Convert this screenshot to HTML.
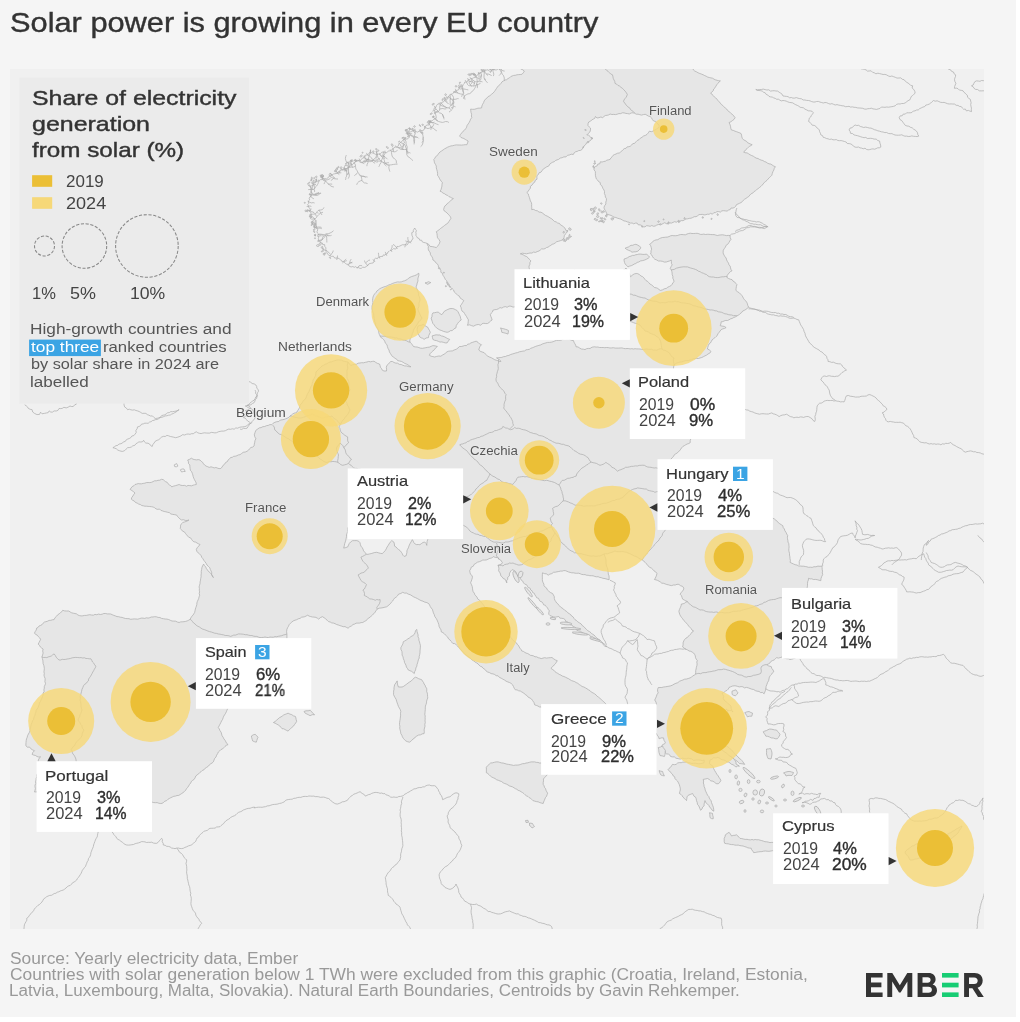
<!DOCTYPE html>
<html><head><meta charset="utf-8"><title>Solar power is growing in every EU country</title>
<style>
html,body{margin:0;padding:0;background:#fff;}
body{width:1020px;height:1022px;position:relative;overflow:hidden;font-family:"Liberation Sans",sans-serif;color:#333;}
#page{position:absolute;left:0;top:0;width:1016px;height:1017px;background:#f5f5f5;}
.abs{position:absolute;white-space:nowrap;}
.t{position:absolute;white-space:nowrap;line-height:1;will-change:transform;transform-origin:0 0;}
#map{position:absolute;left:10px;top:69px;width:974px;height:860px;background:#f0f0f0;overflow:hidden;}
.badge{will-change:transform;position:absolute;width:14.4px;height:14.3px;color:#fff;font-size:15.5px;line-height:14.2px;text-align:center;}
</style></head><body><div id="page">
<div id="map"><svg width="974" height="860" viewBox="10 69 974 860" style="position:absolute;left:0;top:0">
<g fill="#e6e6e6" stroke="#ababab" stroke-width="0.7" stroke-linejoin="round">
<path d="M380.0 335.9L379.3 334.4L378.8 332.8L378.6 331.1L378.0 329.5L377.2 328.0L376.4 326.5L375.5 325.1L375.5 323.3L374.7 321.8L374.6 320.2L374.1 318.6L373.9 317.1L373.7 315.4L373.7 313.8L373.0 312.3L372.5 310.8L372.1 309.2L372.0 307.6L372.1 305.8L372.6 304.1L372.9 302.3L372.6 300.5L372.7 298.8L373.0 297.0L373.7 295.3L374.6 293.9L375.9 292.6L376.8 291.1L378.2 290.0L379.8 288.7L381.5 287.8L383.4 287.1L385.3 286.5L387.1 285.9L388.8 284.9L390.6 284.4L392.3 283.5L394.1 282.9L395.8 282.3L397.6 281.9L399.5 282.0L401.3 281.9L403.0 281.2L404.6 280.8L406.1 280.1L407.5 279.3L408.6 278.2L410.0 277.3L411.5 276.6L413.1 276.1L414.7 275.6L416.2 275.0L418.8 273.2L418.9 275.2L418.3 277.1L417.8 279.0L418.0 281.0L417.2 283.0L416.8 285.0L416.0 287.0L416.7 288.5L417.5 290.1L418.0 291.7L418.6 293.3L418.5 295.1L419.3 296.7L419.8 298.3L420.0 300.0L419.5 301.6L418.9 303.2L419.1 305.0L418.9 306.7L418.1 308.3L418.0 310.0L418.7 311.6L419.5 313.3L420.2 314.9L421.0 316.5L422.0 318.0L421.2 319.5L419.9 320.6L418.7 321.8L417.9 323.3L417.0 324.7L416.0 326.0L415.2 327.4L414.2 328.8L413.4 330.2L413.2 332.0L412.4 333.4L412.0 335.0L411.4 336.7L410.5 338.4L409.8 340.1L410.0 342.1L411.3 343.4L412.4 344.9L413.5 346.5L415.3 346.9L417.1 347.0L418.9 347.6L420.6 348.2L422.4 348.3L424.1 348.0L425.9 347.7L427.6 347.3L429.5 347.1L431.2 346.3L432.9 345.6L435.2 345.9L437.4 346.5L435.7 347.8L434.5 349.6L432.9 350.9L431.5 352.2L430.2 353.5L429.4 355.3L431.1 356.2L432.9 356.6L434.7 357.0L436.7 356.4L438.8 356.0L440.9 356.2L442.4 355.1L444.1 354.2L445.6 353.1L447.0 351.8L448.7 351.2L450.6 351.0L452.4 350.9L454.1 350.0L456.2 349.3L457.9 348.1L459.4 346.5L461.2 346.5L463.0 346.1L464.7 345.5L466.5 345.6L467.7 344.2L469.5 343.9L470.9 342.9L472.7 342.3L474.4 341.7L476.2 341.2L478.0 342.3L479.5 343.9L481.5 344.7L480.1 346.2L479.3 348.0L478.8 350.0L480.3 351.3L482.2 352.0L484.1 352.6L485.2 353.9L486.5 355.1L487.8 356.2L489.4 357.0L491.3 357.7L493.0 358.7L494.7 359.7L496.2 360.2L497.8 360.7L499.2 361.5L500.9 361.5L499.8 359.9L498.1 358.9L496.5 357.9L498.3 357.7L500.1 357.6L501.8 357.4L503.5 356.7L505.4 356.5L507.1 355.7L508.9 355.4L510.6 354.5L512.3 354.0L514.1 353.5L515.8 352.9L517.6 352.6L519.3 351.8L521.1 351.5L522.9 351.1L524.7 350.9L526.0 349.8L527.7 349.6L529.4 349.3L530.7 348.3L532.3 347.8L533.8 347.2L535.3 346.5L537.1 345.9L538.9 345.4L540.7 344.9L542.3 344.0L544.1 343.4L545.9 342.9L547.6 342.4L549.5 342.4L551.3 342.2L553.1 341.7L554.8 341.0L556.5 340.3L558.3 340.4L560.0 340.3L561.8 339.9L563.3 339.0L565.0 338.5L566.7 338.9L568.5 339.1L570.1 339.6L571.8 340.4L573.5 340.6L574.0 342.2L574.8 343.7L575.7 345.1L576.0 346.8L578.0 346.9L579.6 348.0L581.3 349.0L583.3 349.2L585.0 349.6L586.6 348.7L588.3 348.4L590.0 348.5L592.0 347.2L594.4 346.8L596.1 347.1L597.9 347.0L599.6 347.5L601.3 347.5L603.1 347.5L604.8 347.7L606.6 347.5L608.3 347.6L610.0 348.0L611.7 347.9L613.4 347.7L615.1 348.1L616.8 348.1L618.5 348.1L620.2 348.0L621.9 347.9L623.6 348.4L625.3 348.7L627.0 348.5L628.6 348.6L630.2 348.9L631.9 348.7L633.5 349.0L635.1 348.7L636.7 348.9L638.4 348.9L640.0 349.0L641.7 349.3L643.3 349.6L645.0 349.2L646.7 349.0L648.4 349.3L650.0 349.3L651.7 349.3L653.3 350.0L655.0 350.0L656.8 350.2L658.5 349.3L660.2 348.7L662.0 349.0L661.6 347.2L661.3 345.4L661.0 343.6L660.7 341.7L660.0 340.0L659.1 338.4L657.9 337.1L656.2 336.3L655.0 335.0L653.2 334.5L651.6 333.8L649.9 333.2L648.4 332.0L646.8 331.4L645.0 331.0L643.9 329.4L642.5 328.0L641.0 326.7L640.0 325.0L638.4 324.4L636.9 323.5L635.2 323.3L633.6 322.7L632.0 322.0L630.3 321.5L628.7 320.7L626.9 320.2L625.1 319.8L623.6 318.8L622.0 318.0L621.2 316.1L621.4 314.0L621.0 312.0L621.0 310.2L620.2 308.5L620.1 306.8L620.0 305.0L619.6 303.4L619.8 301.6L619.9 300.0L619.4 298.3L619.3 296.7L619.0 295.0L618.7 293.3L618.2 291.7L618.0 290.0L617.7 288.3L617.5 286.7L617.4 285.0L617.7 283.3L617.5 281.6L617.0 280.0L617.4 278.3L618.0 276.7L619.1 275.3L619.7 273.7L620.0 272.0L621.7 271.3L623.2 270.3L624.7 269.3L626.0 268.0L626.9 269.4L627.7 270.8L628.5 272.2L629.4 273.6L629.9 275.2L630.6 276.7L632.9 274.7L634.4 273.9L636.1 273.5L637.8 273.7L639.5 274.6L640.9 276.0L642.7 276.7L643.9 277.9L644.8 279.2L645.9 280.5L647.5 281.3L648.6 282.5L649.9 284.0L651.6 284.9L653.1 286.2L654.5 287.5L656.2 287.8L657.7 288.4L659.0 289.5L660.4 290.4L662.4 289.9L664.3 288.8L666.3 288.4L667.8 287.2L669.5 286.4L671.2 285.5L672.2 284.2L672.9 282.7L674.1 281.6L673.6 279.9L672.8 278.2L672.9 276.4L672.2 274.7L672.1 273.0L671.8 271.4L671.2 269.8L670.2 268.8L671.0 266.7L672.2 264.9L671.4 263.4L671.4 261.7L671.2 260.0L669.7 260.9L668.0 261.4L666.3 262.0L664.3 262.1L662.4 261.3L660.4 261.0L658.4 261.0L656.8 260.0L654.9 259.3L653.5 258.0L652.6 256.7L651.9 255.2L650.6 254.1L651.0 252.5L651.0 250.8L651.6 249.2L651.2 247.5L650.7 245.7L649.6 244.3L651.4 243.2L652.7 241.5L654.5 240.4L656.1 239.9L657.8 239.7L659.3 238.7L660.8 238.0L662.4 237.5L664.1 237.4L665.7 237.2L667.4 237.1L669.0 236.6L670.6 235.8L672.2 235.5L673.9 235.7L675.5 235.7L677.2 235.6L678.8 235.0L680.4 234.6L682.0 234.5L683.7 234.7L685.4 234.8L687.0 234.0L688.7 233.5L690.3 233.2L692.0 233.5L693.7 233.5L695.4 233.4L697.1 233.3L698.8 233.7L700.4 234.4L702.1 234.4L703.8 234.1L705.5 234.5L707.2 234.3L708.9 234.3L710.6 234.5L712.3 234.6L714.0 234.6L715.6 235.0L717.3 235.5L719.1 235.1L720.9 234.9L722.7 234.8L724.6 235.2L726.4 235.6L728.2 235.4L730.0 235.5L730.2 237.5L731.0 239.4L729.8 240.9L728.9 242.6L727.8 244.2L726.1 245.3L725.4 247.1L724.3 248.6L723.3 250.2L723.1 252.2L723.4 253.9L724.2 255.3L725.0 256.7L726.1 258.0L726.6 259.8L727.4 261.5L728.5 263.1L729.0 264.9L730.2 266.1L730.5 267.9L731.0 269.5L732.0 270.8L730.4 271.6L729.2 272.9L728.1 274.2L727.1 275.7L727.1 277.6L728.6 278.5L730.3 279.2L732.0 279.6L733.0 281.1L734.6 281.9L735.7 283.3L736.9 284.5L736.4 286.4L736.1 288.4L735.9 290.4L737.5 291.7L739.3 292.8L740.8 294.3L741.9 295.5L742.8 296.9L743.5 298.4L744.5 299.7L745.7 300.9L746.7 302.2L747.4 303.8L747.8 305.5L748.6 307.1L747.3 308.3L745.9 309.4L744.4 310.3L742.7 311.0L741.6 312.6L740.0 313.7L738.7 315.1L736.9 315.9L735.4 316.9L733.8 317.5L732.2 318.4L730.5 318.9L729.0 319.8L727.5 320.5L725.8 320.4L724.3 320.9L722.8 321.6L721.2 321.8L720.9 323.8L720.2 325.7L722.2 326.1L724.3 326.4L726.1 327.6L724.5 328.4L722.8 328.9L721.2 329.6L720.1 331.0L719.1 332.4L717.9 333.8L717.3 335.5L716.0 336.6L714.8 337.8L713.4 338.8L712.1 339.9L711.3 341.5L710.4 343.0L709.0 344.0L708.3 345.6L707.8 347.3L707.5 349.0L709.4 350.0L711.0 351.5L709.8 353.1L708.0 354.0L706.6 355.1L704.9 355.9L703.4 356.7L701.8 357.5L700.0 358.0L698.4 358.5L696.6 358.4L694.9 358.7L693.2 358.8L691.7 359.8L690.0 360.0L688.4 360.6L686.6 360.5L685.0 360.8L683.3 361.4L681.7 361.9L680.0 362.0L678.4 362.6L676.8 363.0L675.3 363.9L674.0 365.0L673.5 368.0L673.7 369.7L674.4 371.4L675.0 373.0L675.3 374.8L675.3 376.6L675.8 378.3L676.0 380.0L676.4 381.6L677.0 383.1L677.7 384.6L678.2 386.1L678.9 387.6L679.5 389.0L679.9 390.6L680.5 392.1L681.3 393.6L682.0 395.0L683.2 396.1L684.3 397.2L685.4 398.4L686.0 400.0L686.7 401.5L687.9 402.6L688.8 403.9L690.0 405.0L689.9 406.7L689.4 408.3L689.6 410.0L689.0 411.6L688.7 413.3L688.2 414.9L688.0 416.6L688.1 418.3L688.0 420.0L688.4 421.6L688.9 423.3L688.7 425.0L688.9 426.7L689.7 428.3L689.6 430.0L690.3 431.7L690.8 433.3L690.4 435.1L690.5 436.8L691.0 438.4L690.2 440.5L690.2 442.7L688.8 443.5L687.2 444.0L685.7 444.8L684.3 445.7L682.8 446.5L681.7 447.8L680.7 449.2L679.8 450.6L678.4 451.6L677.4 452.9L675.8 453.8L674.4 454.7L673.6 456.2L672.5 457.5L670.6 459.4L670.8 461.2L671.3 462.9L671.0 464.7L671.3 466.5L671.6 468.3L672.0 470.0L672.6 471.6L674.1 472.6L674.8 474.1L676.1 475.3L677.2 476.5L678.0 478.0L679.6 478.7L681.0 479.8L682.3 481.0L683.8 481.9L685.5 482.4L687.2 483.0L688.6 483.9L690.0 485.0L691.6 485.7L693.0 486.8L694.4 487.9L696.0 488.7L697.4 489.6L698.5 491.0L700.0 492.0L701.6 492.7L703.4 492.9L704.9 493.9L706.6 494.3L708.4 494.7L709.9 495.6L711.6 496.2L713.3 496.5L715.0 497.0L716.7 497.3L718.3 497.7L719.9 498.3L721.6 498.7L723.4 498.5L725.1 498.5L726.7 498.9L728.4 499.4L730.0 500.0L731.7 500.3L733.3 500.8L735.1 500.7L736.7 501.1L738.3 501.6L740.0 502.0L741.7 502.1L743.3 502.7L745.0 503.0L746.5 503.6L747.9 504.7L749.5 505.2L751.0 505.8L752.4 506.8L754.0 507.2L755.3 508.2L756.9 508.8L758.5 509.4L760.0 510.0L761.5 510.8L763.0 511.7L764.4 512.7L765.7 513.9L767.3 514.5L768.6 515.7L769.8 516.9L771.6 517.3L773.0 518.3L774.6 519.1L775.9 520.3L777.3 521.3L778.4 522.8L779.8 523.8L781.3 524.7L782.8 525.7L783.2 527.5L784.4 529.0L784.9 530.8L786.0 532.3L786.7 534.0L787.7 535.5L787.4 537.2L787.5 538.8L787.9 540.5L788.0 542.1L788.8 543.7L788.9 545.3L789.1 546.9L788.9 548.5L788.8 550.2L789.1 551.8L789.5 553.4L789.5 555.0L789.9 556.8L790.0 558.7L790.4 560.5L790.1 562.4L791.8 563.2L793.5 564.0L795.2 564.7L797.1 565.1L798.7 566.0L800.4 566.0L802.0 566.2L803.7 566.2L805.3 566.5L806.9 566.8L808.5 567.3L810.4 567.2L812.2 567.4L814.0 566.7L815.9 566.8L817.9 566.1L820.0 566.3L822.0 566.0L822.1 567.7L822.2 569.4L822.5 571.1L822.3 572.9L822.7 574.6L821.7 576.5L821.0 578.5L820.8 580.7L819.0 580.2L817.2 579.7L815.3 579.4L813.4 579.5L811.8 578.8L810.1 578.9L808.5 578.3L808.4 580.0L807.7 581.7L807.5 583.4L807.5 585.2L807.3 586.9L807.0 588.5L807.2 590.2L807.1 591.8L806.6 593.4L806.5 595.1L806.4 596.7L805.9 598.3L806.0 600.0L806.1 601.7L806.4 603.3L807.0 605.0L807.0 606.7L807.2 608.3L807.6 610.0L807.3 611.7L807.6 613.4L808.0 615.0L808.5 616.7L808.9 618.5L809.9 620.1L810.2 621.9L811.0 623.5L812.0 625.0L811.3 626.5L810.8 628.0L809.8 629.3L809.3 630.9L809.2 632.6L808.2 633.9L807.8 635.5L807.3 637.1L806.7 638.5L806.0 640.0L806.1 641.7L805.7 643.4L805.5 645.1L805.4 646.9L805.3 648.6L805.3 650.3L805.0 652.0L803.7 653.1L802.4 654.2L800.9 654.9L799.6 655.9L797.8 656.2L796.6 657.4L795.0 658.0L793.4 658.7L791.7 659.2L790.0 659.5L788.5 658.8L786.7 658.7L785.1 658.2L783.5 657.8L782.0 657.0L780.2 657.6L778.4 658.1L776.5 657.6L775.4 658.8L774.2 659.9L772.7 660.5L771.2 661.2L770.1 662.8L768.5 663.9L766.8 664.7L768.8 666.0L771.2 666.5L771.8 668.4L773.1 670.0L773.8 671.8L772.4 672.9L771.5 674.4L770.3 675.6L769.4 677.1L769.0 678.9L768.6 680.8L767.6 682.4L766.9 684.4L766.1 686.4L765.9 688.5L765.5 690.3L764.8 692.1L764.1 693.8L762.6 692.5L760.6 692.6L759.0 691.4L757.1 691.2L755.3 690.6L753.7 689.5L751.8 689.2L750.0 688.5L748.3 687.9L746.5 687.4L744.5 687.9L742.9 686.8L741.1 686.6L739.3 686.9L737.6 686.4L735.9 685.9L734.1 685.8L732.3 686.1L730.6 686.8L729.0 687.5L728.3 689.1L727.1 690.3L725.4 691.2L723.9 692.5L722.0 693.0L722.8 694.7L723.7 696.3L723.2 698.3L724.0 700.0L725.5 701.1L726.8 702.4L728.1 703.7L729.6 704.8L731.0 706.0L731.1 708.2L731.8 710.2L733.0 712.0L731.5 710.6L729.5 710.6L727.5 710.3L726.0 709.0L727.7 710.3L727.6 712.5L728.2 714.3L729.0 716.0L727.3 715.7L726.0 714.7L724.7 713.8L723.3 712.9L722.0 712.0L720.9 710.7L720.2 709.0L718.6 708.2L717.4 707.0L716.0 706.0L713.8 706.1L711.7 706.5L710.0 708.0L708.9 709.2L708.2 710.7L707.1 711.9L706.4 713.4L706.0 715.0L705.7 716.8L706.2 718.4L707.1 720.0L707.2 721.7L707.6 723.3L708.0 725.0L708.6 726.6L709.6 727.9L710.4 729.4L711.0 731.0L712.3 732.1L713.3 733.5L714.0 735.0L714.1 737.2L713.2 739.2L712.0 741.0L714.0 741.4L715.3 742.8L717.1 743.4L718.7 744.5L720.0 746.0L721.6 746.7L722.4 748.4L724.1 748.9L725.4 750.0L726.6 751.1L728.0 752.0L729.0 753.7L729.8 755.6L731.3 756.9L733.0 758.0L734.1 759.3L735.1 760.7L736.0 762.1L736.0 764.0L737.8 765.0L739.4 766.2L737.5 766.0L735.9 767.1L734.6 765.8L733.1 764.8L731.4 764.2L730.0 763.0L728.6 762.1L726.9 761.8L725.5 760.7L724.0 760.0L722.3 759.8L720.8 759.2L719.4 758.1L717.8 757.4L716.0 758.0L713.7 757.7L712.0 759.3L710.0 760.0L709.4 763.5L711.1 764.9L712.9 766.2L713.6 768.5L714.7 770.6L715.8 772.4L716.9 774.3L718.2 775.9L719.0 777.4L720.0 778.8L720.9 780.3L719.9 782.3L718.2 783.8L716.1 783.6L714.6 782.3L712.9 781.2L710.8 780.9L709.3 779.5L707.6 778.5L705.4 779.0L703.2 779.4L703.6 781.1L703.4 783.0L703.9 784.7L704.1 786.5L704.9 788.2L705.2 790.1L706.0 791.8L706.8 793.6L707.6 795.3L708.8 796.5L709.3 798.2L710.2 799.5L711.2 800.9L711.5 802.6L712.1 804.1L712.8 805.8L713.4 807.5L713.7 809.3L713.8 811.2L712.1 810.2L711.2 808.5L709.7 807.3L708.9 805.5L707.6 804.1L705.8 802.7L705.0 800.6L704.5 802.3L704.1 804.1L704.1 805.9L702.6 807.1L702.0 809.0L700.6 810.3L699.7 808.1L698.8 805.9L697.5 804.4L697.2 802.4L696.5 800.7L696.2 798.8L695.6 797.2L694.1 796.3L693.3 794.9L692.6 793.5L690.4 794.4L688.2 795.3L687.0 796.9L686.8 798.7L686.5 800.6L685.3 799.4L684.1 798.2L682.9 797.0L682.0 795.5L680.9 794.3L679.4 793.5L679.8 791.7L680.3 790.0L680.3 788.2L679.8 786.4L679.3 784.6L678.5 782.9L677.6 781.2L676.3 780.0L675.0 778.7L674.7 776.8L673.1 775.8L672.4 774.1L670.8 772.7L669.6 771.0L667.9 769.7L669.0 768.4L670.5 767.3L671.5 765.9L672.4 764.4L674.3 764.7L676.1 764.4L677.6 763.0L679.4 762.6L681.2 762.7L682.9 762.1L684.8 762.2L686.5 761.8L688.2 762.6L689.9 762.9L691.7 763.4L693.5 763.3L695.3 763.2L697.1 763.5L698.9 763.8L700.7 763.6L702.4 763.3L704.1 762.6L704.1 760.0L702.4 760.7L700.6 760.2L698.9 760.0L697.1 760.0L695.2 760.2L693.3 760.4L691.8 758.8L690.0 758.6L688.2 758.2L686.3 758.8L684.2 758.6L682.2 758.2L680.3 759.1L678.1 758.6L675.9 758.2L674.4 756.9L672.4 756.9L670.6 756.5L669.7 754.9L668.4 754.1L666.5 753.9L665.3 752.9L664.9 750.9L663.3 749.5L661.9 748.0L661.8 745.9L662.7 744.5L664.6 743.9L665.3 742.3L664.0 740.3L663.5 737.9L661.2 737.9L659.1 738.8L658.6 736.7L657.0 735.3L656.3 733.5L654.8 732.3L653.4 731.1L652.1 729.9L651.2 728.2L650.2 726.8L649.0 725.5L647.8 724.3L647.1 722.7L646.0 721.4L645.9 719.4L646.0 717.6L646.0 715.8L646.2 714.0L646.8 712.3L647.6 710.6L649.1 709.6L650.9 709.0L652.5 708.2L653.6 706.5L655.3 705.8L656.5 704.4L656.0 702.1L654.7 700.0L655.6 698.2L656.4 696.4L657.0 694.5L658.2 692.9L657.6 691.1L657.6 689.4L658.2 687.6L660.0 687.5L661.8 687.5L663.5 687.0L665.3 686.8L667.1 686.5L669.0 686.2L670.8 685.8L672.5 685.1L674.1 684.1L675.9 683.3L677.8 682.7L679.4 681.3L681.2 680.6L682.9 680.0L684.6 679.2L686.5 679.0L688.3 678.5L690.0 677.9L691.5 677.2L692.7 675.9L694.2 675.2L695.5 674.2L695.7 672.5L695.7 670.7L696.1 669.0L696.4 667.3L696.9 665.6L697.1 663.9L696.8 662.1L697.3 660.4L696.2 659.1L695.5 657.6L695.3 655.9L694.6 654.4L693.6 653.0L692.2 652.1L690.8 651.3L689.1 651.0L687.8 650.1L686.3 649.4L684.4 648.3L682.6 646.9L683.1 644.9L683.1 642.8L683.8 640.8L684.8 639.3L686.0 638.1L687.6 637.3L688.7 635.9L689.9 634.7L691.2 633.5L692.1 632.0L693.6 631.0L692.0 630.1L691.1 628.6L689.9 627.3L688.7 626.1L687.6 624.5L686.3 623.1L685.1 621.6L683.6 620.3L682.6 618.7L681.5 617.4L680.6 616.1L679.8 614.6L679.3 613.0L678.9 611.4L679.4 609.5L680.3 607.7L681.0 605.9L681.4 604.0L683.1 603.8L684.6 603.2L685.9 602.0L687.5 601.6L685.8 600.8L684.2 600.0L682.6 599.1L682.0 597.3L681.4 595.6L680.1 594.2L681.1 592.7L682.3 591.3L683.4 589.9L683.8 588.1L682.6 586.4L680.5 585.7L678.9 584.4L677.0 584.3L675.3 585.0L673.4 585.0L671.6 585.6L669.9 585.3L668.3 584.8L666.7 584.5L665.1 583.9L663.5 583.3L661.8 583.2L660.5 582.1L659.1 581.2L657.6 580.4L656.1 579.9L654.4 579.5L655.3 578.1L656.0 576.6L656.6 575.1L656.9 573.4L655.7 571.9L654.0 570.9L652.8 569.4L651.4 568.1L649.5 567.3L648.3 566.0L647.3 564.6L646.0 563.5L644.8 562.2L643.7 560.9L642.2 559.9L640.6 559.1L639.0 558.4L637.6 557.4L636.1 556.5L634.3 556.0L632.8 555.2L631.2 554.4L629.7 553.6L628.0 553.0L626.4 552.3L624.8 552.0L623.2 551.6L621.6 551.5L619.9 551.7L618.2 551.7L616.6 551.6L615.0 551.0L613.5 551.6L612.0 552.3L610.4 552.7L608.9 553.3L607.3 553.9L605.6 553.7L604.0 554.0L604.7 556.0L605.6 557.9L606.0 560.0L606.0 561.6L606.0 563.3L606.3 564.8L606.6 566.4L607.4 567.9L607.9 570.1L608.2 572.3L608.3 574.1L609.0 575.8L609.1 577.6L609.1 579.8L607.1 579.2L605.0 578.6L602.9 578.3L601.3 577.7L599.7 577.4L598.1 576.7L596.3 576.8L594.7 576.4L593.1 575.8L591.5 575.7L589.8 575.7L588.2 575.3L586.5 575.2L585.0 574.6L583.3 574.6L581.7 574.4L580.1 573.7L578.5 573.2L576.8 573.3L575.1 573.2L573.5 572.8L571.8 572.8L570.2 572.4L568.6 572.0L567.0 571.3L565.5 570.7L563.8 570.6L562.2 571.1L560.5 571.1L558.8 571.5L557.0 571.8L555.3 572.2L553.5 572.3L551.9 573.6L549.9 574.1L548.2 575.2L546.5 573.9L544.4 573.6L542.5 572.8L542.4 574.4L542.3 576.1L542.4 577.8L542.3 579.4L542.5 581.1L543.1 582.6L543.9 584.1L544.0 585.8L545.2 587.1L546.6 588.1L547.3 589.8L548.6 591.0L550.4 592.5L552.6 593.5L553.4 595.0L554.3 596.6L554.3 598.4L554.8 600.1L555.8 601.6L556.8 603.1L558.2 604.2L559.3 605.7L560.5 607.0L562.0 608.0L563.5 609.0L564.8 610.4L566.5 611.3L567.7 612.7L569.3 613.7L570.7 614.6L571.6 616.0L573.1 616.9L574.0 618.4L575.0 619.7L576.5 620.5L577.8 621.9L579.5 622.9L581.1 623.9L582.2 625.5L583.8 626.6L585.1 628.0L586.4 629.4L587.8 630.7L589.5 631.6L591.0 632.8L592.3 634.1L594.0 635.0L595.3 636.4L596.6 637.7L598.0 639.0L599.6 639.7L600.8 641.0L602.0 642.2L603.3 643.3L604.8 644.3L606.0 645.6L606.5 646.5L604.6 646.0L603.3 644.8L602.6 642.9L600.7 642.4L599.4 641.2L597.8 640.7L596.6 639.4L595.4 638.2L593.8 637.8L592.5 636.7L590.6 636.8L589.4 634.8L587.4 634.4L585.2 634.3L583.5 633.2L581.9 632.4L580.5 631.3L578.6 630.9L576.8 630.3L576.2 628.1L574.7 627.1L573.0 626.7L572.0 625.0L570.1 624.8L569.0 623.3L567.7 622.1L565.9 621.8L565.2 619.8L563.8 618.7L561.9 618.3L559.8 618.1L558.8 616.5L557.0 616.8L555.2 617.2L553.4 616.8L551.7 616.2L550.0 615.6L548.8 614.3L548.8 612.6L549.3 610.8L548.2 609.4L547.5 607.9L546.3 606.7L545.4 605.3L543.6 604.8L542.9 603.2L541.9 601.9L540.1 601.3L539.2 599.9L538.5 598.3L536.7 597.8L535.9 596.2L534.9 594.9L534.3 593.3L532.6 592.5L532.1 590.8L530.6 590.0L530.1 588.1L528.2 587.6L527.4 586.1L526.5 584.7L524.7 584.1L523.5 582.9L522.8 581.2L521.3 580.2L520.5 578.6L519.3 577.3L518.2 575.9L516.5 574.5L516.1 572.2L514.7 570.6L512.1 569.7L511.2 570.6L510.1 572.2L509.4 573.9L509.4 575.9L507.7 577.3L507.7 579.3L506.6 580.8L506.8 582.9L506.0 581.1L505.2 579.3L503.2 578.5L502.3 577.0L500.8 575.8L500.5 574.0L499.7 572.4L498.6 570.8L498.9 568.8L498.7 567.0L497.9 565.3L499.6 564.7L501.3 564.2L502.4 562.6L500.6 560.0L498.9 559.0L497.4 557.6L495.3 557.4L493.2 556.6L491.7 558.1L489.9 558.3L488.2 559.1L486.5 559.9L484.7 560.1L482.8 560.0L481.2 560.9L479.4 561.7L477.4 562.2L475.8 563.4L474.1 564.4L473.3 566.2L471.3 567.1L470.7 569.0L469.7 570.6L470.0 572.5L470.5 574.3L472.2 575.7L472.4 577.6L471.9 579.3L471.3 581.1L470.6 582.8L471.5 584.7L472.2 586.4L472.5 588.2L472.7 590.0L473.2 591.8L474.3 593.1L474.8 594.7L475.9 595.9L477.0 597.2L477.6 598.8L479.1 599.9L480.5 601.2L481.5 602.8L482.9 604.1L483.8 605.5L484.7 607.0L485.8 608.2L487.1 609.3L488.0 610.8L489.3 611.9L490.7 612.8L491.9 614.0L492.7 615.6L494.1 616.6L495.0 618.0L496.0 619.2L497.1 620.5L498.3 621.6L499.4 622.8L500.4 624.1L501.3 625.4L502.4 626.6L502.9 628.3L504.0 629.5L505.0 630.7L506.0 632.0L507.1 633.3L508.2 634.5L509.4 635.7L510.4 637.1L511.5 638.3L512.6 639.7L513.8 640.9L515.1 641.9L516.5 642.9L517.2 644.4L518.5 645.4L519.2 646.9L520.0 648.3L521.1 649.5L521.8 651.0L523.4 651.4L524.7 652.3L526.1 653.1L527.7 653.5L529.1 654.4L530.4 655.3L532.0 655.5L533.6 655.9L535.0 656.8L536.7 656.8L538.1 657.7L539.7 658.0L541.2 658.6L543.0 658.1L544.7 657.7L546.6 658.1L548.4 657.8L550.2 657.7L552.0 657.5L553.6 658.8L555.3 659.9L557.3 660.7L556.4 662.2L555.4 663.8L554.1 665.0L552.6 666.7L550.9 668.3L552.3 669.3L553.8 670.2L554.9 671.6L556.3 672.6L557.8 673.4L559.2 674.4L560.8 675.0L562.2 676.0L563.9 676.5L565.5 677.2L567.0 678.0L568.6 678.7L570.0 679.7L571.5 680.6L573.1 681.1L574.8 681.7L576.2 682.6L577.8 683.3L579.2 684.5L580.7 685.4L582.1 686.5L583.9 687.0L585.5 687.9L587.0 688.8L588.5 689.8L590.1 690.7L591.3 692.1L593.0 692.9L594.6 693.8L596.0 694.9L597.2 696.3L598.6 697.2L599.9 698.3L601.1 699.4L602.3 700.5L603.6 701.6L605.2 703.3L606.8 704.9L608.2 706.1L609.3 707.5L610.6 708.8L612.0 710.0L613.4 710.8L614.6 711.9L615.9 712.9L616.8 714.2L618.1 715.2L619.6 715.8L620.9 716.9L622.0 718.0L623.1 719.3L623.8 720.8L625.1 721.9L626.1 723.2L626.9 724.8L628.0 726.0L626.6 727.3L625.3 728.6L624.0 730.0L622.5 729.2L621.3 728.0L619.8 727.3L618.7 726.0L617.5 724.8L616.0 724.0L614.8 722.6L612.9 722.1L611.4 721.2L610.0 720.0L608.2 720.5L606.4 720.8L604.6 721.0L603.0 722.0L601.8 723.6L600.6 725.1L599.4 726.7L598.0 728.0L597.8 729.7L597.1 731.3L597.1 733.0L596.7 734.7L596.5 736.4L596.0 738.0L595.1 739.6L593.7 740.9L592.3 742.1L591.4 743.8L590.0 745.0L590.1 746.8L589.3 748.3L588.6 749.9L588.5 751.6L588.4 753.3L588.0 755.0L586.9 756.2L586.2 757.6L585.0 758.8L583.7 759.8L582.9 761.2L581.6 762.2L581.1 763.8L580.0 765.0L578.7 766.2L577.1 767.0L575.6 768.0L574.5 769.5L573.1 770.6L572.0 772.0L570.2 770.8L568.0 770.7L566.0 770.0L566.0 768.3L566.0 766.7L566.3 765.0L565.8 763.3L566.0 761.7L566.0 760.0L564.8 758.8L563.7 757.6L562.7 756.3L562.1 754.6L561.1 753.2L560.0 752.0L559.1 750.4L558.5 748.7L558.2 746.9L557.8 745.1L556.6 743.7L556.0 742.0L555.2 740.4L554.4 738.8L554.2 737.1L554.0 735.3L553.5 733.7L553.0 732.0L552.6 730.3L552.4 728.6L552.0 726.8L551.0 725.3L550.5 723.7L550.0 722.0L549.2 720.3L548.4 718.6L547.2 717.1L546.8 715.3L546.0 713.6L545.0 712.0L544.1 710.1L542.8 708.4L541.2 707.0L539.4 706.9L537.9 706.0L536.3 705.4L534.7 704.9L534.0 702.6L532.6 700.6L531.5 699.0L530.0 698.0L528.3 697.3L527.3 695.9L525.9 694.9L524.5 694.0L523.4 692.7L521.8 692.0L520.3 691.0L518.6 690.8L517.1 689.9L515.3 689.8L514.2 688.2L513.4 686.4L512.5 684.7L511.0 683.3L509.4 682.5L507.7 681.9L506.1 681.2L504.6 680.1L502.9 679.2L501.2 678.2L499.4 677.4L498.1 675.8L496.2 675.7L494.7 674.5L493.0 673.9L491.1 673.6L489.5 672.6L487.6 672.0L486.0 670.9L484.8 669.3L483.1 668.3L482.1 666.9L480.4 666.3L479.1 665.2L478.0 663.9L476.6 662.9L475.1 662.1L473.9 661.0L472.4 660.3L471.2 659.1L470.0 658.0L468.8 656.8L467.3 656.0L466.0 655.0L464.7 653.7L463.5 652.4L462.2 651.2L461.0 649.9L459.9 648.4L458.5 647.3L457.4 645.8L456.1 644.6L454.6 643.6L452.9 643.5L451.9 642.2L450.7 641.0L449.8 639.7L448.4 638.7L447.7 637.1L446.5 636.0L445.3 634.9L444.2 633.6L442.9 632.6L441.3 631.9L441.0 629.9L440.0 628.2L439.1 626.4L438.8 624.5L438.0 622.3L437.1 620.1L436.1 618.3L434.9 616.7L434.3 614.7L433.4 612.9L432.9 611.1L432.3 609.2L431.2 608.0L430.3 606.6L429.6 605.1L428.8 603.7L426.9 602.6L424.7 602.1L422.9 601.2L421.0 600.6L419.2 599.6L417.4 598.6L415.6 597.7L413.7 596.9L412.0 595.8L410.2 594.7L408.2 594.1L406.5 593.1L404.5 593.1L402.7 592.3L400.8 593.5L398.6 594.1L397.5 595.8L396.2 597.1L394.5 598.2L393.5 599.6L392.6 601.1L391.3 602.3L390.4 603.7L389.1 604.8L387.9 605.9L386.6 606.8L384.9 607.2L383.0 607.7L381.1 608.0L379.1 608.2L377.4 609.2L376.0 610.4L375.2 612.1L374.1 613.5L372.6 614.7L371.3 615.9L370.1 617.3L368.4 618.1L367.3 619.5L365.9 620.7L364.3 621.5L362.8 622.5L361.1 622.6L359.5 623.1L357.8 623.1L356.1 623.2L354.6 624.1L353.0 624.5L351.5 625.9L349.6 626.8L348.1 628.2L346.5 627.4L345.0 626.6L343.2 626.7L341.6 626.1L339.9 625.6L338.3 625.0L336.6 624.5L335.1 623.7L333.5 623.1L331.7 622.9L330.2 622.0L328.5 621.6L327.1 620.2L325.7 618.9L324.1 617.7L322.4 616.7L320.4 617.6L318.7 619.1L317.3 618.1L315.8 617.4L314.1 617.1L312.4 617.0L310.7 616.6L309.1 616.1L307.7 615.2L306.3 615.9L304.8 616.7L303.2 617.0L301.6 617.2L300.1 618.4L298.3 618.8L296.7 619.7L295.0 620.2L293.3 620.9L291.8 622.1L290.4 623.3L289.2 624.6L288.5 626.3L287.6 627.7L286.9 629.4L286.6 631.7L286.9 634.0L286.9 636.0L286.9 638.0L286.8 639.8L285.9 641.3L285.7 643.1L284.9 644.7L284.8 646.4L284.0 648.0L283.0 649.4L281.7 650.5L280.4 651.6L278.9 652.5L277.9 653.9L276.9 655.3L275.7 656.5L274.3 657.5L273.0 658.6L272.0 660.0L270.6 660.9L269.1 661.5L267.8 662.4L266.5 663.4L265.0 663.9L263.7 665.0L262.2 665.7L260.9 666.6L259.5 667.4L258.0 668.0L256.8 669.3L255.2 670.0L253.7 670.8L252.3 671.7L250.9 672.7L249.6 673.8L248.3 674.9L247.0 676.0L245.9 677.2L245.0 678.6L244.3 680.2L243.3 681.6L242.3 682.9L241.1 684.1L239.8 685.2L238.9 686.6L238.0 688.0L237.3 689.5L236.6 691.1L235.8 692.5L234.9 693.9L234.1 695.4L233.6 697.1L232.6 698.4L232.0 700.0L231.5 701.6L230.8 703.1L230.4 704.7L229.6 706.1L228.5 707.4L227.6 708.8L226.9 710.3L226.3 711.8L225.6 713.3L224.7 714.7L223.8 716.1L223.2 717.6L222.6 719.4L221.6 720.9L220.8 722.6L220.0 724.2L219.1 725.9L218.3 727.5L219.3 729.0L220.0 730.7L221.1 732.2L221.6 734.0L222.1 735.8L223.2 737.3L223.9 738.9L225.1 740.3L225.9 741.9L226.7 743.4L228.1 744.6L226.4 745.3L225.0 746.4L223.8 747.7L222.6 748.9L220.9 749.6L219.7 750.9L218.3 752.0L217.6 753.7L216.6 755.2L216.0 757.0L214.7 758.4L214.0 760.1L213.4 761.8L212.1 763.0L210.6 763.9L209.2 765.0L208.2 766.4L206.7 767.3L205.2 768.2L204.1 769.7L202.4 770.4L201.2 771.6L199.7 772.6L198.6 773.9L197.1 774.9L195.8 776.0L195.1 777.8L194.2 779.3L192.7 780.3L191.4 781.4L190.7 783.0L189.5 784.4L188.7 785.9L187.7 787.4L186.5 788.7L185.6 790.3L184.4 791.5L183.1 792.6L181.6 793.6L180.2 794.5L178.8 795.4L177.0 795.5L175.5 796.1L173.8 796.3L172.3 797.0L170.8 797.7L169.3 798.5L167.8 799.4L166.5 800.7L164.8 801.2L163.5 802.5L162.0 803.4L160.3 803.5L158.7 803.2L157.1 802.6L155.5 802.7L153.8 802.6L152.2 802.2L150.6 803.1L148.7 803.1L146.8 803.3L145.1 803.9L143.4 804.6L141.8 805.6L140.0 806.0L138.4 806.6L136.9 807.3L135.4 808.0L134.0 809.1L132.7 810.1L131.1 810.8L129.7 811.6L128.0 812.0L126.3 811.5L124.6 810.8L122.9 810.4L121.3 809.3L119.8 808.4L118.0 808.0L116.9 806.8L115.5 806.0L114.5 804.7L113.3 803.6L111.8 803.0L110.6 801.8L109.2 801.1L108.0 800.0L106.3 799.3L104.9 798.2L103.4 797.2L101.7 796.6L100.0 796.0L98.3 795.5L96.6 794.8L94.9 794.4L93.4 793.2L91.8 792.4L90.0 792.0L88.4 791.1L86.7 791.1L85.0 790.8L83.3 790.9L81.6 790.8L80.0 790.0L78.4 790.6L76.8 790.7L75.2 790.3L73.6 790.2L72.0 790.0L70.3 790.4L68.5 790.7L66.8 791.2L65.1 791.7L63.5 792.3L61.7 792.4L60.0 793.0L58.3 792.9L56.6 793.2L55.0 793.2L53.3 792.8L51.7 792.2L50.0 792.2L48.3 792.6L46.6 792.4L45.0 792.0L43.2 792.5L41.5 792.5L39.8 792.4L38.0 791.9L36.2 791.9L34.5 792.0L35.0 790.3L35.4 788.6L35.0 786.8L35.0 785.1L35.8 783.5L35.5 781.7L36.0 780.0L36.1 778.3L36.8 776.7L36.8 775.0L37.5 773.4L38.0 771.7L38.0 770.0L38.5 768.4L38.1 766.8L37.9 765.2L37.8 763.6L38.0 762.0L38.4 760.1L39.1 758.3L40.6 756.9L38.7 757.0L37.0 756.5L35.5 755.5L33.7 755.1L32.1 754.4L32.9 752.3L34.5 750.7L32.6 749.9L30.9 748.8L29.6 747.1L27.5 747.2L25.9 745.8L25.9 744.1L26.0 742.3L26.2 740.6L26.5 738.9L27.2 737.3L27.6 735.6L28.4 734.1L29.3 732.5L30.0 730.9L30.0 729.1L30.6 727.5L30.9 725.8L31.3 724.1L32.1 722.5L32.5 720.9L33.5 719.6L33.8 718.0L34.3 716.5L35.1 715.1L35.3 713.4L36.0 712.0L36.1 710.3L37.1 709.0L38.0 707.6L38.6 706.0L39.2 704.5L39.4 702.9L40.5 701.4L41.1 699.8L41.9 698.2L42.5 696.6L43.1 695.0L43.1 693.1L44.1 691.6L43.9 689.8L44.3 688.2L44.3 686.5L45.1 684.9L45.5 683.3L44.9 681.7L45.1 680.0L45.1 678.4L44.4 676.8L44.0 675.2L44.3 673.5L43.9 671.9L44.2 670.2L44.3 668.5L44.1 666.9L43.8 665.3L43.1 663.7L43.0 662.0L42.8 660.2L42.4 658.6L41.9 656.9L42.6 655.0L43.1 653.0L42.7 651.0L43.1 649.0L41.6 648.0L40.3 646.9L39.4 645.3L38.2 644.1L39.0 642.5L39.9 640.9L40.6 639.2L39.6 637.8L38.3 636.6L37.3 635.2L35.6 634.4L34.5 633.1L35.2 631.5L36.3 630.0L36.5 628.2L38.0 627.5L39.0 626.0L40.6 625.4L42.1 624.6L43.1 623.2L44.3 622.1L45.9 621.7L47.6 621.2L49.1 620.4L50.8 620.3L52.4 619.8L54.1 619.6L55.0 617.7L56.5 616.3L57.8 614.7L59.2 613.8L60.4 612.7L61.8 611.7L62.7 610.3L64.7 610.9L66.7 611.0L68.8 611.0L70.2 612.0L71.7 612.8L73.3 613.2L74.9 613.5L76.6 613.9L77.9 615.0L79.5 615.6L81.1 615.9L82.8 615.8L84.6 615.4L86.3 615.4L88.0 615.0L89.8 614.7L91.5 615.0L93.3 615.2L95.0 614.4L96.8 614.7L98.5 614.1L100.4 614.5L102.1 614.2L103.8 613.5L105.6 613.5L107.2 613.9L109.0 613.9L110.7 614.0L112.2 614.7L113.8 615.4L115.4 615.9L117.0 616.6L118.7 616.7L120.3 617.2L122.1 617.4L123.8 618.0L125.4 618.5L127.2 618.6L129.0 618.7L130.7 619.3L132.5 619.1L134.2 618.9L136.0 619.0L137.8 619.2L139.5 618.6L141.3 618.1L143.0 618.1L144.8 618.4L146.4 617.8L148.1 618.1L149.7 617.7L151.3 617.0L153.0 617.0L154.6 616.7L156.4 616.8L158.1 617.4L159.9 617.5L161.6 618.4L163.3 618.7L165.1 619.0L166.9 619.1L168.7 619.5L170.3 620.3L172.0 621.0L173.8 621.1L175.7 621.2L177.3 622.0L179.1 622.5L180.6 621.9L182.3 621.8L184.0 621.7L185.6 621.4L187.2 620.9L188.7 620.2L190.1 619.3L190.9 617.8L191.7 616.4L193.0 615.2L193.8 613.8L194.7 612.4L195.0 610.7L195.4 609.1L195.8 607.6L196.4 606.1L196.8 604.5L196.9 602.9L197.4 601.4L198.1 599.9L198.7 598.4L199.1 596.8L199.7 595.2L199.2 593.5L199.6 591.9L199.3 590.2L199.4 588.6L199.1 586.9L199.5 585.3L200.0 583.7L200.1 581.9L200.5 580.2L200.7 578.5L201.1 576.8L201.0 575.0L201.3 573.3L201.2 571.5L201.6 569.6L201.9 567.7L202.6 565.8L203.6 564.1L204.5 565.7L205.7 566.9L206.4 568.6L207.5 570.0L208.5 571.5L210.2 572.7L211.4 574.2L212.4 575.9L213.4 577.6L212.4 576.1L211.6 574.5L211.7 572.7L211.1 571.0L210.3 569.5L209.8 567.8L208.4 566.4L207.0 565.1L206.1 563.3L204.9 561.7L203.8 560.3L202.9 558.7L201.7 557.3L201.2 555.5L199.7 554.2L198.2 552.9L196.9 551.4L196.3 549.4L197.3 547.6L198.7 546.1L200.0 544.5L198.5 543.8L197.0 543.0L195.6 542.1L193.9 541.8L192.6 540.8L191.6 539.4L190.6 537.9L188.8 537.3L187.6 536.0L186.5 534.7L185.4 533.3L184.4 531.9L182.6 531.2L181.5 529.8L180.3 528.6L180.5 526.9L180.6 525.2L181.6 523.7L182.8 522.4L184.4 522.0L186.0 521.5L187.5 520.8L188.9 520.0L187.1 520.5L185.2 520.4L183.4 519.7L181.6 520.0L180.1 519.1L178.9 517.8L177.6 516.6L176.7 515.1L174.8 514.7L172.8 514.4L170.9 514.0L169.3 512.6L167.6 512.3L165.9 511.8L164.2 511.5L162.5 510.9L160.9 510.4L159.5 509.0L157.7 509.4L156.0 508.9L154.6 507.7L153.1 507.0L151.4 506.7L149.7 506.5L148.1 506.4L146.5 506.2L144.8 506.2L143.3 505.8L141.7 505.5L140.3 504.5L138.7 504.1L137.2 503.1L135.5 502.5L134.3 501.0L132.7 500.3L131.3 499.2L131.8 497.4L132.9 496.0L133.8 494.4L135.0 493.0L133.5 491.7L131.8 490.5L130.1 489.4L131.1 488.0L132.2 486.6L133.8 485.8L135.0 484.5L136.6 484.1L138.2 483.6L139.9 483.8L141.6 483.8L143.2 483.4L144.8 483.2L146.4 482.6L148.1 482.5L149.8 482.6L151.5 482.3L153.1 481.6L154.6 480.8L156.3 480.8L158.0 480.3L159.8 480.2L161.4 479.3L163.2 479.6L164.4 480.7L165.6 481.7L167.2 482.3L168.1 483.8L169.3 484.9L170.7 485.6L171.8 486.9L173.6 486.1L175.4 485.7L177.3 485.1L179.1 484.5L180.9 485.3L182.8 485.5L184.7 485.4L186.5 486.2L188.0 485.4L189.8 485.6L191.5 485.8L193.1 485.2L194.7 484.8L196.3 484.5L196.1 482.8L195.4 481.3L194.5 479.8L193.8 478.3L193.2 476.6L192.8 474.9L192.3 473.3L191.6 471.7L190.4 470.3L190.1 468.5L189.9 466.7L189.8 464.9L188.5 463.5L188.4 461.6L187.7 460.0L189.6 459.3L191.4 458.2L193.0 459.2L194.7 459.6L196.4 459.9L198.3 459.6L200.0 460.0L201.2 461.3L202.6 462.3L203.5 463.8L204.7 465.1L206.1 466.1L207.7 466.7L209.2 467.4L211.0 466.8L212.6 467.3L214.2 467.9L215.9 467.5L217.5 468.1L219.1 468.6L220.8 468.5L222.1 467.0L223.1 465.3L224.7 464.1L225.7 462.4L227.4 461.6L228.1 459.9L229.6 458.9L230.6 457.5L232.3 457.3L233.7 456.3L235.3 456.2L236.9 455.7L238.4 454.9L240.0 454.7L241.6 453.5L243.2 452.3L245.3 452.0L247.1 451.2L248.5 450.2L249.6 448.7L250.9 447.5L252.8 447.0L254.1 445.9L254.3 444.1L254.7 442.3L255.0 440.5L255.9 438.8L254.8 436.8L254.3 434.8L255.0 432.6L255.8 430.4L257.6 429.1L259.2 427.9L261.1 427.6L262.8 426.7L264.7 426.5L266.4 425.7L268.2 425.4L269.9 424.6L271.8 424.7L273.2 423.2L274.9 422.3L276.8 421.7L278.8 421.5L280.3 420.0L282.2 419.8L284.1 419.4L285.7 418.8L287.3 418.1L288.8 417.4L290.0 416.0L291.4 415.1L292.6 414.0L294.0 413.2L295.6 412.8L297.0 412.0L297.9 410.3L298.9 408.7L299.8 407.0L300.0 405.0L301.4 403.8L302.5 402.3L303.4 400.6L304.9 399.5L306.0 398.0L306.5 396.3L307.2 394.6L308.0 393.0L309.0 391.5L309.6 389.8L310.3 388.2L311.0 386.5L312.0 385.0L312.2 383.3L312.8 381.7L313.0 380.0L314.1 378.5L314.8 377.0L315.6 375.4L315.8 373.7L316.0 372.0L317.2 370.8L318.3 369.5L319.6 368.4L320.8 367.2L322.0 366.0L323.6 365.2L325.1 364.3L326.9 363.7L328.4 362.7L330.0 362.0L331.7 361.8L333.3 361.1L334.9 360.7L336.6 360.2L338.3 359.9L340.0 360.0L341.6 360.2L343.1 361.0L344.7 361.4L346.4 361.7L348.0 362.0L349.3 364.0L351.0 365.5L352.7 364.7L354.6 364.4L356.5 364.2L358.1 363.2L360.0 363.0L361.7 362.7L363.5 362.8L365.3 362.3L367.0 362.0L368.7 361.4L370.5 361.8L372.3 361.4L374.0 361.2L375.7 362.4L377.5 363.4L379.5 364.0L380.1 365.5L380.4 367.2L381.5 368.5L382.3 370.2L384.0 371.0L386.5 371.0L386.6 369.2L386.3 367.3L386.8 365.5L388.2 364.3L389.4 362.9L390.6 361.5L392.4 361.5L394.1 362.5L395.8 363.1L397.6 363.2L399.2 364.3L401.2 364.5L402.9 365.3L404.7 365.9L406.8 366.0L408.8 366.7L410.9 366.8L409.4 365.9L408.0 364.9L406.5 364.1L404.7 363.4L403.1 362.3L401.4 361.4L399.5 361.0L397.6 360.6L396.6 359.1L395.1 358.4L393.8 357.3L392.4 356.5L391.4 355.0L390.3 353.4L389.4 351.9L389.0 350.0L388.0 348.4L387.4 346.6L387.0 344.7L385.4 343.2L384.7 341.1L383.5 339.4L382.3 338.3L380.8 337.4L380.0 335.9Z"/>
<path d="M520.6 66.0L520.6 68.9L522.6 69.7L524.3 71.1L523.3 72.8L521.9 74.3L520.2 74.5L518.6 74.6L516.9 74.8L515.3 75.3L513.7 75.4L512.1 76.0L510.6 76.7L509.4 77.9L507.9 78.6L506.6 79.7L504.9 80.0L503.5 80.9L502.0 81.8L501.0 83.3L499.9 84.7L498.5 85.7L497.4 87.1L496.3 88.7L495.3 90.3L494.2 91.8L492.9 93.2L491.4 94.4L489.9 95.7L488.1 96.6L486.9 98.1L485.3 99.3L484.2 100.9L483.6 102.6L482.6 104.3L481.9 106.0L481.6 107.9L479.8 108.1L477.9 108.2L476.1 108.8L474.3 109.3L472.5 109.3L470.6 109.1L470.8 110.8L471.0 112.5L471.6 114.2L471.4 116.0L471.8 117.7L470.6 119.1L470.0 120.8L469.2 122.4L468.2 123.9L467.1 125.4L466.6 127.2L465.7 128.7L464.5 130.2L462.9 131.4L461.8 132.9L460.5 134.4L459.6 136.1L460.8 137.3L462.3 138.0L463.9 138.5L465.2 139.4L466.7 140.2L468.1 141.0L467.6 142.9L466.9 144.7L465.1 144.7L463.4 144.9L461.6 145.1L459.8 145.0L458.0 145.0L456.3 144.9L454.5 145.2L452.8 145.7L451.0 145.9L449.3 146.5L447.6 147.2L446.0 148.1L444.5 148.9L443.0 150.0L441.5 151.0L440.0 152.0L438.9 153.1L438.1 154.6L436.9 155.7L435.6 156.7L434.9 158.2L433.8 159.4L434.2 161.1L434.5 162.9L435.5 164.4L436.3 166.1L436.3 167.9L436.8 169.7L437.3 171.5L437.6 173.4L437.5 175.3L438.6 176.7L439.4 178.3L440.2 179.8L441.3 181.3L442.4 182.6L442.0 184.3L441.9 186.2L441.5 187.9L441.0 189.6L440.0 191.2L441.7 191.9L443.0 193.1L444.7 193.8L446.1 194.9L447.7 195.4L448.9 196.6L450.5 197.2L451.8 198.0L453.4 198.6L452.1 199.5L450.8 200.5L449.7 201.6L448.5 202.7L447.2 203.6L446.2 205.0L444.9 205.9L444.1 207.7L443.6 209.6L444.4 211.1L445.8 211.9L447.0 213.0L448.2 214.2L449.3 215.4L450.3 216.6L451.0 218.2L450.0 219.9L448.9 221.5L447.8 223.2L446.1 224.3L444.7 225.3L443.3 226.5L441.9 227.5L440.5 228.5L439.2 229.7L437.8 230.7L436.3 231.7L437.0 233.7L437.2 235.7L437.5 237.8L439.0 239.5L440.0 241.5L439.5 243.3L438.6 244.8L437.5 246.3L436.3 247.6L434.3 247.0L432.2 246.6L430.1 246.4L428.9 244.5L427.0 243.4L427.5 245.0L428.4 246.4L428.2 248.3L428.4 250.0L429.4 251.4L430.3 252.9L430.5 254.8L431.7 256.4L432.7 258.1L432.9 260.0L434.6 260.9L435.6 262.6L437.2 263.7L438.2 265.3L438.5 267.2L439.9 268.7L440.8 270.4L440.9 272.4L442.5 273.3L442.8 275.1L443.8 276.5L444.6 277.9L445.3 279.4L446.5 280.6L447.1 282.2L448.1 283.6L449.2 284.8L449.7 286.5L451.1 287.6L452.3 288.8L453.6 290.0L454.1 291.8L455.4 292.9L456.6 294.2L457.8 295.4L459.4 296.2L460.3 298.2L462.1 299.3L463.8 300.6L462.7 302.4L461.6 304.2L460.3 305.9L461.1 307.6L461.4 309.5L462.1 311.2L463.7 312.1L464.6 313.6L465.5 315.1L466.5 316.5L467.4 318.2L468.4 319.8L468.2 321.8L468.0 323.6L467.4 325.3L469.5 324.8L471.5 325.6L473.5 326.2L475.2 325.3L476.9 324.7L478.7 324.5L480.6 325.3L482.1 323.7L483.8 323.3L485.8 323.6L487.6 323.5L489.2 322.4L490.5 321.1L492.1 320.0L491.6 318.2L490.9 316.5L490.3 314.7L491.2 313.2L492.5 312.0L492.9 310.3L494.7 309.7L496.6 309.5L498.4 308.8L500.0 307.6L501.8 308.1L503.5 307.1L505.3 306.6L507.1 307.3L509.0 306.1L511.0 306.2L513.0 307.1L515.0 306.8L516.9 306.8L518.6 306.4L520.0 305.0L521.4 303.7L523.2 302.7L524.8 301.6L526.0 300.0L526.8 298.4L527.1 296.7L526.4 295.0L526.2 293.3L527.0 291.7L527.0 290.0L527.5 288.4L528.1 286.7L527.9 285.0L528.4 283.4L527.7 281.7L528.0 280.0L528.7 278.3L529.4 276.5L529.0 274.6L528.5 272.7L529.1 271.0L529.5 269.2L529.1 267.9L529.0 266.0L529.9 264.4L529.9 262.5L530.9 260.9L529.4 259.4L528.1 257.8L526.5 256.5L524.9 255.9L523.5 255.0L521.9 254.3L520.3 253.8L522.4 253.2L524.4 253.5L526.5 253.8L528.3 253.4L530.0 253.0L531.9 253.1L533.5 252.1L535.5 252.4L537.2 251.6L539.0 251.0L540.4 250.0L541.6 248.9L543.5 249.0L545.1 248.6L546.4 247.6L548.0 247.2L549.4 246.2L550.8 245.4L552.1 244.3L553.7 243.9L555.3 242.9L556.7 241.7L558.5 241.3L560.3 240.7L562.0 240.1L563.5 239.0L564.1 237.4L564.3 235.7L565.1 234.3L566.4 233.1L567.2 231.7L565.9 230.1L565.0 228.2L563.5 226.8L562.1 225.7L560.5 224.9L559.5 223.4L557.6 223.0L556.2 221.9L554.4 221.4L553.1 220.1L551.8 218.9L550.3 218.0L548.8 217.0L547.2 216.1L545.5 215.4L544.0 214.3L542.6 213.1L541.0 212.2L539.0 212.1L537.4 210.8L535.5 210.5L533.8 209.4L531.7 209.6L531.8 207.8L531.6 206.1L531.7 204.3L531.4 202.6L530.4 201.0L529.9 199.2L529.4 197.4L528.7 195.7L528.3 193.9L526.8 192.5L528.3 191.3L529.0 189.6L530.4 188.4L530.4 186.3L532.1 185.1L533.0 183.4L534.7 182.2L535.3 180.2L537.0 179.2L536.9 177.3L537.0 175.5L538.5 174.4L539.0 172.8L541.0 172.2L542.2 170.5L543.4 168.9L545.1 167.9L546.7 166.8L548.7 166.1L549.7 164.2L551.3 163.0L552.7 162.2L554.3 161.7L555.5 160.5L557.0 159.9L558.6 159.4L560.2 158.1L562.2 157.7L563.9 156.9L566.0 156.9L567.5 155.3L569.4 155.0L571.2 154.2L573.3 154.5L574.2 152.8L575.6 151.8L577.2 151.4L578.7 150.6L580.5 150.4L581.9 149.6L583.0 147.9L584.0 146.0L585.6 144.7L586.6 142.9L588.0 141.6L590.0 141.0L591.1 139.4L592.9 138.5L591.2 137.9L590.0 136.4L588.7 135.2L586.8 134.9L588.3 133.4L589.9 132.0L590.5 129.9L590.5 128.1L589.2 126.9L588.0 125.6L588.0 123.8L588.7 122.0L590.4 121.3L591.6 120.0L593.2 119.2L594.8 118.3L595.4 116.5L597.0 118.0L598.9 117.7L600.9 117.0L602.7 117.7L603.9 116.5L605.3 115.5L607.1 115.3L608.7 114.9L610.1 114.0L611.9 114.5L613.7 114.4L615.5 114.6L617.2 114.2L618.9 113.6L620.7 113.6L622.4 112.8L624.1 112.9L625.9 113.4L627.6 113.6L629.3 114.0L631.1 113.0L632.9 112.8L634.6 113.3L636.3 114.2L638.1 114.2L639.8 114.7L641.5 115.1L643.4 114.6L645.2 114.3L646.9 115.2L648.4 116.1L650.2 116.6L651.5 117.8L652.4 119.6L653.6 121.0L655.4 121.4L656.5 122.8L658.0 124.0L659.0 125.5L659.1 127.5L657.5 128.1L656.1 129.5L654.5 130.2L653.0 131.1L651.3 131.7L649.3 131.2L648.3 132.9L647.0 134.4L645.4 135.4L643.4 136.1L642.0 137.3L640.3 138.2L639.0 139.7L637.2 140.5L635.8 141.9L634.6 143.4L632.8 143.6L631.7 145.0L630.4 146.1L628.9 146.7L627.1 146.9L626.0 148.3L624.3 148.6L623.0 149.7L621.9 151.0L620.6 152.0L619.3 153.0L617.5 153.2L616.0 154.0L614.4 154.6L613.0 155.4L612.1 156.8L610.9 157.9L610.1 159.4L608.5 159.8L606.8 160.2L605.4 161.2L603.7 161.5L602.1 162.0L600.3 161.8L599.8 163.8L597.8 164.1L597.1 165.9L595.3 166.5L594.2 167.9L594.0 169.8L595.3 171.5L595.4 173.4L595.4 175.3L595.8 177.1L596.3 178.9L597.7 180.1L598.6 181.6L600.3 182.6L600.3 184.5L601.7 185.6L602.4 187.1L603.0 188.6L604.0 190.0L604.5 191.7L604.4 193.6L605.2 195.2L605.4 197.0L606.4 198.6L606.4 200.4L605.8 202.1L605.9 204.0L604.7 205.6L604.0 207.2L604.3 208.9L605.1 210.3L605.9 211.7L606.5 213.2L607.6 214.5L609.3 214.9L611.0 215.4L612.6 216.3L614.1 217.2L615.9 217.5L617.5 218.2L619.2 218.7L620.9 219.1L622.4 220.0L623.9 220.9L625.7 221.2L627.3 221.9L628.9 222.3L630.5 223.1L632.1 223.0L633.7 223.8L635.4 223.1L637.1 223.1L638.2 224.8L640.2 224.9L641.8 225.6L643.2 226.8L645.0 226.9L646.5 225.7L648.3 225.9L650.2 226.3L651.8 225.5L653.6 226.3L655.2 226.0L656.7 225.1L658.3 224.5L660.0 224.6L661.6 224.3L663.2 223.5L664.7 222.7L666.5 223.7L668.2 223.7L669.7 222.9L671.4 223.1L673.0 222.4L674.5 221.7L676.4 222.2L677.9 221.2L679.6 221.3L681.2 220.6L683.0 220.7L684.5 219.8L686.0 219.0L687.7 218.8L689.3 218.4L691.0 218.2L692.6 217.6L694.2 216.7L696.0 216.7L697.6 215.8L699.0 214.6L700.8 214.5L702.4 214.4L704.2 214.9L705.8 214.7L707.4 214.2L709.1 214.3L710.6 213.3L712.4 214.2L713.8 212.7L715.5 212.6L717.0 211.6L718.7 211.6L720.4 212.1L721.8 210.9L723.5 210.7L725.3 210.9L727.1 211.1L728.6 210.0L730.2 209.6L731.0 208.0L733.0 208.1L734.5 207.4L735.7 206.3L736.5 204.6L738.0 204.0L739.5 203.3L741.0 202.6L742.3 201.6L743.3 200.3L744.6 199.2L746.0 198.4L747.3 197.4L748.8 196.5L749.9 195.0L751.1 193.8L752.8 193.1L753.9 191.7L755.4 190.8L756.7 189.6L758.2 188.6L759.5 187.5L760.9 186.4L762.1 185.2L763.2 183.9L764.3 182.5L765.7 181.4L767.0 180.3L768.1 179.0L769.3 177.7L770.6 176.5L771.8 175.3L772.3 173.5L772.9 171.7L773.8 170.1L774.3 168.3L775.4 166.7L773.8 166.1L772.3 165.1L770.8 164.1L769.0 163.8L767.4 163.1L766.0 162.0L764.3 161.5L762.9 160.5L761.1 160.1L759.5 159.4L758.0 158.5L756.2 158.1L754.7 157.2L753.3 156.2L751.6 155.5L750.1 154.8L748.6 153.8L747.1 152.9L745.2 152.7L743.6 152.0L744.9 151.0L745.8 149.6L747.1 148.6L748.2 147.5L749.4 146.3L750.9 145.6L752.2 144.7L750.6 144.1L749.1 143.4L747.6 142.7L746.5 141.3L745.0 140.5L743.6 139.8L742.4 138.5L741.8 136.9L741.6 135.2L741.1 133.6L739.6 132.8L738.1 132.3L736.6 131.7L735.0 131.2L733.3 130.4L731.4 130.0L730.8 128.2L730.5 126.2L729.9 124.3L729.0 122.6L730.8 121.8L732.4 120.6L734.0 119.4L735.1 117.7L734.1 116.2L732.8 115.1L731.7 113.8L730.4 112.7L729.0 111.6L727.6 110.5L726.7 109.0L725.2 108.0L724.0 106.8L722.8 105.5L721.4 104.5L720.3 103.1L719.2 101.8L718.0 100.6L716.9 99.1L715.7 97.9L714.3 96.9L713.1 95.6L712.1 94.2L710.6 93.2L711.9 92.0L713.2 90.8L713.7 89.0L715.0 87.8L715.9 86.2L716.8 84.7L717.9 83.4L719.0 82.0L720.4 80.9L718.7 80.7L717.1 80.3L715.5 79.8L714.0 79.2L712.6 78.2L710.9 77.9L709.3 77.5L707.7 77.1L706.2 76.2L704.7 75.6L703.2 74.8L701.5 74.1L699.8 73.5L698.1 72.8L696.5 71.8L694.8 71.1L693.4 69.9L692.7 67.9L692.0 66.0Z"/>
<path d="M416.8 629.4L417.0 631.3L417.5 633.1L418.1 634.9L418.0 636.8L418.8 638.4L418.9 640.2L419.5 641.9L419.9 643.6L420.4 645.3L420.4 647.2L420.2 649.0L420.0 650.9L420.0 652.7L419.7 654.6L419.2 656.4L419.2 658.1L418.4 659.7L418.0 661.3L417.6 662.9L417.0 664.5L416.8 666.2L415.9 667.9L415.6 669.9L414.7 671.6L414.3 673.5L412.9 672.4L411.5 671.3L409.8 670.7L408.2 669.9L407.4 668.4L406.4 667.1L406.0 665.4L405.3 663.9L404.5 662.5L404.2 660.6L403.4 658.8L403.0 656.8L402.1 655.1L402.1 653.2L401.9 651.4L401.0 649.6L400.8 647.8L401.6 646.3L402.4 644.9L403.0 643.4L403.3 641.7L404.9 640.9L406.4 640.0L407.8 638.9L409.4 638.0L410.9 636.6L412.8 635.6L414.3 634.3L415.1 632.5L415.5 630.6Z"/>
<path d="M415.5 677.2L417.1 677.8L418.5 678.6L420.1 679.2L421.7 679.7L422.5 681.1L423.5 682.4L424.1 684.0L425.1 685.3L425.6 686.9L426.6 688.2L426.8 689.8L426.7 691.5L427.3 693.1L427.5 694.7L427.6 696.4L427.8 698.0L427.1 699.6L426.6 701.2L426.5 702.9L426.0 704.5L425.4 706.1L425.3 707.8L425.3 709.4L425.1 711.1L425.0 712.7L424.8 714.3L425.2 716.0L425.1 717.6L425.2 719.2L425.0 720.9L425.3 722.5L424.8 724.3L425.0 726.2L424.5 728.0L424.1 729.9L424.3 731.7L424.1 733.6L422.2 733.9L420.5 734.8L418.5 735.1L416.8 736.0L415.4 736.9L414.5 738.2L413.0 739.0L411.9 740.2L410.8 741.4L409.4 742.2L407.6 741.7L405.9 741.0L404.5 739.7L403.3 738.3L402.4 736.8L401.8 735.1L400.8 733.6L400.6 731.8L400.1 729.9L399.7 728.1L399.9 726.2L399.5 724.4L399.6 722.5L399.9 720.7L400.2 718.9L400.4 717.0L400.6 715.2L400.5 713.3L400.8 711.5L400.3 709.7L399.4 708.1L398.4 706.4L397.8 704.6L397.2 702.9L396.6 701.1L396.1 699.3L395.1 697.7L394.2 696.1L393.5 694.4L393.6 692.8L393.6 691.1L394.0 689.5L394.0 687.8L394.3 686.2L394.7 684.6L396.0 682.8L397.2 680.9L397.3 683.0L397.7 685.0L398.4 687.0L400.2 687.0L402.1 687.0L403.7 686.3L405.2 685.2L406.6 684.2L408.0 683.1L409.4 682.1L411.1 681.1L412.5 679.7L413.8 678.2Z"/>
<path d="M273.4 722.5L275.1 721.5L276.6 720.2L278.1 718.9L279.5 717.6L281.0 716.9L282.3 716.0L283.6 715.0L285.1 714.4L286.6 713.8L288.1 713.2L289.9 714.1L291.8 714.7L293.5 715.9L295.4 716.4L295.9 718.0L296.2 719.7L296.7 721.3L295.7 723.0L294.5 724.6L293.4 726.2L291.8 727.5L290.5 728.6L289.2 729.8L288.1 731.1L286.6 730.4L285.2 729.6L283.7 728.8L282.0 728.7L280.9 727.3L279.8 726.0L278.3 725.0L276.7 724.1L275.1 723.2Z"/>
<path d="M304.0 711.5L306.0 710.8L308.1 710.8L310.1 710.3L311.7 711.7L312.9 713.4L314.6 714.7L312.2 714.7L310.1 715.7L308.5 714.8L306.9 714.0L305.2 713.2Z"/>
<path d="M251.4 736.0L253.1 734.9L255.1 734.3L256.7 735.7L258.0 737.3L257.3 738.9L256.8 740.6L256.3 742.2L254.4 741.7L252.6 740.9L252.2 739.3L251.7 737.7Z"/>
<path d="M486.3 767.3L487.6 765.7L489.1 764.4L490.6 763.0L492.5 762.8L494.3 762.3L496.2 761.9L498.1 761.9L499.8 762.4L501.5 762.9L503.3 763.1L505.0 763.6L506.7 764.1L508.4 764.4L510.2 764.7L511.9 765.0L513.6 765.4L515.4 765.1L517.2 765.1L519.1 764.9L520.8 764.3L522.5 763.7L524.4 763.6L526.1 763.0L527.8 762.8L529.5 762.3L531.2 761.9L533.0 761.9L534.7 761.9L536.3 762.4L538.0 762.4L539.5 763.0L541.2 763.0L543.0 763.2L544.6 762.6L546.4 762.4L548.1 762.2L549.8 761.9L552.0 761.5L554.1 760.8L553.4 762.4L553.2 764.1L552.5 765.7L552.0 767.3L551.1 769.0L550.0 770.6L548.8 772.2L547.7 773.8L546.9 775.3L545.6 776.4L544.5 777.7L543.4 779.0L543.5 780.8L543.2 782.6L543.2 784.4L544.1 785.8L544.5 787.4L545.6 788.7L546.0 790.3L546.8 791.8L547.6 793.2L547.1 794.7L546.6 796.2L545.5 797.5L544.9 799.0L544.3 800.5L543.6 802.0L543.2 803.5L541.5 803.1L539.8 802.6L538.1 801.8L536.3 801.6L534.6 801.1L532.9 800.6L531.7 799.4L530.6 798.3L529.1 797.6L527.9 796.4L526.3 795.8L525.1 794.8L523.9 793.6L522.6 792.6L521.2 791.8L519.8 790.9L518.2 790.4L516.9 789.3L515.4 788.7L514.0 787.8L512.6 786.9L511.0 786.4L509.4 785.9L507.9 784.9L506.4 784.1L504.7 783.5L503.1 782.8L501.7 781.6L500.0 781.0L498.3 780.3L496.5 779.7L495.0 778.5L493.4 777.8L491.7 777.0L490.3 776.0L489.1 774.7L487.8 773.5L486.3 772.7L486.4 770.9L486.4 769.1Z"/>
<path d="M725.4 834.8L727.2 833.5L729.1 832.3L730.4 834.1L731.6 836.0L733.2 835.4L734.9 835.3L736.5 834.8L737.8 835.9L738.9 837.2L740.1 838.4L741.8 838.6L743.5 839.0L745.2 839.4L747.0 839.3L748.7 839.7L750.3 839.9L752.0 839.5L753.6 839.9L755.2 839.5L756.9 839.8L758.5 839.7L760.1 840.2L761.7 840.6L763.4 841.1L764.9 841.7L766.6 841.8L768.3 842.1L770.0 842.6L771.8 842.4L773.6 842.4L775.3 842.7L777.1 843.0L778.8 843.3L780.6 843.3L782.2 843.7L783.9 843.6L785.5 843.6L787.1 843.8L788.8 843.8L790.4 844.3L792.0 844.6L793.7 844.6L795.3 844.6L796.9 844.5L798.5 843.9L800.2 844.0L801.8 843.8L803.4 843.4L805.1 843.3L806.2 845.2L807.5 847.0L805.7 847.2L804.0 847.7L802.3 847.9L800.6 848.3L798.9 848.7L797.1 848.8L795.3 848.7L793.7 849.2L792.0 849.3L790.4 849.9L788.8 850.3L787.1 850.4L785.5 851.0L783.8 851.0L782.2 851.5L780.6 851.9L778.7 851.4L776.6 851.5L774.7 851.1L772.7 850.7L770.9 851.0L769.0 851.3L767.1 851.2L765.3 851.0L763.4 851.2L761.8 851.6L760.1 851.7L758.5 851.9L756.9 852.1L755.3 852.5L753.6 852.6L752.8 851.1L751.7 849.8L751.2 848.2L749.5 848.1L747.8 847.8L746.3 847.1L744.7 846.6L743.1 846.0L741.4 845.8L739.8 845.6L738.2 845.1L736.5 845.2L734.9 845.1L733.3 844.6L731.6 844.6L729.9 844.3L728.2 843.8L726.4 843.7L724.7 843.3L724.2 841.7L724.2 840.0L724.2 838.4L725.0 836.7Z"/>
<path d="M432.9 312.9L434.7 312.7L436.4 312.3L438.2 312.1L439.9 313.5L441.8 314.7L443.1 313.0L444.4 311.2L446.1 310.3L447.9 309.4L450.0 308.6L452.3 308.5L453.9 308.9L455.3 309.6L456.8 310.3L457.9 311.6L458.7 313.1L459.4 314.7L460.3 316.4L460.6 318.2L461.2 320.0L459.9 321.0L458.6 322.1L457.6 323.5L456.3 325.5L455.9 327.9L453.9 328.9L452.3 330.6L450.4 330.7L448.9 331.8L447.1 332.3L445.3 331.9L443.5 331.4L441.8 330.6L439.9 330.0L438.2 329.0L436.5 327.9L435.2 326.5L434.2 324.9L432.9 323.5L432.3 321.7L431.7 320.0L431.2 318.2L432.0 316.5L432.1 314.6Z"/>
<path d="M417.9 326.2L419.6 325.4L421.5 325.2L423.2 324.4L424.7 325.3L426.0 326.4L427.6 327.1L428.5 328.8L429.5 330.5L430.3 332.3L429.5 334.0L428.7 335.7L428.5 337.6L426.1 338.0L424.1 339.4L422.7 338.3L421.1 337.8L419.7 336.8L418.9 335.0L417.9 333.4L417.4 331.5L417.1 329.7L417.3 327.9Z"/>
<path d="M432.1 335.9L434.1 335.3L436.1 334.8L438.2 335.0L439.9 335.0L441.3 335.9L442.9 336.2L444.4 336.8L446.1 337.7L447.8 338.7L449.7 339.4L448.3 341.1L447.1 342.9L445.3 342.9L443.6 342.4L441.8 341.9L440.0 342.1L438.3 341.3L436.5 340.6L434.6 340.3L432.9 339.4L432.5 337.6Z"/>
<path d="M500.5 327.9L502.1 328.5L503.8 328.8L505.4 329.3L507.0 329.8L508.5 330.6L508.3 332.4L507.9 334.1L505.9 333.3L503.9 332.8L501.8 332.3L501.4 330.0Z"/>
<path d="M425.0 282.9L426.8 282.5L428.5 281.7L430.8 282.6L429.2 283.5L427.6 284.3Z"/>
<path d="M624.1 259.0L625.9 258.4L627.6 257.7L629.2 256.6L631.0 256.1L632.5 255.4L634.2 255.4L635.6 254.8L637.3 254.5L638.8 254.1L640.8 254.1L642.8 254.4L644.7 254.4L646.7 254.1L648.1 255.6L649.6 257.1L648.1 258.3L646.5 259.2L644.7 260.0L642.7 260.6L640.6 260.9L638.8 262.0L637.1 262.4L635.9 263.5L634.3 264.0L632.9 264.9L631.3 265.7L629.6 266.1L628.0 266.9L626.5 265.4L625.1 263.9L624.5 262.3L624.1 260.7Z"/>
<path d="M625.1 248.2L626.6 247.5L628.2 247.1L629.6 246.2L631.0 245.3L632.7 245.3L634.3 244.6L635.9 244.3L637.7 245.1L639.3 246.1L640.8 247.3L640.2 248.9L639.0 250.1L637.8 251.2L635.9 251.8L633.9 251.9L632.0 252.2L630.4 251.0L628.5 250.3L626.7 249.4Z"/>
<path d="M563.0 283.0L563.8 281.5L564.7 280.0L565.5 278.5L566.8 277.3L568.0 276.0L569.0 274.6L570.1 273.3L571.5 272.3L572.7 271.1L574.0 270.0L576.0 271.0L578.0 272.0L577.7 273.7L577.4 275.4L576.9 277.1L576.5 278.8L575.9 280.5L575.0 282.0L574.5 283.8L573.7 285.5L572.8 287.2L571.6 288.7L570.8 290.3L570.0 292.0L568.7 293.0L567.6 294.1L566.4 295.2L565.0 296.0L564.6 294.4L564.7 292.7L564.5 291.1L563.9 289.5L563.4 287.9L563.2 286.3L563.2 284.6Z"/>
<path d="M538.0 278.0L539.5 276.9L541.0 276.0L541.4 277.7L542.0 279.4L542.0 281.1L542.5 282.8L542.9 284.5L543.0 286.2L543.0 288.0L542.8 289.7L542.8 291.5L542.7 293.2L542.4 295.0L542.1 296.7L541.5 298.3L541.0 300.0L540.1 298.6L538.8 297.5L538.0 296.0L538.0 294.4L538.2 292.7L538.0 291.1L538.0 289.5L537.7 287.8L537.8 286.2L538.0 284.5L538.2 282.9L537.8 281.3L538.1 279.6Z"/>
<path d="M714.7 738.8L716.6 739.4L718.2 740.7L720.1 741.2L721.8 742.3L723.4 743.2L724.6 744.5L725.8 745.7L727.4 746.5L728.8 747.6L730.0 748.8L731.4 749.7L732.5 751.0L733.6 752.3L734.6 753.7L735.9 754.7L736.9 756.0L738.3 757.0L739.2 758.4L740.7 759.3L741.9 760.5L742.9 761.8L744.7 764.4L743.0 763.9L741.2 763.7L739.4 763.5L738.3 762.3L737.1 761.2L735.7 760.2L734.4 759.3L733.2 758.2L731.9 757.1L730.2 756.3L728.8 755.3L727.5 754.1L726.2 752.9L724.7 752.0L723.2 750.9L721.9 749.8L720.7 748.5L719.1 747.6L717.8 746.2L716.5 744.9L715.3 743.5L713.8 742.3L714.6 740.6Z"/>
<path d="M763.2 731.8L764.7 731.1L766.4 730.6L767.8 729.8L769.4 729.1L771.2 729.1L773.0 729.5L774.7 729.9L776.5 730.0L777.7 731.5L778.9 732.8L780.0 734.4L779.3 736.0L778.4 737.5L777.3 738.8L775.2 738.7L773.3 738.0L771.2 737.9L769.5 737.0L767.8 736.3L765.9 736.2L765.0 734.7L764.1 733.3Z"/>
<path d="M766.5 749.0L768.5 748.9L770.5 748.5L771.5 750.7L772.0 753.0L771.9 755.0L771.5 757.0L771.0 759.0L768.0 758.5L767.2 756.3L766.5 754.0L766.6 752.3L766.5 750.7Z"/>
<path d="M744.7 712.7L746.8 711.9L749.1 711.5L750.8 712.5L752.6 713.2L751.8 716.2L749.5 716.2L747.3 716.8L746.6 715.3L745.7 714.0Z"/>
<path d="M732.0 691.2L733.9 690.5L735.9 689.8L736.9 691.4L738.0 692.9L736.8 694.4L735.5 695.8L733.9 695.4L732.3 694.7L732.0 693.0Z"/>
<path d="M783.5 773.0L785.7 772.1L788.0 771.5L789.9 771.5L791.7 772.0L793.5 772.5L792.9 774.1L792.0 775.5L790.0 775.4L788.0 775.4L786.0 776.0L785.2 774.1Z"/>
<path d="M658.2 747.6L660.5 747.0L662.6 745.9L663.2 747.6L664.3 748.9L665.3 750.3L665.2 752.4L665.0 754.5L664.4 756.5L662.2 755.9L660.0 755.6L659.5 754.0L659.0 752.5L658.8 750.8L658.7 749.2Z"/>
<path d="M659.1 770.6L660.8 771.2L662.6 771.5L663.3 773.8L664.4 775.9L662.6 775.6L660.9 775.0L659.8 772.9Z"/>
<path d="M640.0 716.0L641.7 715.4L643.4 714.8L645.0 714.0L645.7 715.8L646.8 717.3L647.9 718.9L648.8 720.6L650.0 722.0L651.1 723.5L652.2 725.1L653.3 726.6L654.2 728.3L655.0 730.0L653.4 730.6L651.7 730.7L650.0 731.0L648.7 729.7L647.7 728.1L646.5 726.7L645.4 725.2L644.0 724.0L643.5 722.2L642.6 720.7L641.5 719.3L640.6 717.7Z"/>
<path d="M709.5 812.7L712.5 813.4L712.7 815.2L713.2 817.0L713.2 818.8L711.5 818.6L710.0 817.6L709.9 816.0L709.8 814.3Z"/>
<path d="M905.0 852.0L906.2 850.6L907.6 849.4L909.2 848.4L910.6 847.2L912.0 846.0L913.8 845.6L915.3 844.6L916.9 843.8L918.6 843.2L920.2 842.4L922.0 842.0L923.6 841.6L925.2 841.3L926.9 841.3L928.5 841.3L930.2 841.1L931.8 840.6L933.4 840.2L935.0 840.0L936.5 839.0L938.2 838.3L939.8 837.6L941.6 837.1L943.3 836.6L944.8 835.7L946.3 834.6L948.0 834.0L949.3 833.1L950.9 832.6L952.2 831.5L953.6 830.8L955.0 830.0L956.3 829.0L957.7 828.3L959.2 827.6L960.5 826.7L962.0 826.0L961.4 827.5L960.6 828.9L959.5 830.1L958.8 831.6L958.0 833.0L956.7 834.2L955.4 835.4L953.9 836.4L952.6 837.6L951.2 838.7L950.0 840.0L949.4 841.5L949.0 843.1L948.7 844.8L948.6 846.5L948.0 848.0L947.0 849.3L945.9 850.5L944.5 851.4L943.3 852.5L942.2 853.6L941.2 854.9L940.0 856.0L938.4 856.8L936.7 857.5L934.9 857.9L933.4 858.8L931.7 859.4L930.0 860.0L928.3 860.0L926.7 859.3L925.0 858.9L923.3 858.9L921.7 858.4L920.0 858.0L918.4 858.5L916.7 858.9L915.0 859.0L913.4 859.7L911.7 860.0L910.0 860.0L909.1 858.3L908.3 856.6L906.9 855.2L905.7 853.8Z"/>
<path d="M529.5 823.0L532.5 823.5L533.3 825.1L534.5 826.5L532.0 828.0L531.0 826.5L529.5 825.5Z"/>
<path d="M525.5 820.5L528.0 820.3L528.5 822.3L526.0 822.5Z"/>
<ellipse cx="749" cy="773" rx="8" ry="1.6" transform="rotate(43 749 773)"/>
<ellipse cx="736.1" cy="776.9" rx="1.3" ry="2" transform="rotate(0 736.1 776.9)"/>
<ellipse cx="738.4" cy="783.1" rx="1.2" ry="2.2" transform="rotate(10 738.4 783.1)"/>
<ellipse cx="740.5" cy="789.9" rx="1.6" ry="1.6" transform="rotate(0 740.5 789.9)"/>
<ellipse cx="745.5" cy="794.9" rx="1.3" ry="2" transform="rotate(20 745.5 794.9)"/>
<ellipse cx="741.6" cy="802" rx="2.4" ry="1.5" transform="rotate(-20 741.6 802)"/>
<ellipse cx="748.6" cy="781.6" rx="1.3" ry="2" transform="rotate(0 748.6 781.6)"/>
<ellipse cx="758.4" cy="781.6" rx="1.8" ry="1.3" transform="rotate(0 758.4 781.6)"/>
<ellipse cx="755.2" cy="792.5" rx="2.3" ry="2.6" transform="rotate(0 755.2 792.5)"/>
<ellipse cx="762" cy="792.5" rx="2.5" ry="3.6" transform="rotate(15 762 792.5)"/>
<ellipse cx="759.3" cy="802" rx="1.3" ry="2" transform="rotate(20 759.3 802)"/>
<ellipse cx="762" cy="811.4" rx="1.7" ry="1.4" transform="rotate(0 762 811.4)"/>
<ellipse cx="771.4" cy="798.8" rx="3.5" ry="1" transform="rotate(35 771.4 798.8)"/>
<ellipse cx="774.5" cy="777.6" rx="4.2" ry="1.2" transform="rotate(-15 774.5 777.6)"/>
<ellipse cx="797.3" cy="799.6" rx="4.5" ry="1.2" transform="rotate(-25 797.3 799.6)"/>
<ellipse cx="792.5" cy="793.3" rx="1.5" ry="2.2" transform="rotate(0 792.5 793.3)"/>
<ellipse cx="817.6" cy="810.6" rx="2" ry="5" transform="rotate(-30 817.6 810.6)"/>
<ellipse cx="753" cy="799" rx="1.2" ry="1.2" transform="rotate(0 753 799)"/>
<ellipse cx="767" cy="803" rx="1.5" ry="1" transform="rotate(0 767 803)"/>
<ellipse cx="783" cy="786" rx="1.2" ry="2" transform="rotate(30 783 786)"/>
<ellipse cx="745" cy="811" rx="1" ry="1.4" transform="rotate(0 745 811)"/>
<ellipse cx="776" cy="806" rx="1.2" ry="1" transform="rotate(0 776 806)"/>
<ellipse cx="730" cy="771" rx="1" ry="1.6" transform="rotate(0 730 771)"/>
<ellipse cx="785" cy="800" rx="1.5" ry="1" transform="rotate(0 785 800)"/>
<ellipse cx="803" cy="806" rx="1.5" ry="1" transform="rotate(0 803 806)"/>
<ellipse cx="516" cy="577" rx="2" ry="6" transform="rotate(-25 516 577)"/>
<ellipse cx="520.5" cy="574.5" rx="2.2" ry="3.5" transform="rotate(20 520.5 574.5)"/>
<ellipse cx="528.5" cy="592" rx="1.3" ry="6" transform="rotate(-38 528.5 592)"/>
<ellipse cx="532.5" cy="603" rx="1" ry="7" transform="rotate(-40 532.5 603)"/>
<ellipse cx="540" cy="611" rx="1" ry="5" transform="rotate(-42 540 611)"/>
<ellipse cx="566" cy="623.5" rx="6" ry="1.3" transform="rotate(5 566 623.5)"/>
<ellipse cx="571" cy="628.5" rx="10" ry="1" transform="rotate(3 571 628.5)"/>
<ellipse cx="580" cy="633.5" rx="8" ry="1.1" transform="rotate(8 580 633.5)"/>
<ellipse cx="595" cy="639.5" rx="5.5" ry="0.9" transform="rotate(15 595 639.5)"/>
<ellipse cx="553" cy="618.5" rx="3" ry="1" transform="rotate(10 553 618.5)"/>
<ellipse cx="548" cy="624" rx="2" ry="1.2" transform="rotate(0 548 624)"/>
<ellipse cx="601.9" cy="212.0" rx="1.1" ry="0.8" transform="rotate(24 601.9 212.0)"/>
<ellipse cx="601.7" cy="220.9" rx="0.9" ry="0.7" transform="rotate(0 601.7 220.9)"/>
<ellipse cx="590.9" cy="209.3" rx="0.5" ry="0.8" transform="rotate(2 590.9 209.3)"/>
<ellipse cx="594.1" cy="211.4" rx="0.5" ry="0.5" transform="rotate(112 594.1 211.4)"/>
<ellipse cx="597.7" cy="216.5" rx="1.2" ry="0.9" transform="rotate(5 597.7 216.5)"/>
<ellipse cx="599.7" cy="221.3" rx="1.3" ry="0.4" transform="rotate(161 599.7 221.3)"/>
<ellipse cx="591.4" cy="209.7" rx="1.1" ry="0.8" transform="rotate(108 591.4 209.7)"/>
<ellipse cx="602.2" cy="221.2" rx="0.7" ry="0.5" transform="rotate(127 602.2 221.2)"/>
<ellipse cx="594.8" cy="218.9" rx="0.9" ry="0.5" transform="rotate(140 594.8 218.9)"/>
<ellipse cx="612.7" cy="218.5" rx="1.2" ry="0.4" transform="rotate(169 612.7 218.5)"/>
<ellipse cx="602.2" cy="218.6" rx="1.0" ry="0.6" transform="rotate(125 602.2 218.6)"/>
<ellipse cx="596.6" cy="220.0" rx="1.1" ry="0.7" transform="rotate(165 596.6 220.0)"/>
<ellipse cx="592.8" cy="213.0" rx="1.4" ry="0.8" transform="rotate(138 592.8 213.0)"/>
<ellipse cx="599.3" cy="209.9" rx="1.3" ry="0.6" transform="rotate(68 599.3 209.9)"/>
<ellipse cx="606.5" cy="215.2" rx="1.2" ry="0.6" transform="rotate(131 606.5 215.2)"/>
<ellipse cx="603.7" cy="211.5" rx="0.6" ry="0.9" transform="rotate(145 603.7 211.5)"/>
<ellipse cx="603.5" cy="221.8" rx="0.9" ry="0.9" transform="rotate(106 603.5 221.8)"/>
<ellipse cx="597.7" cy="213.8" rx="1.1" ry="0.7" transform="rotate(117 597.7 213.8)"/>
<ellipse cx="604.8" cy="219.1" rx="1.1" ry="0.7" transform="rotate(46 604.8 219.1)"/>
<ellipse cx="612.1" cy="219.0" rx="1.2" ry="0.9" transform="rotate(65 612.1 219.0)"/>
<ellipse cx="600.7" cy="218.1" rx="0.8" ry="0.5" transform="rotate(159 600.7 218.1)"/>
<ellipse cx="593.2" cy="208.8" rx="0.7" ry="0.5" transform="rotate(43 593.2 208.8)"/>
<ellipse cx="606.4" cy="216.0" rx="0.8" ry="0.8" transform="rotate(127 606.4 216.0)"/>
<ellipse cx="601.3" cy="203.5" rx="0.8" ry="0.6" transform="rotate(48 601.3 203.5)"/>
<ellipse cx="595.2" cy="208.1" rx="1.2" ry="1.0" transform="rotate(155 595.2 208.1)"/>
<ellipse cx="594.3" cy="210.9" rx="0.5" ry="1.0" transform="rotate(114 594.3 210.9)"/>
<ellipse cx="570.4" cy="236.7" rx="1.1" ry="0.5" transform="rotate(155 570.4 236.7)"/>
<ellipse cx="568.4" cy="238.1" rx="1.3" ry="0.7" transform="rotate(95 568.4 238.1)"/>
<ellipse cx="567.4" cy="230.9" rx="0.7" ry="0.4" transform="rotate(7 567.4 230.9)"/>
<ellipse cx="565.6" cy="240.6" rx="1.3" ry="0.6" transform="rotate(134 565.6 240.6)"/>
<ellipse cx="563.7" cy="232.2" rx="0.8" ry="0.7" transform="rotate(143 563.7 232.2)"/>
<ellipse cx="563.8" cy="239.9" rx="1.2" ry="0.8" transform="rotate(93 563.8 239.9)"/>
<ellipse cx="569.9" cy="229.1" rx="1.4" ry="1.0" transform="rotate(41 569.9 229.1)"/>
<ellipse cx="569.4" cy="235.1" rx="0.7" ry="0.5" transform="rotate(127 569.4 235.1)"/>
<ellipse cx="567.0" cy="238.6" rx="0.8" ry="0.9" transform="rotate(118 567.0 238.6)"/>
<ellipse cx="644.3" cy="221.1" rx="0.6" ry="0.5" transform="rotate(160 644.3 221.1)"/>
<ellipse cx="679.2" cy="221.9" rx="0.9" ry="0.5" transform="rotate(141 679.2 221.9)"/>
<ellipse cx="668.6" cy="222.3" rx="0.5" ry="0.5" transform="rotate(133 668.6 222.3)"/>
<ellipse cx="717.7" cy="214.6" rx="0.9" ry="0.6" transform="rotate(68 717.7 214.6)"/>
<ellipse cx="668.2" cy="223.3" rx="0.9" ry="0.6" transform="rotate(109 668.2 223.3)"/>
<ellipse cx="660.3" cy="224.4" rx="0.7" ry="0.7" transform="rotate(93 660.3 224.4)"/>
<ellipse cx="642.1" cy="226.6" rx="0.7" ry="0.5" transform="rotate(77 642.1 226.6)"/>
<ellipse cx="678.6" cy="220.9" rx="0.6" ry="0.4" transform="rotate(86 678.6 220.9)"/>
<ellipse cx="629.0" cy="224.4" rx="0.6" ry="0.3" transform="rotate(75 629.0 224.4)"/>
<ellipse cx="663.6" cy="219.4" rx="0.5" ry="0.5" transform="rotate(11 663.6 219.4)"/>
<ellipse cx="658.5" cy="221.6" rx="0.7" ry="0.7" transform="rotate(71 658.5 221.6)"/>
<ellipse cx="711.5" cy="218.9" rx="0.7" ry="0.5" transform="rotate(164 711.5 218.9)"/>
<ellipse cx="702.8" cy="217.5" rx="0.8" ry="0.6" transform="rotate(77 702.8 217.5)"/>
<ellipse cx="684.6" cy="218.3" rx="0.6" ry="0.7" transform="rotate(155 684.6 218.3)"/>
<ellipse cx="594.7" cy="161.2" rx="0.6" ry="0.3" transform="rotate(17 594.7 161.2)"/>
<ellipse cx="593.4" cy="166.2" rx="0.6" ry="0.6" transform="rotate(27 593.4 166.2)"/>
<ellipse cx="594.8" cy="163.3" rx="0.5" ry="0.4" transform="rotate(95 594.8 163.3)"/>
<ellipse cx="593.6" cy="167.3" rx="0.7" ry="0.5" transform="rotate(45 593.6 167.3)"/>
<ellipse cx="594.7" cy="163.4" rx="0.9" ry="0.6" transform="rotate(140 594.7 163.4)"/>
<ellipse cx="587.9" cy="142.3" rx="0.8" ry="0.6" transform="rotate(166 587.9 142.3)"/>
<ellipse cx="583.7" cy="138.0" rx="0.7" ry="0.3" transform="rotate(55 583.7 138.0)"/>
<ellipse cx="585.5" cy="130.0" rx="0.8" ry="0.4" transform="rotate(18 585.5 130.0)"/>
<ellipse cx="591.6" cy="137.9" rx="0.7" ry="0.4" transform="rotate(176 591.6 137.9)"/>
<ellipse cx="583.2" cy="147.2" rx="0.6" ry="0.3" transform="rotate(106 583.2 147.2)"/>
<ellipse cx="449.7" cy="286.7" rx="0.6" ry="0.4" transform="rotate(0 449.7 286.7)"/>
<ellipse cx="451.0" cy="289.3" rx="0.7" ry="0.3" transform="rotate(144 451.0 289.3)"/>
<ellipse cx="445.9" cy="286.2" rx="0.5" ry="0.6" transform="rotate(175 445.9 286.2)"/>
<ellipse cx="448.2" cy="284.7" rx="0.8" ry="0.6" transform="rotate(24 448.2 284.7)"/>
<ellipse cx="447.3" cy="282.9" rx="0.8" ry="0.6" transform="rotate(7 447.3 282.9)"/>
<ellipse cx="443.9" cy="272.7" rx="0.5" ry="0.5" transform="rotate(173 443.9 272.7)"/>
<ellipse cx="439.2" cy="268.3" rx="0.8" ry="0.5" transform="rotate(3 439.2 268.3)"/>
</g>
<path d="M347.6 528.2L347.6 529.9L347.6 531.6L347.1 533.2L346.5 534.8L346.5 536.5L346.2 538.3L345.8 540.1L345.3 541.9L344.7 543.6L344.4 545.4L343.7 548.1L345.8 547.6L347.8 546.8L348.5 545.1L349.3 543.4L350.6 542.0L352.4 540.7L354.7 540.6L356.8 540.6L358.8 541.3L360.0 542.7L360.4 544.4L360.9 546.1L362.1 547.5L363.0 549.1L363.6 550.9L365.1 552.5L366.4 554.3L368.0 554.3L369.6 553.9L371.2 553.6L373.0 553.0L374.8 552.5L376.7 552.3L378.5 552.8L380.3 553.3L382.2 553.6L383.8 552.2L385.2 550.6L386.3 548.8L387.0 547.1L388.1 545.6L389.0 544.0L390.2 542.2L391.8 540.6L393.8 542.0L394.4 544.0L394.5 546.1L396.1 547.0L397.2 548.4L398.6 549.5L400.2 550.7L401.4 552.3L402.3 553.7L402.9 555.2L404.1 556.4L406.2 555.7L406.5 554.1L406.9 552.5L406.9 550.9L407.5 549.3L408.4 547.8L408.9 546.1L409.8 544.0L411.0 542.0L412.3 539.6L413.2 541.1L413.9 542.7L415.1 544.0L416.6 544.6L418.3 544.5L419.9 544.7L421.4 543.6L422.9 542.5L424.7 542.0L426.1 543.5L426.8 545.4L426.9 543.4L427.1 541.5L427.7 539.6L428.0 537.6L428.5 535.7L428.8 533.7L428.5 532.0L428.2 530.2L427.8 528.6L426.9 527.1L426.1 525.5L425.4 524.0L424.7 522.5L423.7 521.2L422.6 519.9L421.7 518.6L420.6 517.3L419.3 516.3L417.9 515.3L416.4 514.6L415.2 513.4L413.8 512.5L412.3 511.8L410.8 511.0L409.4 510.1L407.7 509.8L406.0 509.5L404.6 508.7L403.0 508.0L401.4 507.6L399.8 507.2L398.2 507.1L396.6 506.7L395.0 506.4L393.5 506.0L392.0 505.2L390.4 504.9L388.7 505.1L387.1 505.4L385.5 505.9L383.9 506.4L382.2 506.3L380.5 507.1L378.7 507.6L377.3 508.9L375.7 509.9L373.9 510.4L372.2 511.1L370.7 512.3L368.9 512.7L367.2 513.3L365.7 514.5L364.0 515.0L362.9 516.3L361.4 517.0L359.9 517.8L358.5 518.7L357.4 520.0L355.7 521.0L353.9 521.9L352.4 523.2L350.6 524.1L349.5 525.4L348.5 526.8Z" fill="#f0f0f0" stroke="#ababab" stroke-width="0.7"/>
<g fill="none" stroke="#ababab" stroke-width="0.7" stroke-linejoin="round">
<path d="M112.9 447.7L114.7 448.2L116.4 448.8L117.8 450.1L119.4 450.7L121.0 451.2L122.7 451.4L124.7 450.6L126.1 449.1L127.6 447.7L129.6 447.5L131.4 447.0L132.8 445.8L134.7 445.4L135.9 443.8L137.5 442.8L138.9 441.9L140.7 442.0L142.4 441.8L143.6 440.3L144.5 442.0L145.9 443.1L148.0 443.2L149.6 444.0L150.7 445.6L152.2 446.5L152.9 444.5L154.1 443.0L155.2 441.3L157.1 440.3L158.8 439.7L160.2 438.4L161.6 437.1L163.3 436.4L165.4 436.4L166.9 435.4L168.6 435.8L170.3 436.5L172.0 436.8L173.8 437.2L175.5 437.7L177.3 437.3L179.1 436.7L180.9 435.9L182.6 434.7L184.7 435.0L186.5 434.2L188.2 434.0L190.0 434.3L191.6 433.7L193.3 433.7L194.8 432.6L196.3 431.8L197.8 432.8L199.4 433.3L201.1 433.6L202.8 433.1L204.5 432.8L206.1 433.0L207.9 433.1L209.6 433.1L211.3 432.4L213.1 432.6L214.9 432.9L216.6 432.7L218.3 431.8L220.1 431.4L221.8 431.1L223.6 431.1L225.4 430.7L227.0 429.8L228.7 429.1L230.6 429.3L232.3 428.8L234.2 429.2L235.8 427.9L237.6 428.2L239.3 427.4L241.0 427.0L242.8 426.9L244.7 426.6L246.5 426.1L247.9 424.5L249.6 423.7L251.4 423.2L252.1 421.5L253.4 420.2L254.5 418.8L255.1 417.1L255.2 415.0L254.0 413.4L253.6 411.4L252.6 409.7L251.3 408.7L249.6 408.3L248.2 407.6L246.8 406.7L245.3 406.0L247.1 405.5L248.7 404.8L249.8 403.2L251.2 402.1L252.6 401.1L254.1 400.2L255.1 398.7L255.8 396.9L257.5 396.2L256.9 394.7L255.6 393.4L255.7 391.6L255.1 390.1"/>
<path d="M112.9 447.7L114.4 446.8L115.9 445.7L117.8 445.3L119.1 444.0L120.8 443.7L122.4 443.1L123.5 441.8L125.2 441.5L126.2 439.9L127.6 439.1L129.3 438.5L130.8 437.6L131.9 436.0L133.8 435.6L135.0 434.2L136.2 432.6L135.9 430.4L137.1 428.8L137.5 426.9L139.1 426.5L140.5 425.7L141.6 424.1L143.3 423.9L144.8 423.2L146.5 423.2L148.2 423.3L149.5 422.1L151.1 421.7L152.4 420.6L154.0 420.3L155.5 419.6L157.1 419.5L158.7 418.7L160.1 417.6L161.9 417.3L163.5 416.7L165.1 415.9L166.9 415.8L168.5 415.2L170.3 415.0L171.7 414.1L173.4 413.5L174.8 412.6L176.4 411.9L177.6 410.5L179.1 409.7L177.6 410.5L176.0 411.1L174.3 411.4L172.6 411.7L170.8 411.6L169.3 412.6L167.5 412.8L166.2 413.9L164.8 414.8L163.1 415.2L161.5 415.7L160.3 417.3L158.7 417.8L157.1 418.3L155.2 418.5L153.8 417.3L152.4 415.9L150.5 416.0L148.9 415.2L147.3 414.6L145.9 413.4L144.1 413.3L142.2 413.4L140.7 412.4L139.1 411.5L137.5 410.9L135.9 410.5L134.3 409.8L132.6 410.1L130.9 409.8L129.3 409.2L127.6 409.7L126.4 408.1L124.6 406.9L124.0 404.8L124.0 402.9L123.9 401.0L125.0 399.3L125.2 397.5L124.8 395.7L123.8 394.2L122.8 392.7L121.8 391.3L120.3 390.1"/>
<path d="M240.0 429.1L241.8 429.4L243.5 428.3L245.3 428.5L247.1 428.2L248.2 426.4L249.4 424.7L250.6 422.9L249.1 421.9L247.6 421.0L246.4 419.6L245.3 418.2L243.5 417.6L245.2 416.3L247.2 415.5L248.8 414.1L247.9 412.7L246.6 411.6L245.3 410.6L247.2 410.1L249.1 409.4L250.6 407.9L249.2 406.1L247.1 405.3L249.0 405.0L250.9 404.8L252.4 403.5L254.1 402.7L254.9 401.1L255.4 399.3L256.8 398.2L256.7 396.3L257.0 394.5L257.5 392.8L258.5 391.2L258.2 389.5L256.8 388.3L256.7 386.5L255.9 385.0L254.2 383.9L252.2 383.5L250.6 382.2L248.8 381.5L247.0 381.0L245.1 380.8L243.5 379.7L242.3 378.3L241.4 376.6L240.0 375.3L239.5 373.6L238.4 372.3L237.5 370.8L237.0 369.1L236.2 367.6L234.7 366.5"/>
<path d="M24.7 404.8L26.2 405.8L27.5 406.9L28.4 408.5L30.2 409.3L32.1 409.7L32.7 412.0L34.5 413.4L37.0 414.6L39.5 414.4L40.6 412.2L42.1 413.8L44.3 413.4L46.2 413.0L48.1 412.7L49.2 410.9L50.8 412.1L52.5 412.1L54.1 410.9L56.2 411.0L57.9 410.4L59.0 408.5L60.8 408.6L62.4 408.3L63.9 407.3L66.2 407.9L68.1 407.2L70.0 406.0L71.8 406.6L73.4 406.4L74.7 404.8L76.2 404.3L76.6 402.6L77.9 401.4L78.6 399.9"/>
<path d="M174.2 464.9L176.7 463.6L177.9 466.1L176.4 466.8L174.7 466.6L174.2 464.9"/>
<path d="M180.3 469.8L182.1 469.0L184.0 469.0L185.2 471.5L183.4 471.5L181.6 472.0L180.3 469.8"/>
<path d="M748.5 307.5L750.1 308.0L751.7 308.4L753.3 308.9L754.9 309.3L756.5 309.6L758.1 310.1L759.5 311.2L761.2 311.1L762.6 312.1L764.2 312.4L765.8 312.6L767.1 313.7L768.7 314.2L770.3 314.5L771.8 314.9L773.6 314.8L775.3 315.5L777.0 315.7L778.7 316.2L780.5 315.8L782.2 316.2L784.0 316.1L785.6 316.6L787.2 317.0L788.8 317.9L790.4 318.4L792.2 318.2L793.9 318.1L795.5 318.7L797.0 319.5L798.7 319.8L799.3 321.5L800.0 323.2L800.7 324.9L801.7 326.4L802.7 328.0L803.6 329.6L804.1 331.5L805.0 333.2L805.3 335.2L806.1 337.0L807.0 338.5L807.9 340.0L808.8 341.6L809.7 343.1L811.1 344.2L812.4 345.4L813.4 346.8L814.8 347.7L816.3 348.5L817.7 349.3L819.2 350.1L820.3 351.4L821.9 352.0L823.1 353.1L824.3 354.5L825.7 355.3L826.7 356.7L827.0 358.4L828.0 359.8L828.1 361.5L829.9 361.7L831.6 362.4L833.4 362.2L835.1 363.0L836.8 363.6L838.6 363.8L840.4 363.9L841.8 365.0L842.6 366.6L843.9 367.8L845.2 368.9L846.5 370.0L844.8 370.7L843.4 371.8L841.9 372.6L840.6 373.9L839.5 375.3L837.9 376.2L836.3 376.2L834.6 376.6L833.0 376.3L831.4 376.3L829.7 375.8L828.1 375.9L826.5 376.5L824.8 376.0L823.2 376.2L821.7 377.9L820.8 379.9L822.0 381.0L823.2 382.1L824.1 383.4L825.0 384.8L826.4 385.7L827.4 386.9L828.1 388.4L829.2 390.1L829.5 392.0L829.9 394.0L830.6 395.8L831.6 397.2L832.6 398.7L834.3 399.5L835.5 400.7"/>
<path d="M744.8 409.3L746.4 409.9L748.2 410.1L749.7 411.1L751.3 411.6L753.0 412.0L754.5 412.8L756.1 413.4L757.8 413.8L759.5 414.2L761.2 413.8L763.0 413.7L764.8 413.9L766.6 414.0L768.4 414.0L770.1 413.4L771.8 412.9L773.2 413.8L774.8 414.2L776.4 414.8L777.8 415.6L779.1 416.6L780.8 415.6L782.7 415.0L784.7 414.8L786.5 414.2L787.9 415.0L789.3 416.0L790.7 416.7L792.4 417.0L793.8 417.8L795.4 417.4L797.0 417.2L798.7 417.5L800.3 416.9L802.0 417.0L803.6 417.4L805.2 416.8L806.8 416.5L808.5 416.6L810.2 417.6L811.9 418.7L813.0 420.4L814.7 421.5L815.3 419.8L815.1 418.0L814.9 416.3L815.7 414.6L815.9 412.9L816.6 411.3L816.8 409.5L816.9 407.7L817.2 405.9L818.3 404.4L819.6 403.2L821.3 403.1L822.8 402.3L824.1 401.2L825.7 400.7L827.3 400.4L829.0 400.6L830.6 400.5L832.2 400.4L833.9 401.0L835.5 400.7"/>
<path d="M835.5 400.7L837.2 401.2L838.9 401.3L840.6 401.9L842.4 401.7L844.1 401.9L844.8 400.4L845.3 398.8L845.7 397.2L846.5 395.8L848.4 395.5L850.2 396.2L852.0 396.4L853.8 396.7L855.6 397.1L857.5 397.0L859.3 397.0L861.0 396.3L862.8 396.2L864.6 396.2L866.4 396.0L868.0 394.9L869.8 394.6L871.5 395.3L873.1 396.1L874.7 396.9L876.1 398.0L877.2 399.5L878.6 400.6L879.9 401.7L881.0 403.0L882.3 404.2L883.2 405.8L884.8 406.6L886.1 407.7L887.0 409.3L885.5 410.6L884.0 412.1L882.1 412.9L883.5 414.0L883.8 415.7L884.4 417.3L885.5 418.6L885.9 420.2L887.0 421.5L888.6 421.8L890.3 421.4L891.9 421.8L893.5 422.0L895.2 422.4L896.8 422.3L898.4 422.4L900.1 422.2L901.7 422.7L903.5 423.1L904.7 424.6L906.0 425.8L907.7 426.4L909.0 427.6L910.3 429.0L911.2 430.6L912.0 432.3L912.7 434.0L913.7 435.6L913.9 437.5L915.6 438.1L917.2 438.9L918.4 440.4L919.7 441.7L921.3 442.4L922.9 442.6L924.6 442.9L926.2 442.7L927.8 443.5L929.4 444.0L931.1 443.6L932.7 444.1L934.4 443.8L936.0 444.3L937.7 444.0L939.3 444.1L940.9 444.8L942.4 443.8L944.2 444.1L945.7 443.3L947.5 443.5L949.2 443.2L950.7 442.4L951.9 443.8L953.3 444.8L955.0 445.5L956.4 446.5L958.0 447.3L959.6 448.1L961.3 448.7L962.5 450.2L963.8 451.3L965.4 452.2L967.0 451.6L968.6 451.3L970.3 450.9L972.0 451.2L973.6 451.8L975.3 451.7L976.8 452.5L978.6 452.6L980.2 452.9L981.7 453.7L983.4 454.1L985.0 454.6"/>
<path d="M773.0 491.4L774.5 492.3L776.1 493.0L777.8 493.3L779.2 494.5L780.7 495.2L782.4 495.7L784.0 496.3L785.5 497.1L787.1 497.7L788.9 497.5L790.6 497.5L792.2 498.0L793.8 498.7L795.3 499.5L796.7 500.4L797.7 501.7L799.0 502.6L799.8 504.1L801.1 505.1L802.4 506.1L803.0 507.9L803.1 509.7L803.2 511.6L803.6 513.4L805.1 514.3L806.4 515.6L808.0 516.3L809.3 517.7L811.0 518.3L811.6 520.2L812.3 522.0L812.8 523.9L813.4 525.7L814.7 526.9L816.1 527.9L816.9 529.6L818.4 530.5L819.3 532.1L820.7 533.1L822.0 534.3L822.8 535.7L823.3 537.3L824.4 538.6L824.7 540.3L825.7 541.6L824.0 541.6L822.5 540.9L820.9 540.3L819.2 540.3L817.6 540.4L815.9 540.4L814.3 540.2L812.7 539.8L811.1 539.3L809.4 539.0L807.8 538.9L806.1 539.2L804.9 540.6L803.7 541.9L803.0 543.6L802.4 545.3L802.6 547.1L803.2 548.9L803.7 550.7L803.6 552.6L803.5 554.4L802.4 555.7L801.2 556.9L800.5 558.4L800.0 560.0L799.2 561.5L799.3 563.2L799.2 564.9"/>
<path d="M822.7 566.1L822.5 564.0L823.3 562.1L823.2 560.0L824.2 558.5L825.4 557.3L827.1 556.5L828.1 555.1L829.4 553.9L830.3 552.4L831.1 550.8L832.0 549.2L832.8 547.7L834.4 546.7L835.5 545.3L836.6 544.0L837.4 542.6L837.8 540.9L838.4 539.3L839.4 538.1L840.4 536.7L842.1 536.1L843.9 535.8L845.8 535.6L847.5 535.2L849.2 534.3L850.8 533.3L852.6 533.0L853.2 534.7L854.5 536.1L855.1 537.9L855.4 536.0L856.2 534.2L856.8 532.4L857.5 530.6L856.7 529.1L856.9 527.3L856.2 525.7L856.2 524.0L855.6 522.4L855.1 520.8L856.2 522.4L857.7 523.7L859.0 525.2L860.0 526.9L861.1 528.6L861.9 530.4L862.2 532.3L862.5 534.3L864.2 534.7L866.0 534.7L867.8 534.4L869.5 535.1L871.2 535.5L873.0 535.3L874.7 535.5L872.9 535.8L871.3 536.3L869.8 537.4L868.3 538.4L866.5 538.5L864.9 539.2L863.3 539.5L861.6 539.9L860.0 540.0L858.4 539.6L856.7 539.4L855.1 539.2L856.4 540.4L858.2 540.9L859.3 542.4L860.7 543.6L862.5 544.1L864.1 544.3L865.8 544.3L867.4 544.6L869.1 544.5L870.7 545.1L872.3 545.3L873.8 546.2L875.4 547.0L877.2 547.2L878.8 547.8L880.5 548.2L882.1 549.0L883.7 548.8L885.3 548.2L887.0 548.1L888.6 547.8L890.3 548.2L891.9 548.0L893.6 548.3L895.2 547.8L896.8 547.7L898.4 548.9L899.6 550.5L901.0 551.9L901.7 553.9L901.3 555.8L900.2 557.1L899.5 558.8L898.0 560.0L896.4 561.2L894.7 562.2L893.2 563.4L891.9 564.9"/>
<path d="M921.3 560.0L921.4 558.3L921.6 556.6L922.1 554.9L922.2 553.2L923.0 551.6L923.1 549.9L923.2 548.2L923.7 546.5L924.4 544.6L926.2 543.5L927.5 542.1L928.6 540.4L927.4 541.9L926.6 543.5L926.2 545.3L927.8 544.1L928.6 542.2L930.2 541.0L931.1 539.2L932.7 538.7L934.2 538.1L935.7 537.3L937.1 536.6L938.4 535.5L940.0 535.1L941.4 534.0L943.1 533.8L944.6 533.2L946.1 532.6L947.7 531.9L949.0 530.9L950.7 530.6L952.2 529.7L953.9 529.6L955.6 529.3L957.3 529.1L958.8 528.4L960.5 528.1L962.0 527.1L963.6 526.5L965.2 525.8L967.0 525.6L968.6 524.9L970.3 524.5L972.1 524.5L973.8 524.2L975.5 523.8L977.3 524.1L979.1 523.9L980.8 523.8L982.5 523.2L985.0 524.5"/>
<path d="M977.6 535.5L979.0 536.6L980.0 538.0L981.6 538.9L982.5 540.4L983.6 541.8L985.0 542.8"/>
<path d="M878.4 567.3L880.0 566.5L881.5 565.5L882.8 564.3L883.9 562.9L885.6 562.1L887.0 561.1L888.6 560.8L890.3 560.9L891.9 560.4L893.5 560.7L895.2 560.3L896.8 560.2L898.4 559.9L900.1 560.1L901.7 559.9L903.3 559.9L905.0 559.7L906.6 560.0L908.2 559.3L909.8 559.0L911.5 558.8L913.1 558.4L914.7 558.5L916.4 558.7L917.6 557.4L919.0 556.2L920.5 555.3L922.0 554.4L923.7 553.8L924.2 555.4L924.6 557.1L925.8 558.5L926.2 560.2L927.1 561.7L928.2 563.1L928.6 564.8L930.0 565.9L931.5 566.8L932.6 568.3L933.8 569.5L935.3 570.5L936.9 571.3L938.4 572.2L940.1 572.3L941.7 572.1L943.3 571.6L944.9 571.2L946.5 570.5L948.2 570.4L949.8 570.1L951.5 570.2L953.1 569.7L954.6 568.2L956.1 566.9L958.0 566.0L959.6 566.4L961.2 566.7L962.9 566.8L964.5 566.8L966.2 566.9L967.8 567.3L966.5 568.4L965.1 569.5L963.9 570.7L962.9 572.2L961.2 572.5L959.7 573.1L958.1 573.6L956.3 573.7L954.6 573.9L953.0 574.2L951.5 575.1L949.9 575.5L948.2 575.8L946.6 576.8L944.8 577.2L943.1 577.8L941.3 578.4L939.8 579.4L938.4 580.7L936.8 581.3L935.5 582.3L934.7 583.8L933.5 585.0L932.1 585.9L930.7 586.8L929.8 588.2L928.6 589.3L926.8 589.7L925.2 590.7L923.5 591.2L921.8 591.9L920.1 592.6L918.2 592.6L916.4 593.0L914.8 592.7L913.2 592.1L911.6 592.0L909.9 591.8L908.2 591.9L906.6 591.8L906.0 590.1L905.1 588.6L904.1 587.1L903.2 585.5L901.7 584.4L902.3 582.6L903.3 580.9L904.0 579.1L904.1 577.1L902.4 576.4L901.0 575.2L899.2 574.7L897.8 573.4L896.2 572.5L894.3 572.2L892.6 571.4L890.8 571.4L889.1 571.1L887.4 570.4L885.7 569.8L883.9 569.8L882.1 569.7L880.3 568.4L878.4 567.3"/>
<path d="M926.2 552.5L927.1 554.1L928.0 555.7L928.3 557.6L929.1 559.3L930.3 560.7L931.1 562.4L932.8 563.0L934.6 563.5L936.2 564.4L937.7 565.4L939.2 566.7L940.9 567.3L942.7 567.2L944.3 566.7L945.8 565.6L947.4 564.9L949.2 564.8L950.9 564.6L952.4 563.6L953.9 562.8L955.6 562.4L957.2 563.0L958.9 563.4L960.6 563.9L962.2 564.6L963.7 565.6L965.4 566.0L966.9 566.8L968.0 568.2L969.2 569.2L970.5 570.4L972.1 571.0L973.5 571.9L974.8 573.0L976.0 574.1L977.6 574.9L978.7 576.2L980.1 577.1L980.8 578.8L982.2 579.9L983.1 581.4L983.8 583.1L985.0 584.4"/>
<path d="M800.0 658.9L800.7 660.6L801.9 662.1L802.9 663.6L803.6 665.3L805.1 666.3L806.2 667.6L807.2 669.1L808.8 669.9L809.9 671.3L811.0 672.6L812.4 673.5L814.1 673.7L815.4 674.8L816.9 675.5L818.7 675.5L820.3 675.9L821.8 676.5L823.2 677.5L824.9 677.3L826.5 677.6L828.2 678.0L829.8 678.2L831.4 678.5L833.0 679.1L834.6 679.7L836.2 680.0L837.9 680.0L839.5 680.6L841.1 680.5L842.8 680.8L844.4 680.7L846.1 680.5L847.7 680.5L849.3 680.9L850.9 681.4L852.6 681.2L854.3 681.1L856.0 681.0L857.8 681.3L859.5 681.6L861.2 681.2L862.9 681.3L864.6 681.2L866.4 681.5L868.1 681.1L869.8 681.2L871.2 680.4L872.8 679.8L874.2 679.0L875.8 678.3L877.3 677.6L878.5 676.4L879.6 675.1L881.1 674.2L882.9 673.6L884.4 672.6L885.8 671.6L887.6 670.9L888.8 669.6L890.2 668.4L891.9 667.7L893.3 666.7L894.9 666.1L896.3 665.1L897.8 664.4L899.5 663.9L901.0 663.1L902.4 662.1L903.6 660.8L905.2 660.2L906.6 659.2L908.2 658.9L909.8 658.1L911.5 658.6L913.1 657.8L914.8 657.9L916.4 657.3L918.1 657.5L919.7 656.9L921.3 656.7L922.9 656.8L924.6 657.1L926.2 657.0L927.8 657.2L929.5 656.9L931.1 656.9L932.7 656.5L934.4 656.5L936.0 656.7L937.7 655.6L939.6 655.5L941.5 655.0L943.3 654.3L944.6 655.3L945.4 656.7L946.2 658.2L947.3 659.3L948.6 660.4L949.5 661.7L950.7 662.8L952.4 663.3L954.2 663.2L956.0 663.7L957.7 664.1L959.4 664.6L961.1 665.1L962.9 665.3L964.0 666.7L965.3 667.8L966.3 669.2L967.8 670.2L968.9 671.5L970.3 672.6L971.7 673.7L973.3 674.4L975.0 675.0L976.9 675.0L978.4 675.8L980.1 676.3L981.8 676.2L983.4 675.5L985.0 675.1"/>
<path d="M824.5 678.8L825.1 680.8L825.9 682.7L825.7 684.9L827.3 685.3L828.8 686.0L830.3 686.8L831.9 687.0L833.5 687.5L835.0 688.3L836.6 688.8L838.1 689.5L839.6 690.2L841.3 690.3L842.8 691.0L841.1 690.9L839.5 691.1L837.8 691.2L836.3 692.1L834.7 692.4L833.0 692.3L831.5 693.7L830.0 695.0L828.1 695.9L826.8 697.1L825.1 697.7L823.5 698.5L822.2 699.8L820.8 700.8L819.1 701.3L817.3 701.1L815.5 701.0L813.7 701.3L812.0 701.7L810.2 701.6L808.5 702.1L806.7 702.0L805.0 702.2L803.2 702.4L801.5 702.9L799.8 703.4L798.1 703.6L796.3 703.3L794.7 702.1L793.1 700.8L791.4 699.6L793.0 699.2L794.3 698.1L795.8 697.4L797.4 697.0L798.7 695.9L798.0 694.1L797.5 692.3L796.3 691.0L795.4 689.6L794.5 688.2L794.5 686.4L793.8 684.9L795.3 684.1L797.1 684.1L798.6 683.2L800.3 683.3L801.9 682.8L803.6 682.5L805.4 682.4L807.1 682.4L808.9 682.3L810.6 682.1L812.4 682.1L814.1 682.2L815.9 682.5L817.6 681.7L819.3 681.0L820.9 679.9L822.5 678.9L824.5 678.8"/>
<path d="M765.6 688.6L767.0 689.6L768.5 690.3L770.1 690.9L771.8 691.0L773.5 691.1L775.2 691.3L776.9 691.8L778.7 691.6L780.3 692.3L781.5 690.9L783.1 690.4L784.8 690.1L786.0 689.0L787.7 688.6L789.0 687.3L790.4 686.1L791.9 685.1L793.8 684.9"/>
<path d="M791.4 687.4L790.3 688.7L789.3 690.2L788.1 691.5L786.6 692.4L785.4 693.7L784.0 694.7L782.5 695.9L781.3 697.5L779.8 698.6L778.1 699.5L776.7 700.8L775.4 701.9L774.3 703.3L772.7 704.2L771.5 705.5L770.4 706.8L769.3 708.2L769.6 706.5L770.0 704.9L771.2 703.6L771.8 702.1L773.5 701.2L774.6 699.5L776.2 698.4L777.4 696.8L779.1 695.9L780.2 694.2L781.7 692.9L783.6 692.1L785.2 691.0"/>
<path d="M791.4 699.6L789.7 700.3L787.9 700.8L786.7 702.4L785.1 703.3L783.2 703.6L781.6 704.5L780.2 705.4L778.8 706.5L777.0 706.0L775.3 705.8L773.8 706.5L772.5 707.7L771.0 708.2L769.3 708.2L769.5 710.3L767.6 711.6L767.7 713.6L767.3 715.5L765.6 716.8L767.1 718.3L766.9 720.4L767.5 722.3L768.1 724.1L769.9 723.9L771.6 724.3L773.4 724.8L775.2 724.7L776.9 723.9L778.7 723.5L780.5 723.5L782.2 723.4L784.0 724.1L784.0 726.0L783.4 727.8L783.8 729.8L782.8 731.5L784.7 732.4L785.5 734.0L785.6 736.1L786.5 737.6L784.7 740.0L783.4 741.3L783.1 743.1L781.8 744.5L781.6 746.3L782.9 747.5L784.4 748.5L785.9 749.4L787.8 749.4L789.2 750.4L790.3 751.6L790.9 753.3L792.5 754.1L790.6 754.7L789.6 756.5L787.8 757.3L785.7 757.6L783.7 757.3L781.6 757.3L779.9 757.0L778.4 757.7L777.0 758.8L775.3 758.8L776.9 759.4L778.4 760.1L780.2 760.2L781.9 760.4L783.1 762.0L785.0 762.0L786.8 762.5L787.9 764.1L789.4 765.1L791.0 765.9L792.5 766.8L794.0 767.7L795.7 768.2L796.4 769.7L796.9 771.3L797.3 772.9L796.3 775.1L794.1 776.1L794.9 777.6L794.8 779.4L795.7 780.8L797.0 782.2L798.3 783.7L800.4 783.9L801.7 785.4L802.9 786.9L805.1 787.1L803.2 788.1L802.8 790.1L802.0 791.8L800.6 793.2L798.8 794.1L800.6 793.4L802.5 793.1L804.3 794.3L806.1 793.7L808.0 793.7L809.8 794.1L811.6 793.3L813.5 794.0L815.3 794.2L817.2 794.7L819.0 793.5L820.8 793.3L819.5 795.1L819.2 797.3L817.2 797.2L815.8 798.3L814.0 798.6L812.9 800.4L810.7 799.3L808.7 800.7L806.7 801.2L805.0 801.2L803.7 802.6L802.0 802.7L804.1 802.2L806.1 802.6L808.0 803.3L809.8 804.3L811.4 803.8L812.7 802.4L814.4 802.2L816.1 802.0L817.6 801.1L819.4 800.6L820.5 799.0L822.4 798.8L824.6 798.4L826.5 799.7L828.6 799.6L829.8 801.0L831.9 800.9L833.1 802.4L834.9 802.7L835.5 804.4L836.6 805.7L838.3 806.4L839.6 807.5L840.7 809.1L841.2 810.9L841.2 812.9"/>
<path d="M869.8 812.6L869.4 810.9L869.7 809.2L869.4 807.5L869.0 805.9L869.4 804.2L869.5 802.5L869.1 800.8L869.3 799.1L871.2 798.4L873.3 798.8L875.2 797.9L877.2 797.9L878.8 798.4L880.5 798.4L882.2 798.8L883.8 799.2L885.5 799.5L887.0 800.3L888.3 801.3L889.9 801.9L891.4 802.6L892.9 803.3L894.3 804.2L895.7 805.2L896.8 806.5L898.3 807.4L899.8 808.3L901.4 809.1L902.3 810.7L903.6 812.0L904.9 813.2L906.6 813.8L907.5 815.6L908.8 817.1L909.9 818.7L911.5 820.0L913.1 820.7L914.7 821.2L916.3 821.1L918.0 821.1L919.7 821.0L921.3 821.2L922.9 820.9L924.6 820.8L926.3 820.6L927.9 820.0L929.4 819.2L931.1 819.2L932.9 818.7L934.7 818.0L936.6 818.0L938.4 817.5L939.9 816.1L941.7 815.1L943.3 813.8L944.4 812.4L945.4 811.0L946.3 809.5L947.0 807.8L948.2 806.5L949.1 805.0L950.5 804.2L951.8 803.2L953.4 802.7L954.6 801.6L955.6 800.3L957.4 800.5L959.2 799.9L961.1 800.3L962.9 800.3L964.4 801.0L965.9 801.8L967.2 802.9L968.6 803.7L970.3 804.0L971.6 805.2L973.2 805.6L974.7 806.4L976.4 806.5L978.2 805.3L979.6 803.8L980.1 801.6L981.9 800.0L983.0 797.9L982.6 799.6L982.9 801.3L982.1 802.9L982.3 804.7L981.9 806.3L982.1 808.1L981.9 809.8L981.3 811.4L982.3 812.9L982.6 814.8L983.8 816.3L983.5 818.1L983.9 819.7L985.0 821.2"/>
<path d="M986.2 887.4L985.6 889.0L985.2 890.6L985.0 892.3L984.1 893.8L983.7 895.5L983.2 897.2L982.9 898.9L982.0 900.4L981.6 902.1L981.0 903.7L980.7 905.4L980.1 907.0L980.1 908.7L979.3 910.2L979.6 912.0L978.9 913.5L978.5 915.1L978.0 916.7L977.9 918.4L977.8 920.1L977.6 921.7L977.5 923.3L977.1 925.0L977.4 926.7L977.1 928.3L976.4 929.8L976.4 931.5"/>
<path d="M657.0 933.0L658.1 931.4L659.4 930.0L660.3 928.4L662.0 927.6L663.3 926.4L664.6 925.1L665.6 923.7L666.7 922.2L668.2 921.2L669.7 920.6L671.3 920.1L672.6 918.9L674.1 918.2L675.6 917.5L677.1 916.9L678.6 916.2L680.0 915.3L681.7 914.6L683.2 913.8L684.4 912.3L685.8 911.3L687.3 910.3L688.8 909.4L690.5 909.4L692.3 909.2L693.9 909.9L695.5 910.3L697.2 910.4L698.9 910.9L700.6 910.9L702.3 911.6L704.1 911.8L705.7 912.8L707.3 913.4L709.0 914.1L710.8 914.4L712.4 915.3L714.2 915.7L715.8 916.7L717.5 917.5L719.4 917.9L721.2 918.2L721.7 920.0L721.7 921.8L721.6 923.6L721.8 925.4L722.6 927.1L722.6 928.9L722.9 930.6L724.1 932.0"/>
<path d="M253.8 807.8L255.0 807.8L256.7 807.4L258.5 807.2L260.3 807.2L262.1 807.3L263.9 806.9L265.6 806.7L267.3 805.9L269.1 805.8L270.8 805.2L272.5 804.6L274.3 804.4L276.0 804.3L277.8 804.0L279.5 803.4L281.2 803.2L282.7 802.5L284.3 801.9L285.4 800.5L286.9 799.8L288.7 799.5L290.4 799.3L292.2 799.2L293.8 798.3L295.7 798.2L297.3 797.6L299.1 797.3L300.8 797.4L302.3 796.8L304.0 796.4L305.6 796.4L307.3 796.5L308.9 796.0L310.5 796.1L312.2 796.2L313.8 796.1L315.4 796.6L317.1 796.6L318.7 796.8L320.3 797.3L322.0 797.2L323.7 797.1L325.3 797.5L326.9 798.2L328.5 798.5L330.0 799.6L331.2 801.0L332.7 802.1L334.2 803.1L335.9 803.9L337.7 804.0L339.3 803.4L340.9 802.7L342.4 801.8L344.1 801.7L345.7 801.0L347.4 800.3L348.4 798.8L349.7 797.5L350.9 796.2L352.4 795.4L353.8 794.2L355.5 793.6L357.1 793.0L358.7 792.2L360.4 791.7L361.4 793.1L362.9 793.8L364.4 794.7L365.3 796.1L366.9 795.4L368.5 794.6L370.2 794.3L371.7 793.4L373.4 792.8L375.1 792.4L376.7 792.5L378.4 792.7L380.0 793.3L381.7 793.0L383.2 793.7L384.9 793.6L386.1 794.9L387.8 795.3L389.3 796.0L390.6 797.1L392.3 797.3L393.9 797.0L395.6 797.3L397.3 797.3L398.8 796.5L400.5 796.4L402.1 796.1"/>
<path d="M402.9 797.0L402.5 798.6L401.8 800.2L401.4 801.8L401.7 803.5L401.0 805.1L400.8 806.8L400.6 808.4L400.0 810.0L400.5 811.6L400.2 813.2L400.1 814.8L400.2 816.4L400.8 818.0L401.2 819.6L401.3 821.2L401.1 822.8L401.4 824.4L401.2 826.0L401.5 827.6L401.6 829.2L401.3 830.9L401.7 832.4L401.6 834.1L401.7 835.7L402.2 837.3L402.3 838.9L402.5 840.5L402.7 842.1L402.7 843.7L402.9 845.3L402.6 846.9L401.9 848.5L401.6 850.1L401.4 851.8L400.8 853.4L400.6 855.0L400.7 856.7L400.3 858.4L400.0 860.0L398.8 861.3L397.7 862.7L396.7 864.2L395.0 865.1L394.0 866.6L392.4 867.5L391.2 868.8L390.5 870.4L389.1 871.6L387.9 873.0L387.0 874.5L386.2 876.1L385.3 877.6L385.6 879.2L385.8 880.8L386.1 882.4L386.1 884.1L386.5 885.7L386.9 887.2L387.5 888.8L387.5 890.5L387.6 892.1L388.1 893.7L388.2 895.3L389.6 896.3L390.9 897.3L392.1 898.5L393.1 899.9L393.9 901.4L395.1 902.6L396.0 904.0L397.5 904.9L398.8 905.9L400.0 907.1L400.4 908.8L400.9 910.5L401.4 912.2L401.9 913.9L402.9 915.4L403.7 917.0L404.4 918.6L405.2 920.2L405.9 921.8L406.9 923.2L407.4 924.9L408.7 926.2L410.0 927.4L410.5 929.1L411.8 930.4L412.5 932.0"/>
<path d="M98.3 831.7L97.8 833.4L97.5 835.2L97.2 836.9L96.2 838.4L95.4 840.0L94.8 841.7L94.2 843.3L93.6 845.0L93.3 846.7L92.7 848.2L92.0 849.7L91.5 851.2L90.9 852.7L90.7 854.4L90.2 856.0L89.4 857.4L88.4 858.7L88.2 860.4L87.2 861.8L86.7 863.3L86.1 864.8L85.5 866.4L84.4 867.6L83.5 868.9L82.4 870.2L81.8 871.7L81.2 873.2L80.3 874.6L79.4 876.0L78.5 877.3L77.4 878.5L76.7 880.0L75.4 881.1L74.1 882.0L72.5 882.8L71.5 884.2L70.3 885.4L68.6 885.9L67.2 886.8L66.0 888.0L64.7 889.1L63.3 890.0L61.7 890.5L60.2 891.0L58.8 891.8L57.2 892.2L55.9 893.3L54.2 893.5L52.8 894.5L51.4 895.3L49.7 895.4L48.2 896.0L46.7 896.7L45.3 897.8L43.8 898.8L42.9 900.4L42.0 902.0L40.7 903.2L39.5 904.5L37.9 905.4L36.7 906.7L35.4 907.8L34.3 909.1L33.6 910.7L32.4 912.0L31.4 913.3L30.0 914.4L29.1 915.9L28.2 917.3L26.7 918.3L26.9 920.1L26.0 921.7L25.1 923.2L24.4 924.8L24.2 926.6L24.0 928.3L24.0 930.0L23.9 931.7L23.3 933.3"/>
<path d="M111.7 831.7L113.0 832.8L113.7 834.4L114.8 835.6L116.0 836.8L116.7 838.3L118.0 839.4L119.6 840.2L120.9 841.3L122.3 842.2L123.6 843.4L125.0 844.4L126.7 845.0L128.4 845.1L130.1 845.0L131.8 844.7L133.5 844.5L135.1 843.7L136.7 843.3L138.4 842.9L140.0 842.4L141.5 841.6L143.3 841.7L145.0 841.9L146.6 842.5L148.3 842.3L150.0 842.4L151.7 842.2L153.3 843.0L155.0 843.3L156.7 843.3L158.2 842.3L159.3 840.9L160.4 839.5L161.7 838.3L162.5 839.9L162.2 841.7L163.2 843.3L163.3 845.0L165.1 845.3L166.6 846.3L168.4 846.4L170.1 846.9L171.5 848.0L173.3 848.3L175.0 848.6L176.6 848.2L178.3 848.0L180.0 848.5L181.6 848.6L183.3 848.3L184.9 847.4L186.7 846.8L188.4 845.9L190.2 845.4L191.9 844.7L193.3 843.3L194.7 842.3L195.8 841.2L196.4 839.5L197.1 838.0L198.6 837.1L199.3 835.6L200.4 834.4L201.7 833.3L203.0 832.3L204.2 831.1L205.8 830.8L207.4 830.3L208.6 829.2L210.0 828.3L211.7 828.3L213.4 828.2L215.1 828.1L216.6 827.0L218.3 826.9L220.0 826.7L221.1 825.5L222.4 824.5L223.7 823.5L224.7 822.1L225.8 820.9L227.1 820.0L228.6 819.2L230.0 818.3L231.2 817.0L232.9 816.3L234.6 815.7L236.0 814.7L237.2 813.4L238.6 812.3L240.3 811.8L241.9 811.1L243.3 810.0L244.9 809.5L246.5 808.8L248.2 808.4L250.0 808.3L251.6 807.7L253.2 807.2L255.0 807.3"/>
<path d="M176.7 848.3L178.0 849.4L178.8 851.0L179.7 852.4L181.3 853.3L182.5 854.6L183.4 856.1L184.2 857.6L185.5 858.8L186.7 860.0L186.5 861.7L186.0 863.3L186.4 865.0L186.7 866.6L186.7 868.3L186.9 870.0L186.6 871.6L186.7 873.3L187.1 875.0L187.3 876.7L187.3 878.4L187.8 880.0L188.1 881.7L188.5 883.3L188.8 885.0L189.6 886.6L189.9 888.3L190.0 890.0L190.3 891.7L190.8 893.3L190.3 895.0L191.0 896.6L191.3 898.3L191.2 900.0L191.1 901.7L190.9 903.4L191.1 905.1L191.7 906.7L192.3 908.5L193.0 910.2L194.3 911.7L195.5 913.1L195.8 915.1L196.7 916.7L197.8 918.0L198.9 919.2L199.5 920.8L200.7 922.0L201.7 923.3L200.3 924.8L199.4 926.6L198.3 928.3L198.1 930.1L197.5 931.7L196.7 933.3"/>
<path d="M855.1 66.2L856.7 66.5L858.5 66.6L859.9 67.5L861.1 68.9L862.9 69.0L864.5 69.4L866.1 69.9L867.4 71.1L869.2 71.0L871.1 70.8L872.6 72.3L874.3 72.8L875.9 73.8L877.9 73.2L879.6 73.6L881.3 74.0L883.1 74.5L884.9 74.4L886.6 74.9L888.3 75.9L890.0 76.5L891.9 76.0L893.6 76.7L895.3 77.3L897.0 78.1L898.9 78.0L900.8 77.9L902.3 79.3L904.1 79.7L905.2 81.1L906.6 82.2L908.1 83.1L909.6 84.2L910.8 85.5L912.7 85.8L912.1 88.0L913.8 89.5L914.8 91.3L915.1 93.2L913.8 94.3L912.6 95.5L911.2 96.6L910.5 98.4L909.7 100.0L908.0 100.7L906.6 101.8L905.2 102.9L903.5 103.5L901.7 103.5L900.1 104.0L898.2 103.9L896.6 104.4L895.2 105.8L893.6 106.3L891.9 106.7L890.2 106.9L888.5 107.2L886.7 107.0L885.0 107.3L883.2 107.2L881.4 107.0L879.9 108.5L878.2 108.9L876.5 109.4L874.7 109.1L873.0 108.9L871.3 108.2L869.6 108.6L867.8 108.7L866.1 109.2L864.3 109.0L862.7 108.3L860.9 108.1L859.2 108.0L857.5 107.9L855.8 107.4L854.1 107.3L852.4 106.9L850.6 107.1L849.0 106.3L847.2 106.6L845.4 106.7L843.8 105.9L842.1 105.8L840.4 105.4L838.7 105.1L837.0 104.6L835.2 105.0L833.5 104.3L831.9 103.6L830.1 104.1L828.4 103.5L826.7 102.7L825.0 102.5L823.2 103.0L821.6 102.5L820.0 102.1L818.4 101.4L816.7 101.5L815.0 102.0L813.3 102.0L811.7 101.6L810.1 100.9L808.5 100.5L806.7 100.4L804.9 100.0L803.1 100.0L801.5 98.8L799.7 98.6L798.0 98.2L796.3 97.6L794.6 98.1L792.9 98.1L791.3 97.5L789.6 97.8L788.1 96.7L786.5 96.4L784.7 96.2L783.0 96.0L782.0 94.1L780.6 93.1L779.1 92.2L777.7 91.1L775.9 91.0L774.2 90.7L772.4 90.8L770.5 91.1L768.8 89.8L766.9 90.0L765.1 89.6L763.2 89.1L761.4 89.5L759.5 89.5L757.6 89.9L755.8 89.5"/>
<path d="M755.8 89.5L757.3 90.3L759.0 90.5L760.7 90.7L762.3 91.1L763.6 92.3L765.2 92.8L766.2 94.4L767.8 95.0L769.0 96.4L770.6 96.9L772.3 97.1L773.7 97.9L775.3 98.4L776.7 99.3L778.4 99.2L779.8 100.1L781.3 100.9L783.0 100.5L784.6 100.7L786.2 101.1L787.7 101.8L789.3 102.4L791.0 102.6L792.8 102.9L794.2 103.9L795.7 104.7L797.3 105.4L798.8 106.2L800.2 107.3L801.9 107.5L803.6 107.9L805.0 109.2L806.7 109.9L808.3 110.8L810.3 110.9L812.1 111.3L813.4 112.8L812.4 114.2L811.4 115.4L810.7 117.0L809.3 118.1L809.0 119.8L808.5 121.4L810.0 122.3L811.1 123.7L812.2 125.2L814.3 125.4L815.8 126.3L816.8 127.8L818.3 128.7L819.3 130.0L819.6 131.7L820.4 133.2L820.8 134.9L822.6 135.7L823.2 137.3L824.8 137.7L826.4 138.5L828.0 138.8L829.6 139.4L831.4 139.1L833.0 139.8L834.7 139.8L836.3 139.6L837.9 140.5L839.5 140.7L841.2 140.6L842.8 141.0L844.5 141.5L846.1 142.0L847.3 143.5L849.2 143.6L850.9 144.0L852.4 144.9L853.6 146.3L855.1 147.1L856.8 147.3L858.5 147.0L860.0 147.9L861.7 148.1L863.2 148.8L865.0 148.2L866.5 149.4L868.1 149.8L869.8 149.6L871.3 149.1L872.9 148.9L874.7 149.2L876.2 148.6L877.7 147.8L879.3 147.8L880.8 147.1L880.6 145.0L879.9 143.0L879.6 141.0L877.7 140.5L876.2 139.1L874.1 139.1L872.3 138.5L870.7 138.3L869.0 138.4L867.3 138.5L865.8 137.4L864.1 137.7L862.5 137.3L860.8 136.8L859.1 136.2L857.5 135.7L855.7 135.3L854.0 134.9L852.6 133.6L850.5 133.3L850.1 131.3L849.0 130.0L850.0 128.1L852.2 127.7L853.5 126.1L855.1 125.0L856.8 125.5L858.7 125.3L860.3 126.5L862.0 126.9L863.7 127.5L865.7 127.1L867.4 127.5L869.2 128.0L871.0 128.1L872.7 128.8L874.4 129.7L876.1 130.1L877.8 130.8L879.6 131.2L881.3 131.8L883.1 132.0L884.8 132.6L886.6 132.5L888.3 133.4L890.1 133.7L891.9 133.6L893.4 134.4L895.0 135.0L896.7 135.2L898.4 135.2L900.1 135.1L901.8 134.8L903.3 135.6L904.9 136.2L906.6 136.1L908.3 136.5L910.1 136.4L911.8 135.9L913.6 136.3L915.3 136.4L917.1 136.6L918.8 136.1L917.8 134.6L917.5 132.7L916.5 131.2L915.1 130.0L913.5 129.1L912.2 127.8L910.4 127.3L908.9 126.2L907.0 126.0L905.3 125.4L904.1 123.8L902.9 122.2L901.8 120.6L900.0 119.6L899.2 117.7L900.1 115.9L902.2 115.8L903.2 114.1L905.3 114.1L906.6 112.8L908.4 112.8L910.2 112.8L911.9 112.5L913.3 111.0L915.0 110.9L916.6 110.0L918.3 109.9L919.7 108.6L921.3 107.9L922.9 107.1L924.7 106.6L925.8 105.1L927.7 104.7L929.4 104.0L930.8 103.0L932.1 101.7L933.5 100.5L935.2 101.2L937.1 100.8L938.8 101.5L940.5 102.3L942.3 102.5L944.1 102.4L945.8 103.0L947.5 103.7L949.2 104.0L951.1 103.9L952.8 104.0L954.6 104.1L956.2 105.3L958.0 105.4L959.4 106.4L961.2 106.5L962.3 108.0L963.5 109.2L965.4 109.1L966.4 110.9L968.4 110.4L969.9 111.1L971.5 111.6L971.3 109.8L971.4 108.1L971.0 106.3L970.7 104.6L971.1 102.8L970.7 101.0L970.3 99.3L968.9 98.4L967.6 97.3L967.4 95.4L966.1 94.3L965.1 93.1L963.8 92.1L962.9 90.7L961.2 90.3L959.4 90.1L958.0 88.7L956.3 88.1L954.4 88.3L954.6 86.6L955.2 85.0L955.9 83.3L954.9 81.5L954.5 79.8L954.8 78.1L955.5 76.5L955.6 74.8L954.1 73.8L953.5 72.0L951.6 71.4L950.7 69.9L948.7 69.2L946.9 68.1L945.8 66.2"/>
<path d="M985.0 90.7L983.1 90.8L981.2 90.9L979.3 90.8L977.6 89.5L975.6 89.4L974.1 88.4L973.1 86.7L971.5 85.8L973.2 85.0L973.9 83.3L974.8 81.7L976.4 80.9L978.2 81.0L980.0 81.3L981.6 80.5L983.4 80.7L985.0 79.7"/>
<path d="M736.9 208.0L736.2 209.9L735.9 211.9L735.4 213.8L735.9 215.9L737.3 217.5L739.4 217.7L741.1 218.7L742.7 219.8L744.5 220.2L745.9 221.2L747.6 221.8L749.1 222.8L750.6 223.7L752.3 223.7L753.8 224.2L755.5 224.2L757.1 224.6L758.7 224.8L760.4 224.7L762.0 225.6L763.7 226.4L765.5 226.4L767.3 226.7L765.9 227.8L764.3 228.6L762.8 228.2L761.3 227.5L759.7 227.3L758.0 227.3L756.5 226.7L754.5 226.9L752.5 226.9L750.5 226.8L748.6 227.6L746.8 227.7L745.5 228.8L744.1 229.8L742.7 230.6L741.0 230.7L739.4 231.2L737.9 232.1L736.3 232.4L734.9 233.5L733.1 233.9L731.4 234.2L730.0 235.5"/>
<path d="M735.0 212.1L736.2 213.7L737.3 215.3L738.9 216.5L739.9 218.2L741.5 218.7L743.2 219.0L744.8 219.6L746.5 219.6L748.0 220.3L749.7 220.6L751.3 221.0L752.9 221.3L754.6 221.4L756.2 222.0L757.9 221.7L759.5 221.9L761.0 222.6L762.5 223.3L763.8 224.4L765.4 225.0L766.7 226.0L768.1 226.8L766.3 226.7L764.6 226.7L762.9 227.5L761.2 227.9L759.5 228.0L757.9 227.5L756.2 227.3L754.7 226.4L752.9 226.4L751.4 225.7L749.7 225.5L748.0 225.9L746.5 226.9L744.9 227.6L743.1 227.8L741.4 228.1L739.9 229.2L738.2 229.9L736.4 230.4L735.0 231.7"/>
<path d="M748.5 308.9L750.4 308.8L752.2 309.1L754.1 309.0L755.9 309.5L757.6 310.1L759.5 310.1L761.2 310.9L762.9 311.4L764.8 311.1L766.6 311.2L768.4 311.4L770.1 312.1L771.8 312.5L773.6 312.6L775.4 312.5L777.0 313.3L778.8 313.2L780.5 314.1L782.3 314.0L784.0 314.5L785.8 314.5L787.3 315.3L788.8 316.3L790.5 316.7L792.2 316.8L793.8 317.5"/>
<path d="M610.0 580.3L611.8 581.0L613.6 582.0L615.3 582.9L615.0 584.7L614.2 586.4L614.3 588.3L613.5 590.0L614.4 591.5L615.0 593.0L615.9 594.5L616.2 596.2L617.5 597.6L618.3 599.4L619.8 600.6L620.6 602.3L619.8 603.9L618.3 604.8L617.0 605.9L618.1 607.5L618.6 609.3L619.2 611.1L619.7 612.9L618.2 614.0L616.5 615.0L615.3 616.5L613.6 617.3L611.8 617.7L610.0 618.2"/>
<path d="M610.0 618.2L608.3 619.2L606.9 620.4L605.8 621.9L604.7 623.5L603.3 625.0L603.1 627.1L602.0 628.8L601.2 630.6L601.2 632.4L601.8 634.2L602.3 635.9L602.9 637.6L603.7 639.4L605.0 641.0L605.7 642.9L606.5 644.7"/>
<path d="M605.4 646.2L607.3 646.9L609.0 648.0L610.9 648.5L612.7 649.4L614.1 650.3L615.7 650.7L617.1 651.6L618.7 652.2L620.1 653.0"/>
<path d="M620.1 653.0L620.9 654.6L622.0 656.1L622.5 657.9L624.2 658.6L625.6 659.7L626.2 661.6L627.5 662.8L627.3 664.4L626.9 666.0L626.8 667.7L626.7 669.3L626.3 671.0L626.2 672.6L626.1 674.3L625.9 675.9L625.4 677.5L625.1 679.2L625.0 680.8L625.0 682.5L625.1 684.5L625.7 686.4L626.9 688.0L627.5 689.8L627.3 691.8L627.0 693.7L625.9 695.4L625.0 697.2L625.8 698.7L626.7 700.1L627.1 701.7L627.5 703.3L627.7 705.1L628.4 706.8L628.8 708.5L629.2 710.3L629.9 711.9L630.7 713.5L632.0 714.7L632.9 716.2L633.8 717.7L635.2 718.9L636.2 720.3L637.3 721.7L638.9 722.4L640.1 723.8L641.7 724.7L643.3 725.4L644.6 726.6L646.3 727.3L647.9 728.1L649.0 729.6L650.8 730.2L652.0 731.5L654.0 731.9L655.6 732.9L656.9 734.4"/>
<path d="M607.8 622.4L609.2 621.4L610.7 620.8L612.4 620.5L613.9 619.8L615.2 618.7L616.4 619.9L617.6 621.2L619.1 622.1L620.6 623.1L621.6 624.6L622.5 626.1L624.4 626.5L626.1 627.1L627.5 628.5L629.3 629.0L630.8 630.0L632.4 631.0L634.2 631.8L636.1 632.2L637.9 632.8L639.7 633.4L639.0 635.1L638.3 636.8L636.9 638.0L636.0 639.6L634.3 640.0L632.7 640.5L631.0 640.7L629.3 641.0L627.5 640.8"/>
<path d="M620.1 653.0L620.6 651.4L621.1 649.9L621.6 648.3L622.5 646.9L623.9 645.5L625.3 644.1L626.5 642.5L627.5 640.8L629.1 642.1L630.7 643.3L632.4 644.5L634.0 643.6L634.9 642.1L636.0 640.8L637.3 639.6"/>
<path d="M639.7 633.4L641.1 634.2L642.6 635.0L643.7 636.1L645.0 637.1L646.2 638.2L647.1 639.6L649.0 639.2L650.8 639.8L652.6 640.4L654.4 640.8L655.0 642.6L655.5 644.5L656.4 646.2L656.9 648.1L655.8 649.5L654.8 650.9L653.6 652.2L652.0 653.0L651.3 655.0L650.0 656.5L648.7 657.9L647.1 659.2L645.6 658.2L644.2 657.1L642.7 656.0L640.9 655.5L640.1 653.9L639.1 652.4L638.0 651.0L637.3 649.4L637.6 647.8L638.0 646.1L637.7 644.5L637.7 642.9L637.4 641.2L637.3 639.6"/>
<path d="M647.1 659.2L648.4 658.0L650.1 657.3L651.6 656.5L653.1 655.5L654.4 654.3L656.2 654.0L658.0 654.0L659.7 653.4L661.5 653.4L663.2 652.6L665.0 652.4L666.7 651.8L668.4 651.5L669.9 650.7L671.5 650.3L673.2 650.2L674.8 649.5L676.5 649.4L678.1 649.1L679.8 648.8L681.4 649.0L683.0 649.2L684.7 648.9L686.3 649.4"/>
<path d="M647.1 659.2L647.0 661.0L646.8 662.9L646.6 664.7L646.4 666.6L646.1 668.4L645.8 670.2L646.6 671.7L646.6 673.5L647.0 675.1L647.2 676.8L647.9 678.4L648.3 680.0L649.9 681.4L650.7 683.3L652.0 684.9"/>
<path d="M402.1 796.1L403.6 795.5L404.7 794.2L406.2 793.6L407.5 792.6L409.0 792.0L410.6 790.9L412.3 790.0L413.9 788.9L415.9 788.7L417.6 787.9L419.3 787.5L421.1 787.6L422.7 786.9L424.5 786.8L426.0 785.7L427.7 785.2L429.4 785.0L431.0 785.7L432.7 785.7L434.5 785.7L436.0 786.5L437.0 788.1L438.2 789.4L438.6 791.0L439.6 792.4L440.0 794.0L441.4 795.7L442.2 797.6L442.6 799.7L444.3 798.9L446.0 798.0L447.9 797.2L450.0 796.8L451.5 795.4L453.2 794.1L455.0 793.0L457.0 792.9L458.8 793.8L458.7 795.6L458.0 797.2L458.0 799.0L457.1 800.6L456.7 802.4L455.9 804.1L454.8 805.3L453.6 806.5L452.6 807.9L451.0 808.7L450.0 810.0L449.1 811.4L448.3 812.8L448.1 814.6L447.1 815.9L447.6 817.9L448.3 819.9L448.0 822.0L448.8 823.8L449.8 825.6L450.0 827.6L451.3 828.7L452.6 829.7L453.6 831.0L455.0 832.0L456.2 833.6L457.3 835.2L458.8 836.5L458.8 838.2L459.5 839.7L460.5 841.0L460.8 843.3L461.8 845.3L461.2 847.3L460.5 849.2L459.5 851.0L458.4 852.4L457.3 853.8L456.6 855.5L455.9 857.1L454.8 858.4L453.3 859.4L452.4 861.0L451.0 862.0L449.8 863.4L448.5 864.7L447.1 865.9L445.5 866.6L444.2 867.7L443.0 869.0L441.9 870.4L440.6 871.7L439.7 873.2L439.1 874.8L439.3 876.4L439.5 878.0L440.3 879.8L440.9 881.6L441.2 883.5L442.3 885.0L443.9 886.0L445.0 887.5L446.7 888.2L448.3 888.9L450.0 889.4L452.2 888.5L454.0 887.0L455.3 885.7L456.0 884.0L456.9 886.0L458.0 888.0L458.6 890.2L458.8 892.4L459.7 893.9L460.6 895.3L461.0 897.0L462.6 898.1L463.7 899.6L464.7 901.2L466.2 901.8L467.6 902.7L469.0 903.7L470.6 904.1L472.6 904.5L474.5 904.5L476.5 904.1L478.2 905.3L480.2 905.9L482.0 907.0L483.5 908.2L485.3 909.0L486.8 910.2L488.2 911.5L490.1 911.5L491.8 912.4L493.5 912.8L495.3 913.4L497.0 913.9L498.8 914.0L500.6 913.8L502.3 913.2L504.0 912.3L505.8 911.7L507.6 911.4L509.4 910.9L511.1 911.8L512.8 912.5L514.5 913.2L516.2 913.9L518.2 913.8L519.7 915.0L521.4 915.5L523.0 916.3L524.9 916.4L526.6 917.0L528.2 917.9L530.0 918.2L531.5 918.9L533.0 919.6L534.5 920.2L536.0 921.0L537.4 921.7L538.8 922.6L540.6 922.7L542.2 923.3L544.0 923.5L545.6 924.2L547.2 924.8L549.0 924.9L550.6 925.6L551.8 927.0L552.2 928.9L552.9 930.5L554.0 932.0"/>
<path d="M470.6 904.1L470.9 905.7L471.5 907.3L471.4 909.0L471.1 910.7L471.1 912.3L471.3 913.9L471.7 915.5L472.0 917.2L472.1 918.8L472.7 920.4L472.7 922.1L473.1 923.7L473.2 925.4L473.1 927.1L473.0 928.8L473.7 930.3L473.8 932.0"/>
<path d="M605.2 66.0L605.2 68.9L606.5 70.3L608.1 71.3L609.4 72.7L610.7 74.0L612.5 74.8L612.9 76.6L613.2 78.3L614.0 80.0L614.8 81.6L615.0 83.4L616.6 84.1L617.9 85.4L619.6 86.1L620.9 87.3L622.4 88.3L623.7 89.7L625.1 91.1L626.3 92.7L627.3 94.4L626.8 96.0L626.0 97.4L624.9 98.7L623.9 100.1L623.6 101.8L624.8 103.0L625.7 104.6L627.0 105.7L628.1 107.1L629.7 107.9L630.5 109.6L631.9 110.6L633.4 111.6L634.6 112.8"/>
<path d="M427.0 243.4L425.5 242.8L423.9 242.5L422.4 242.0L421.6 240.2L419.7 240.2L419.1 238.5L417.6 238.0L416.7 236.6L415.9 235.3L416.1 233.7L415.8 232.3L416.4 230.6L415.5 229.3L414.7 228.0L414.0 229.2L413.3 230.3L413.4 231.9L411.8 232.6L411.8 234.1L412.1 235.8L412.8 237.3L413.0 239.0L411.8 239.8L411.4 241.5L409.9 242.0L408.4 242.5L407.9 244.0L406.9 245.1L405.4 244.5L404.0 244.9L402.6 244.7L401.2 245.4L399.9 246.0L398.6 246.6L397.1 246.4L396.6 248.0L395.7 249.1L393.6 248.6L392.6 249.4L391.6 250.4L390.0 250.5L389.0 251.5L387.8 252.1L387.3 253.7L385.9 254.0L385.0 255.2L383.3 254.9L382.6 256.5L381.0 256.4L379.7 257.0L378.3 257.1L377.5 258.6L375.5 258.2L374.3 259.2L374.0 261.3L373.2 262.9L371.7 263.2L370.1 263.5L368.8 263.9L368.0 265.4L366.7 265.9L365.7 267.1L364.4 267.4L362.7 267.2L361.2 268.4L359.8 268.3L358.5 267.6L357.0 267.8L355.7 266.6L354.2 267.3L352.9 266.5L351.3 266.9L350.0 266.6L348.9 265.8L348.1 264.4L346.7 264.2L345.6 263.5L344.6 262.7L343.9 261.3L342.1 261.7L341.5 260.3L340.3 259.7L339.3 258.8L338.1 258.2L336.8 258.0L335.2 258.1L334.0 257.5L333.3 256.2L331.4 256.4L330.0 255.8L328.8 255.1L327.6 254.2L326.9 252.6L326.0 251.3L325.8 249.6L325.9 247.8L324.8 246.4L324.6 244.6L322.7 244.6L322.3 243.0L320.6 242.7L319.9 241.5L318.6 240.2L318.3 238.7L318.7 237.1L317.7 235.8L318.6 234.1L317.3 232.9L317.0 231.5L317.8 229.9L317.1 228.5L316.6 227.2L316.2 225.8L316.2 224.3L314.8 223.4L315.2 221.8L315.3 220.2L314.7 218.9L313.5 218.0L312.6 216.9L311.7 215.8L311.3 214.5L310.9 213.2L310.8 211.9L309.7 210.9L310.1 209.3L309.8 208.1L308.4 207.2L308.5 205.8L307.6 204.7L308.6 203.7L308.4 202.2L308.5 200.8L309.7 199.9L309.2 198.3L309.8 197.1L311.3 196.3L311.3 194.9L311.0 193.5L310.8 192.0L311.5 190.5L311.7 189.0L311.4 187.6L310.0 186.3L311.5 185.9L313.0 185.3L313.2 183.5L314.6 183.0L315.0 181.4L316.5 181.3L318.0 181.1L319.4 180.7L320.6 179.6L322.2 179.6L323.5 179.0L324.9 178.6L326.5 178.9L327.7 178.1L328.6 177.0L329.6 175.9L331.2 176.1L332.1 174.8L333.3 174.1L334.7 173.8L336.0 173.5L337.6 173.5L338.2 171.7L339.6 171.4L340.4 170.0L341.9 169.8L343.1 169.2L344.4 168.8L345.9 168.6L347.3 168.4L348.0 166.8L349.6 166.9L350.5 165.6L351.6 164.8L352.9 164.3L353.8 163.0L355.1 162.5L355.9 161.0L357.2 160.5L358.9 160.6L360.4 160.4L361.5 159.4L362.3 158.2L363.9 157.8L364.8 156.7L365.4 155.2L367.0 154.9L368.4 154.3L369.2 153.1L370.1 152.0L371.5 152.5L372.8 153.1L374.2 153.6L375.5 154.3L376.8 154.8L378.5 154.1L379.9 154.5L380.8 153.3L381.8 152.2L383.1 152.0L384.6 152.2L386.3 152.9L387.3 151.9L388.4 151.1L389.7 150.8L390.8 150.0L392.5 150.0L393.4 148.9L394.0 147.5L395.5 147.1L397.1 147.0L398.2 146.2L398.6 144.5L399.5 143.4L400.6 142.4L401.8 141.6L402.7 140.3L403.7 139.2L405.2 138.9L407.0 139.1L408.3 138.4L409.3 137.3L409.4 135.8L410.4 134.3L409.2 132.9L408.7 131.4L409.3 129.9L410.8 129.4L412.1 130.0L413.4 131.1L414.9 130.8L416.2 131.6L417.6 132.1L419.1 131.2L420.6 130.9L422.2 130.7L423.6 130.2L424.4 128.8L425.1 127.1L425.9 125.6L427.2 125.0L428.9 125.0L429.5 123.5L430.0 121.9L431.2 121.0L432.7 120.4L433.7 119.3L435.3 118.8L436.3 117.7L436.1 116.2L435.7 114.8L435.4 113.3L435.0 111.9L434.2 110.5L433.8 109.1L434.6 107.9L435.9 107.3L436.4 105.8L437.2 104.5L438.5 104.0L439.6 103.2L441.3 103.3L442.2 102.1L443.6 101.8L444.3 100.6L445.6 100.2L446.5 99.1L447.9 98.8L448.2 97.1L448.8 95.9L449.8 95.0L450.9 94.3L452.3 93.9L453.4 93.2L454.0 91.9L455.1 91.2L456.5 90.8L457.6 90.1L458.9 89.6L459.0 87.7L460.4 87.3L461.6 86.7L462.7 86.0L463.2 84.6L464.2 83.6L464.7 82.1L466.4 82.0L467.6 81.4L468.1 79.8L469.8 79.7L470.6 78.5L472.1 78.5L473.3 77.9L474.7 77.5L475.8 76.7L476.7 75.5L477.9 74.8L478.8 73.5L480.0 72.8L481.5 72.8L482.5 71.6L483.6 70.8L485.3 71.1L486.6 69.8L488.0 69.9L489.6 71.2L491.0 71.2L492.2 69.6L493.6 69.6L495.1 69.9L496.7 69.8L498.3 68.7L500.0 69.4L501.4 68.7L502.2 67.3L503.5 66.5L505.0 66.0"/>
<path d="M41.9 656.9L43.5 657.5L45.2 657.4L46.8 657.6L48.3 656.9L49.9 656.5L51.5 655.9L52.7 654.8L54.1 653.9L55.3 655.5L56.2 657.2L57.5 658.7L59.0 660.0L60.7 660.0L62.2 659.3L63.9 659.5L65.6 659.4L67.2 659.0L68.8 658.8L70.5 658.4L72.3 657.8L74.0 657.6L75.8 657.4L77.5 657.5L79.3 657.7L81.1 657.6L82.7 658.0L84.4 657.8L86.0 658.5L87.6 658.5L89.2 658.8L90.9 658.8L91.8 660.4L92.5 662.0L93.8 663.2L94.7 664.8L95.8 666.2L95.3 667.8L94.4 669.1L93.7 670.6L92.8 672.0L92.1 673.5L91.3 674.9L90.5 676.4L89.5 677.7L88.6 679.1L88.4 680.9L87.1 682.0L86.1 683.5L84.5 684.4L83.5 685.8L82.8 687.6L82.0 689.3L81.6 691.3L81.1 693.1L80.7 694.8L80.1 696.5L80.5 698.3L80.0 700.0L80.6 701.6L80.8 703.3L81.0 705.0L81.0 706.7L81.5 708.4L82.0 710.0L81.4 711.7L80.8 713.4L79.9 715.0L79.6 716.8L78.7 718.3L78.0 720.0L78.9 721.4L80.0 722.7L80.6 724.3L81.8 725.5L82.2 727.2L82.8 728.8L84.0 730.0L83.0 731.7L82.3 733.6L82.0 735.5L81.1 737.3L79.9 738.6L78.8 739.9L77.4 741.0L76.2 742.2L75.4 743.7L74.7 745.4L73.3 746.6L72.2 748.0L71.3 749.5L72.0 751.0L72.4 752.7L73.0 754.2L74.3 755.4L75.0 756.9L75.9 759.0L76.2 761.3L75.9 763.0L75.4 764.7L74.8 766.3L74.6 768.1L74.8 769.9L74.2 771.5L74.2 773.3L74.0 775.0L74.0 776.7L74.1 778.4L73.5 780.0L73.2 781.7L72.7 783.3L72.4 785.0L72.6 786.7L72.0 788.3L72.0 790.0"/>
<path d="M190.1 619.3L191.5 620.3L192.6 621.7L193.7 623.1L195.2 624.0L196.3 625.4L197.9 626.3L199.6 627.1L201.0 628.2L202.6 629.1L204.4 629.6L206.1 630.3L207.8 631.0L209.5 631.6L211.3 632.0L213.0 632.6L214.7 633.2L216.6 633.4L218.3 634.0L220.1 634.2L221.8 634.6L223.6 634.9L225.3 635.5L227.1 635.5L228.9 635.8L230.6 636.4L232.2 635.8L233.7 635.1L235.5 635.1L237.1 634.5L238.6 633.9L240.4 634.0L242.1 634.1L243.7 634.3L245.3 634.7L247.0 634.7L248.6 635.2L250.2 635.5L251.9 635.5L253.5 636.1L255.1 636.4L256.8 636.4L258.4 637.1L260.0 637.6L261.7 637.5L263.3 637.4L265.0 637.0L266.7 637.4L268.4 637.6L270.0 637.0L271.7 637.2L273.4 637.2L275.0 636.6L276.7 636.8L278.3 636.3L280.0 636.0L281.8 635.7L283.4 635.0L285.2 634.6L286.9 634.0"/>
<path d="M366.4 554.3L364.6 555.3L362.8 556.3L360.9 557.1L361.8 559.2L362.9 561.2L364.3 562.6L365.6 564.0L367.1 565.3L368.4 568.0L367.1 569.4L365.5 570.6L364.3 572.2L362.7 572.7L361.0 573.1L359.6 574.1L358.1 574.9L359.0 576.8L360.0 578.6L360.9 580.4L362.2 581.6L363.7 582.4L365.2 583.3L366.4 584.5L365.9 586.1L365.1 587.6L364.4 589.0L362.9 590.0L364.0 591.7L364.5 593.5L364.3 595.5L365.8 596.2L367.3 596.8L368.4 598.0L369.8 598.9L371.7 599.0L373.5 599.5L375.3 600.3L376.8 599.5L378.5 599.9L380.1 599.6L380.1 601.7L379.4 603.7L378.5 605.1L377.5 606.4L376.7 607.8L377.4 609.2"/>
<path d="M272.7 425.1L274.3 427.1L274.7 429.8L276.1 430.8L277.1 432.2L279.4 434.1L281.0 434.5L282.5 435.3L284.1 436.2L285.5 437.3L287.0 438.2L288.7 438.8L290.0 440.0L291.6 440.9L293.0 442.0L293.9 443.6L295.1 444.9L296.1 446.4L297.5 447.5L298.6 448.9L300.0 450.0L301.6 450.9L303.3 451.2L304.9 452.0L306.6 452.4L308.3 453.0L309.8 453.8L311.7 453.7L313.4 454.1L315.0 455.0L316.4 456.1L318.0 456.8L319.1 458.2L320.5 459.3L322.1 460.0L323.4 461.3L325.0 462.0L327.0 462.5L328.9 461.6L330.9 461.8L332.9 461.4"/>
<path d="M338.8 427.1L339.9 428.4L340.2 430.1L340.8 431.6L341.8 432.9L343.2 433.9L344.6 435.1L346.0 436.0L347.6 436.9L347.6 438.9L347.7 440.9L348.6 442.7L347.3 443.8L346.1 445.1L345.1 446.5L343.7 447.6L344.9 449.1L345.5 450.9L345.8 452.8L346.7 454.5L348.0 455.7L349.3 456.8L350.2 458.4L351.6 459.4L350.2 460.4L349.5 461.9L348.6 463.3L346.7 464.3L344.7 464.8L342.7 465.3L340.9 464.7L339.4 463.4L337.8 462.4L336.2 461.8L334.6 461.6L332.9 461.4"/>
<path d="M337.8 462.4L337.7 460.5L338.1 458.7L338.2 456.8L338.5 455.0L337.9 453.3L337.1 451.6L336.5 449.9L336.5 448.0L337.5 446.2L338.8 444.7L340.0 443.0L341.5 444.3L342.9 445.7L343.7 447.6"/>
<path d="M348.6 463.3L349.7 464.6L351.2 465.3L352.3 466.7L353.5 467.8L355.2 468.4L357.0 468.4L358.6 469.0L360.4 469.2L362.0 470.0L363.6 470.5L365.3 470.9L367.1 470.7L368.7 471.4L370.3 471.6L372.0 472.0L373.1 473.4L373.9 475.1L374.6 476.7L375.0 478.5L376.0 480.0L375.6 481.8L375.2 483.6L374.3 485.1L373.6 486.8L373.4 488.7L372.7 490.3L372.0 492.0L371.6 493.7L371.3 495.5L370.6 497.1L370.5 498.9L369.7 500.5L369.3 502.3L369.0 504.0L369.5 505.6L369.5 507.2L369.2 508.8L369.7 510.4L370.0 512.0"/>
<path d="M348.0 362.0L347.7 363.6L347.2 365.2L347.7 366.9L347.7 368.5L347.1 370.1L346.9 371.7L347.0 373.4L347.0 375.0L346.9 376.7L347.2 378.4L348.1 380.0L348.8 381.6L348.9 383.3L348.8 385.0L349.0 386.7L349.5 388.4L350.0 390.0L348.8 391.5L347.8 393.1L347.3 394.9L346.9 396.8L346.2 398.5L345.0 400.0L346.0 401.6L347.0 403.2L347.3 405.1L348.5 406.6L349.1 408.3L350.0 410.0L349.2 411.6L348.5 413.2L347.5 414.6L346.4 416.0L345.2 417.3L344.3 418.8L343.0 420.0L342.0 421.3L341.3 422.8L340.4 424.2L339.6 425.7L338.8 427.1"/>
<path d="M290.0 416.0L291.7 416.1L293.3 416.8L294.9 417.3L296.6 417.5L298.3 418.0L300.0 418.0L301.9 417.9L303.6 417.2L305.3 416.7L306.9 415.7L308.7 415.4L310.4 414.8L312.0 414.0L313.7 414.7L315.2 415.7L317.0 416.1L318.7 416.7L320.3 417.4L322.0 418.0L323.7 417.7L325.4 417.4L327.0 416.8L328.6 416.5L330.4 416.5L332.0 416.0L332.9 417.4L334.2 418.4L335.7 419.2L336.8 420.4L338.0 421.4L339.0 422.7L340.0 424.0"/>
<path d="M380.0 335.9L381.6 336.2L383.2 336.2L384.8 336.2L386.4 336.7L388.0 337.0L389.8 337.0L391.6 337.1L393.3 337.3L395.0 338.0L396.8 337.8L398.2 338.8L399.9 338.8L401.5 339.3L403.0 340.0L404.8 340.2L406.6 340.8L408.2 341.8L410.0 342.1"/>
<path d="M498.5 359.5L498.5 361.3L498.5 363.0L497.9 364.7L498.1 366.5L498.3 368.3L498.0 370.0L497.4 371.6L497.0 373.3L496.5 374.9L496.7 376.7L496.1 378.3L496.0 380.0L496.4 381.6L497.6 382.9L498.3 384.4L498.9 385.9L500.0 387.2L501.3 388.6L502.6 390.0L504.1 391.3L504.8 393.2L506.1 394.6L505.6 396.2L505.6 398.0L505.7 399.7L504.9 401.3L504.4 402.9L504.0 404.6L504.1 406.4L503.7 408.0L504.6 409.5L505.9 410.7L506.9 412.1L507.8 413.6L509.2 414.8L509.9 416.5L511.0 417.8L511.8 419.6L512.7 421.4L512.8 423.4L513.5 425.2L512.3 426.4L511.0 427.7L509.8 428.9"/>
<path d="M459.7 444.8L461.2 444.2L462.9 443.9L464.4 443.2L466.0 442.8L467.3 441.6L469.1 441.1L470.6 440.0L472.4 439.4L474.1 438.9L475.9 438.3L477.6 437.6L479.5 437.4L481.0 436.3L482.9 436.0L484.5 435.1L486.2 434.3L487.8 433.5L489.5 432.6L491.3 432.4L493.1 431.9L494.7 430.7L496.5 430.5L498.3 429.8L500.0 429.1L501.8 428.6L502.8 426.5L504.3 427.2L505.7 428.0L507.5 428.2L508.9 429.1L510.4 429.7L512.0 429.4L513.5 428.6L514.7 427.5L516.3 428.4L518.2 428.2L519.9 428.5L521.6 429.3L523.3 429.7L525.2 430.0L526.9 430.7L528.6 431.5L530.2 432.5L532.0 432.9L533.5 433.5L535.1 433.7L536.7 434.1L538.1 435.0L539.6 435.6L541.2 435.8L542.8 436.2L544.5 437.0L546.1 438.0L547.8 438.6L549.2 440.0L551.0 440.5L552.5 441.6L554.3 442.3L556.1 443.2L558.1 443.2L560.0 443.7L561.7 444.3L563.5 444.3L565.1 445.1L566.9 445.5L568.6 445.9L570.1 446.9L571.4 448.2L572.8 449.3L574.1 450.6L575.8 451.4L577.3 452.4L578.7 453.4L580.3 454.1L582.1 454.4L583.7 454.9L585.2 455.7L586.6 456.8L588.1 457.7L589.0 459.3L589.9 460.9L591.3 462.1"/>
<path d="M591.3 462.1L589.5 462.9L588.1 464.3L586.3 465.2L584.8 466.4L583.3 467.3L581.8 468.2L580.6 469.4L579.4 470.7L578.0 472.3L576.7 474.0L576.2 476.1L574.5 476.5L573.0 477.4L571.3 477.6L569.7 478.2L567.7 478.3L566.0 479.3L564.2 480.3L562.2 480.4L561.0 481.8L560.3 483.5L558.9 484.7"/>
<path d="M558.9 484.7L557.3 484.2L556.0 483.3L554.5 482.5L553.0 482.0L551.4 481.5L549.7 481.2L548.0 480.6L546.3 480.3L544.5 480.7L542.8 480.4L541.0 479.9L539.2 479.6L537.4 479.3L535.7 478.6L533.8 478.4L532.0 478.2L530.3 477.5L528.6 477.2L526.9 476.6L525.0 476.9L523.3 476.5L521.5 476.7L519.7 477.0L517.9 477.2L516.8 478.6L516.1 480.4L515.0 481.9L513.6 483.1L512.6 484.7L511.0 483.9L509.2 483.6L507.5 483.1L505.8 482.5L503.9 482.6L502.3 481.9L500.9 480.9L499.6 479.6L497.9 479.1L496.4 478.2L494.9 477.0L493.0 476.3L491.4 475.2L489.9 473.9"/>
<path d="M489.9 473.9L488.4 472.7L487.2 471.2L485.6 470.1L484.5 468.5L483.1 467.3L481.9 465.9L480.3 465.0L478.9 463.7L478.0 462.1L476.8 461.0L475.5 459.9L474.0 459.1L473.1 457.6L471.6 456.7L470.4 455.4L469.4 454.0L468.3 452.7L467.3 451.3L465.9 450.1L464.4 449.1L462.9 448.0L461.2 446.5L459.7 444.8"/>
<path d="M558.9 484.7L559.8 486.3L560.7 488.0L561.0 489.8L561.9 491.4L562.2 493.3L562.9 495.1L563.1 497.1L563.6 498.9L563.2 500.9"/>
<path d="M563.2 500.9L565.1 500.8L566.9 501.4L568.6 502.0L570.2 502.9L571.9 503.4L573.5 504.3L575.1 505.2L576.9 505.1L578.6 505.2L580.3 505.4L582.0 505.6L583.7 506.3L585.3 506.0L586.9 505.8L588.6 505.9L590.2 505.9L591.8 505.8L593.5 505.9L595.1 505.8L596.7 505.2L598.3 504.8L600.0 504.5L601.5 503.9L603.1 503.4L604.8 503.3L606.4 503.1L608.0 502.6L609.6 502.0L611.2 501.3L612.7 500.5L614.5 500.5L616.0 499.6L617.7 499.2L619.4 499.0L620.9 498.1L622.6 497.7L623.7 496.2L625.3 495.2L626.3 493.7L627.9 492.7L629.0 491.2L630.7 490.4L632.4 489.6L634.1 488.9L636.0 488.6L637.7 487.9L639.4 488.2L641.1 488.4L642.8 488.7L644.5 489.0L646.3 489.0L647.8 490.2L649.6 490.7L651.4 491.1L653.3 491.4L654.9 492.3L656.7 491.7L658.6 491.5L660.3 490.8L662.0 490.0L663.8 489.8L665.3 488.8L666.9 488.2L668.6 487.9L670.3 487.2L672.0 487.0"/>
<path d="M563.2 500.9L561.6 502.2L560.3 503.7L558.9 505.2L557.4 506.2L555.6 506.6L554.0 507.4L552.5 508.4L553.1 510.0L553.2 511.6L553.6 513.2L553.5 514.9L551.9 516.5L550.3 518.1L550.7 520.1L551.2 521.9L552.5 523.5L551.3 524.9L551.4 526.8"/>
<path d="M551.4 526.8L552.3 528.3L552.9 530.1L554.0 531.5L555.0 533.0L556.1 534.5L557.3 535.9L558.5 537.4L559.6 538.9L560.0 540.8L561.4 542.0L562.4 543.6L564.0 544.6L565.4 545.8L566.5 547.3L568.0 548.6L569.5 549.8L571.1 550.9L573.0 551.6L574.4 552.8L576.2 552.7L577.8 553.5L579.6 553.7L581.4 553.7L583.1 554.4L584.8 554.7L586.6 555.1L588.3 555.6L590.0 556.0L591.7 556.2L593.3 555.8L595.0 556.3L596.7 556.3L598.3 555.9L600.0 556.0L602.0 555.0L604.0 554.0"/>
<path d="M591.3 462.1L593.0 462.7L594.9 463.0L596.7 463.5L598.3 464.5L600.0 465.3L601.6 464.8L603.2 464.3L604.6 463.4L605.9 462.4L607.5 463.5L609.1 464.5L610.7 465.6L611.8 467.3L613.5 467.9L615.0 468.7L616.2 470.1L617.6 471.2L619.1 470.2L620.8 469.7L622.4 469.0L624.1 468.4L625.5 467.3L627.5 467.3L629.4 466.9L631.3 466.4L633.3 466.3L635.3 465.9L637.3 466.0L639.2 465.4L641.2 465.3L642.9 465.2L644.6 465.4L646.1 466.4L647.7 467.0L649.3 467.2L651.0 467.3L652.6 467.7L654.2 468.0L655.9 467.8L657.5 468.2L659.3 468.1L661.0 467.4L662.7 467.0L664.6 467.1L666.2 466.2L668.0 466.0"/>
<path d="M489.9 473.9L489.3 475.6L488.4 477.2L487.5 478.8L486.7 480.4L484.9 481.2L483.6 482.7L481.8 483.6L480.2 484.7L478.7 486.1L477.5 487.7L475.9 489.0L475.1 490.5L473.9 491.8L472.8 493.0L471.6 494.2L470.0 495.0L468.4 496.2L466.7 496.7L464.8 496.8L463.0 497.0L461.5 497.9L459.8 497.8L458.3 498.5L456.7 498.5L455.0 498.7L453.6 499.6L452.0 500.0L450.2 500.2L448.6 501.1L446.8 501.2L445.2 502.0L443.6 502.7L441.8 502.8L440.0 503.0L438.3 502.7L436.5 502.6L434.9 501.8L433.3 500.9L431.6 500.8L430.0 500.0L428.6 501.3L426.8 501.9L425.0 502.5L423.4 503.4L421.6 504.1L420.0 505.0"/>
<path d="M430.0 527.0L431.6 526.6L433.3 526.4L435.0 525.9L436.7 525.9L438.3 525.4L440.1 525.3L441.7 524.9L443.4 524.7L445.0 524.0L446.6 524.5L448.2 524.6L449.9 524.6L451.5 524.4L453.1 524.2L454.8 524.2L456.4 524.5L458.0 524.9L459.6 524.9L461.3 524.9L462.9 524.6L464.2 525.9L465.9 526.7L467.3 527.9L468.8 529.3L469.9 531.0L471.6 532.2L473.2 532.8L474.7 533.7L476.3 534.2L478.0 534.3L479.8 535.4L481.7 535.6L483.6 536.4L485.6 536.5L487.1 537.5L488.4 538.9L489.9 540.0L491.5 541.0L493.1 541.9L494.8 542.2L496.6 542.0L498.4 542.3L500.1 542.6L501.8 543.0L503.7 542.9L505.4 542.0L507.2 542.0L509.1 541.8L510.8 541.1L512.6 540.8L514.1 539.9L515.6 539.3L517.2 538.7L518.7 538.0L520.3 537.4L522.0 537.0L523.6 536.5L525.4 536.5L527.0 535.9L528.6 535.4L530.4 535.5L532.0 535.0L533.6 534.1L535.2 533.4L536.8 532.6L538.6 532.1L540.2 531.3L542.0 531.0L543.6 530.4L545.1 529.5L546.7 528.8L548.1 527.8L549.8 527.5L551.4 526.8"/>
<path d="M496.4 543.0L497.1 544.5L497.1 546.3L497.8 547.9L498.5 549.4L498.0 551.0L497.1 552.5L496.8 554.2L496.4 555.9L498.0 557.5L499.0 559.5"/>
<path d="M498.0 565.5L499.7 565.3L501.4 565.3L503.0 566.0L504.4 564.7L506.2 564.2L508.0 564.0L509.5 563.0L511.3 563.3L513.0 563.0L514.7 563.8L516.4 564.3L518.1 565.0L520.0 565.0L521.7 564.7L523.2 564.0L524.2 562.6L525.5 561.7L527.0 561.0L528.3 559.8L530.0 559.5L531.5 558.8L533.0 558.0L534.4 557.0L536.0 556.2L537.3 555.0L538.5 553.8L539.9 552.7L540.9 551.2L542.0 549.9L543.7 549.2L545.0 548.0L546.4 546.8L547.5 545.3L548.5 543.7L549.4 542.1L551.0 541.0L551.2 539.1L552.1 537.5L553.2 536.1L554.1 534.5L555.0 533.0"/>
<path d="M642.2 559.9L643.1 558.3L644.0 556.7L645.1 555.3L646.5 554.1L647.5 552.6L648.7 551.2L650.0 550.0L651.0 548.6L652.3 547.4L653.6 546.2L654.5 544.7L655.7 543.4L656.8 542.1L658.2 541.0L659.2 539.6L660.0 538.0L661.2 536.8L662.2 535.4L662.6 533.6L663.5 532.2L664.7 531.0L665.6 529.5L666.6 528.1L667.1 526.5L668.0 525.0L669.1 523.8L670.1 522.5L670.9 521.0L671.6 519.5L673.1 518.6L673.8 517.1L675.0 515.9L675.9 514.5L677.2 513.4L678.0 512.0L679.5 511.3L681.0 510.4L682.4 509.5L683.8 508.6L684.7 507.0L685.8 505.8L687.1 504.6L688.5 503.7L690.0 503.0L691.0 501.6L691.9 500.3L693.1 499.1L694.2 497.8L695.4 496.7L696.2 495.3L697.7 494.4L699.1 493.4L700.0 492.0"/>
<path d="M687.5 601.6L688.7 603.4L690.5 604.6L692.0 606.0L693.6 606.9L695.3 607.3L696.9 608.2L698.5 609.1L700.0 610.0L701.8 609.9L703.5 610.2L705.1 611.1L706.8 611.7L708.5 611.9L710.2 612.1L712.0 612.0L713.6 612.4L715.3 612.1L716.9 612.0L718.5 612.7L720.1 612.5L721.8 612.4L723.4 612.7L725.0 613.0L726.7 612.7L728.4 612.8L730.0 612.5L731.6 611.9L733.3 611.4L735.0 611.3L736.6 611.3L738.3 610.9L740.0 611.0L741.6 610.4L743.3 609.8L745.0 609.4L746.8 609.0L748.4 608.5L750.1 608.0L751.8 607.5L753.4 606.9L755.0 606.0L756.7 605.8L758.2 605.4L759.6 604.5L761.2 604.1L762.7 603.6L764.0 602.3L765.6 602.1L767.0 601.3L768.4 600.5L770.0 600.0L771.7 599.7L773.4 599.5L775.1 599.4L776.7 598.7L778.3 598.2L779.9 597.7L781.7 597.7L783.4 597.6L785.0 597.0L786.5 597.9L788.3 598.2L790.0 598.5L791.7 599.0L793.3 599.5L795.0 600.0L796.8 600.2L798.4 601.0L800.2 601.2L801.8 601.9L803.5 602.4L805.3 602.7L807.0 603.0"/>
<path d="M619.0 297.0L620.5 296.5L622.0 295.8L623.5 295.1L625.1 294.6L626.8 294.7L628.4 294.4L630.0 294.0L631.7 294.3L633.3 295.2L635.0 295.2L636.6 295.9L638.2 296.6L639.9 297.1L641.6 297.5L643.2 297.9L645.0 298.0L646.6 298.9L648.1 299.8L649.8 300.3L651.5 300.7L653.2 301.2L655.0 301.2L656.8 301.5L658.4 302.3L660.0 303.0L661.6 302.6L663.3 302.6L665.1 302.8L666.7 302.4L668.3 301.8L670.0 301.9L671.7 301.9L673.4 301.7L675.0 301.0L676.6 301.8L678.3 301.6L679.9 302.3L681.6 302.8L683.3 302.9L685.0 303.1L686.6 303.4L688.4 303.6L690.0 304.0L691.6 304.7L693.2 305.6L694.9 305.9L696.6 306.4L698.3 306.9L700.0 307.3L701.8 307.6L703.3 308.4L705.0 309.0L706.7 309.2L708.4 309.5L710.0 310.0L711.7 309.9L713.4 310.2L715.0 310.8L716.7 310.9L718.3 311.8L720.0 312.0L721.7 312.3L723.3 313.1L724.9 313.8L726.7 314.0L728.3 314.6L730.0 314.9L731.8 315.0L733.4 315.7L735.2 315.5L736.9 315.9"/>
<path d="M671.2 269.8L673.0 269.7L674.7 269.2L676.3 268.2L678.0 267.8L679.9 267.3L681.9 267.0L683.9 266.8L685.9 266.9L687.6 266.9L689.0 267.5L690.6 268.0L692.1 268.4L693.7 268.8L695.4 269.4L697.0 270.1L698.4 271.2L700.1 271.7L701.6 272.7L703.3 273.2L704.9 274.0L706.6 274.6L707.9 275.9L709.4 276.7L711.4 277.0L713.4 277.0L715.3 277.5L717.3 277.6L718.9 277.5L720.6 277.1L722.2 276.8L723.8 276.8L725.4 276.5L727.1 276.7"/>
<path d="M662.0 349.0L663.3 350.1L665.1 350.3L666.5 351.2L668.0 352.0L669.4 353.0L670.3 354.5L671.3 355.9L672.4 357.2L674.0 358.0L673.3 359.8L673.5 361.5L673.8 363.2L674.0 365.0"/>
<path d="M695.5 674.2L697.2 673.6L698.9 673.4L700.7 673.7L702.4 672.8L704.1 672.6L705.9 672.6L707.6 672.1L709.4 671.8L711.2 671.6L712.9 671.1L714.7 670.9L716.4 670.4L718.1 669.7L720.0 669.7L721.8 669.6L723.5 669.1L725.3 669.3L727.1 669.9L728.9 670.3L730.6 670.9L732.5 671.5L734.3 672.3L736.0 673.2L737.6 674.4L739.4 674.9L741.3 675.1L743.0 675.9L744.7 676.8L746.5 677.1L748.2 676.5L750.1 676.5L751.8 676.1L753.5 675.3L755.3 675.1L757.1 674.7L758.9 674.2L760.6 673.5L761.3 671.8L761.2 670.0L760.9 668.2L761.5 666.5L763.2 665.4L765.0 664.7L766.8 664.7"/>
<path d="M322.1 239.3L323.5 238.4L324.4 237.3L324.8 236.5L325.5 235.6L326.3 234.0M323.5 235.9L322.5 235.2L321.6 234.8L320.4 234.8L319.5 234.7L318.3 234.4M326.6 233.8L327.3 234.9L328.3 236.2M317.6 241.6L321.3 240.7L322.1 239.3L322.7 237.3L323.5 235.9L324.6 235.0L325.6 234.1L326.6 233.8L328.2 233.8L330.1 233.0L331.9 232.1L333.5 230.7M326.0 236.0L327.0 235.7L328.8 235.6L330.4 235.7L331.6 235.3M317.6 234.6L319.7 234.1L321.7 234.3L323.0 234.5L324.1 234.7L325.0 235.2L326.0 236.0L326.7 237.0L326.7 238.5L326.8 240.7L326.9 242.5M314.9 227.8L318.3 227.0L320.2 227.1L321.6 227.4M312.6 221.0L315.3 218.7L316.3 217.7L317.4 216.0L318.8 214.6L320.4 213.1L321.5 212.6L323.0 212.3M316.5 212.7L317.6 212.8L318.5 213.2M319.0 210.1L319.8 211.5L320.7 212.9L321.2 214.0L322.2 215.0M309.5 214.7L312.5 214.2L313.7 214.1L314.8 214.1L315.7 213.6L316.5 212.7L317.3 211.4L318.1 210.6L319.0 210.1L320.7 210.0L322.4 209.6L323.1 208.9L324.0 207.4M307.3 210.2L310.3 210.6L311.5 211.5L313.0 212.1L314.0 212.6L314.9 213.6L315.6 214.4L316.4 216.4M307.7 201.2L310.0 202.4L311.4 202.9L313.1 202.6L314.6 203.0M312.1 194.8L313.5 194.4L314.7 194.2L316.0 193.4L317.7 193.0L319.0 192.8M315.0 195.0L316.4 194.0L317.3 193.6L318.4 193.4L320.1 193.3L321.1 193.4M316.3 195.4L316.9 194.6L317.8 193.4L318.7 192.7M309.0 194.0L312.1 194.8L313.7 195.3L315.0 195.0L316.3 195.4L317.9 195.2L319.3 194.2L320.7 193.0M311.3 191.5L311.4 192.5L311.4 193.6M309.6 185.6L310.8 188.1L310.8 190.1L311.3 191.5L312.2 193.3L313.8 194.5L314.8 194.8L316.6 194.6M313.8 184.6L313.0 185.5L312.4 187.2L312.3 188.3L312.6 189.2L313.1 190.1M312.0 182.3L313.8 184.6L314.2 186.1L314.6 187.4L314.3 189.5L314.7 191.1L314.4 192.1M318.9 179.6L319.0 181.2L318.4 182.2L318.0 183.7L317.5 184.6L316.5 186.1L315.1 187.3L314.6 188.7M324.7 180.0L326.3 180.0L327.9 179.7L329.0 179.1L330.4 178.6M325.6 181.3L324.6 182.7L324.0 184.1M328.2 184.1L329.5 184.1L330.8 184.0L332.2 184.2M323.0 177.7L324.7 180.0L325.6 181.3L327.0 182.3L328.2 184.1L329.3 184.5L330.5 185.9L332.0 186.6L333.9 187.0M333.9 177.4L333.3 178.6L332.3 179.7L330.9 180.4M330.4 173.1L333.0 176.3L333.9 177.4L335.3 178.6L336.7 179.0L338.0 179.0M339.4 172.9L339.8 171.5L340.1 170.6M335.2 170.5L337.9 172.9L339.4 172.9L341.3 172.8M343.9 169.8L344.2 168.7L344.3 167.7L344.5 166.5L344.9 165.4M349.2 166.6L348.9 165.6L348.8 164.4L349.0 162.7L349.3 161.1M340.5 168.9L342.1 170.2L343.9 169.8L345.1 169.1L347.1 168.8L348.4 168.0L349.2 166.6L349.1 165.2L348.5 163.6L347.5 162.7L346.3 161.8L345.8 160.4L345.4 158.4L345.7 156.7L346.3 155.1M343.2 167.7L345.8 170.0L346.4 170.9L346.8 173.0L346.7 175.0L346.6 176.2L345.9 177.3L345.8 178.8L345.5 179.9M348.5 169.6L347.1 170.0L345.7 170.3L344.4 170.5M348.6 172.2L348.1 173.3L347.6 174.6M349.0 173.7L348.0 174.0L347.1 174.4M347.4 164.7L348.5 167.9L348.5 169.6L348.5 170.9L348.6 172.2L349.0 173.7L349.4 174.8L349.1 176.9L348.2 178.6M355.4 166.2L353.8 167.0L352.7 167.2L351.4 167.0L349.7 167.4L348.6 167.3M357.9 172.5L356.9 173.6L356.1 174.1L355.3 175.1L354.4 175.6M359.5 174.9L360.8 175.5L362.4 176.2L363.6 176.3L364.4 176.6L365.5 177.2M361.2 176.7L362.5 176.3L364.0 176.4L365.2 176.9L366.2 176.8L367.6 177.1M362.0 180.4L360.4 180.9L358.8 181.6L357.7 182.7L357.1 183.8L356.7 184.8M353.7 161.8L355.4 164.8L355.4 166.2L355.6 167.2L355.9 169.1L357.0 170.5L357.9 172.5L358.9 173.7L359.5 174.9L360.2 175.6L361.2 176.7L361.7 178.7L362.0 180.4L363.1 182.0L364.3 182.9L365.8 183.0L367.6 183.6M358.1 159.8L359.7 162.1L361.4 162.6L362.5 162.4L363.8 161.8L365.8 161.8L367.0 161.2L368.4 161.2L369.8 161.7L371.0 161.6L372.3 161.0L372.9 160.1M371.4 160.3L372.2 161.2L373.1 162.2L373.9 162.6L375.1 163.3M372.4 160.5L373.2 159.7L374.5 158.8L375.6 157.6L376.6 156.8M362.8 156.3L364.7 158.1L366.2 158.9L367.8 159.5L369.6 160.3L371.4 160.3L372.4 160.5L374.2 160.4L376.2 160.1L377.3 159.5L379.0 158.7L380.0 158.6M366.4 152.9L367.8 155.4L368.9 155.6L370.4 156.7L371.1 157.5L371.6 158.5L372.8 159.2L373.7 160.5L374.7 161.3L376.7 162.0L378.1 161.8M368.6 158.4L367.4 159.2L366.4 160.5L365.6 161.2L364.8 162.7M368.1 159.6L367.0 159.9L365.9 160.3L365.2 160.9L364.1 161.6M370.5 149.7L370.1 153.2L369.4 154.7L368.9 156.4L368.6 158.4L368.1 159.6L368.3 161.6L367.9 162.8L367.0 164.7L366.9 166.2M382.9 162.1L383.8 163.4L384.8 164.3L385.6 165.5L386.4 166.2M384.5 163.1L386.0 163.1L387.3 162.8L388.9 162.7M389.0 165.0L389.0 166.4L388.8 167.8L389.1 168.9L389.4 170.1L389.9 171.6M377.3 153.1L377.5 155.9L377.8 157.2L378.5 158.5L379.8 160.1L381.4 161.5L382.9 162.1L384.5 163.1L386.0 163.6L387.4 164.6L389.0 165.0L390.4 164.9L391.4 164.8L393.5 164.4L395.5 164.2L397.6 164.1M380.7 155.7L382.3 156.2L383.9 156.3L385.1 156.6M379.4 153.2L380.7 155.7L382.0 156.9L382.6 157.7L383.8 159.2L384.4 160.4L384.6 162.1L385.6 163.6L387.3 164.7L388.0 165.5M383.5 156.9L384.2 157.8L384.8 158.9M381.4 160.9L379.8 161.1L378.2 161.0L376.5 160.5M385.0 150.7L385.0 154.0L384.2 154.6L383.7 155.8L383.5 156.9L382.7 157.8L381.9 159.4L381.4 160.9L381.0 162.8L379.9 164.2L379.4 165.7L378.8 166.8M391.2 151.2L392.8 151.6L394.5 151.8L395.5 151.6L396.3 151.1L397.6 150.3M389.9 149.8L391.2 151.2L391.5 152.7L391.8 154.8L392.1 156.0L393.0 157.7L394.7 158.8L395.6 159.7L396.2 160.6L396.4 162.0L396.3 163.4M398.0 147.5L398.8 148.1L400.2 149.1L401.4 149.5L402.9 149.5L403.9 149.5M401.5 148.3L402.4 146.9L403.1 146.0L404.1 144.6L404.9 143.6M394.9 145.6L396.8 147.2L398.0 147.5L400.1 147.6L401.5 148.3L402.9 149.3L404.4 149.5L406.5 149.5M403.1 143.4L403.3 144.9L403.2 145.9L403.1 147.1L402.9 148.1L402.2 149.2M406.3 148.4L406.4 149.5L406.9 151.1L407.2 152.1L407.6 153.1L408.3 154.1M400.1 142.3L402.1 143.2L403.1 143.4L404.6 144.6L405.4 145.9L405.6 147.0L406.3 148.4L406.5 150.2L407.0 151.1L407.7 152.0L409.6 152.7L410.5 153.1M404.7 138.9L406.0 141.6L406.1 143.7L406.4 145.0L407.2 146.8L407.1 148.1L407.0 150.0L406.7 151.0L406.7 153.1L406.7 154.3L407.1 155.2L408.2 156.9L409.8 157.7L410.4 158.5L411.5 159.3L413.0 160.7M410.5 135.1L411.5 136.2L412.5 136.6L413.8 137.2L415.4 137.3L416.7 137.3M408.4 135.2L410.5 135.1L412.0 135.6L413.6 136.2L414.9 136.4L416.5 137.0L418.0 137.6L418.7 138.4M407.0 132.0L410.7 131.9L411.7 131.5L413.5 130.5L414.9 129.8M413.8 137.1L414.4 138.5L414.7 139.8L414.5 141.1L414.2 142.8L414.1 144.4M414.9 128.8L415.3 132.0L415.1 133.8L414.5 135.5L413.8 137.1L413.8 139.2L413.8 141.0L414.5 142.9M423.2 137.2L423.0 138.6L423.0 140.4M423.3 140.8L422.5 141.7L421.9 142.6M419.8 129.1L422.0 131.6L422.4 133.3L422.9 135.4L423.2 137.2L423.2 138.5L423.2 139.6L423.3 140.8L422.9 142.9L422.6 144.0L421.9 145.5L420.6 146.7M424.7 126.6L427.0 128.4L428.1 128.5L429.7 128.1L431.3 127.4L433.0 126.2L433.8 124.2M430.9 127.0L432.4 127.9L433.7 128.5L434.9 129.7L435.9 130.3L436.8 130.9M428.4 123.2L430.3 125.6L430.9 127.0L431.2 128.3L430.8 129.9M430.3 121.5L433.1 122.8L434.6 123.2L436.5 124.0L438.5 124.7M433.6 117.4L435.8 120.0L437.0 120.8L438.7 121.5L440.7 122.1L442.4 122.4L443.6 122.2L445.6 121.5L447.5 121.7L448.9 122.5M439.8 108.9L440.9 108.9L442.1 108.5L443.2 108.6L444.9 109.0L446.5 108.7M433.9 114.0L436.1 112.5L438.1 111.9L439.1 110.9L439.8 108.9L439.7 107.2L440.0 105.6L440.8 103.9M436.0 109.2L435.0 110.1L433.8 110.6L432.4 111.2M442.2 114.0L442.8 115.7L443.4 117.1L443.9 118.5L444.1 119.4M434.3 105.9L436.0 109.2L437.0 110.0L438.1 111.1L438.6 112.2L439.5 112.9L441.2 113.3L442.2 114.0L442.9 114.9L443.2 116.0L444.0 117.8M448.9 108.0L449.6 106.8L450.5 106.0L451.5 104.8L452.4 104.0L453.3 103.6M438.5 102.9L440.6 105.4L442.3 105.9L443.8 106.5L445.4 107.2L447.1 107.7L448.9 108.0L450.3 108.8L451.1 109.8M443.9 99.5L445.5 101.5L446.7 102.5L447.9 103.1L448.6 104.1M450.4 98.0L450.3 99.0L450.1 100.5L450.2 101.9L450.2 103.5L450.1 105.0M451.5 99.3L452.6 99.3L453.5 99.2M452.5 100.1L453.4 99.6L454.8 99.3L455.9 99.2L457.6 98.6L458.6 98.6M453.6 101.4L453.3 102.4L452.9 103.7L452.3 104.5L451.4 105.1L450.6 105.8M453.0 105.8L454.4 106.4L455.5 106.8M453.2 107.1L452.2 107.6L451.0 107.8M448.4 96.5L450.4 98.0L451.5 99.3L452.5 100.1L453.6 101.4L453.9 102.7L453.3 104.6L453.0 105.8L453.2 107.1L452.5 109.0L451.6 109.9L450.2 111.4L449.0 112.0M450.8 94.1L452.8 95.8L453.5 97.5L453.7 99.7L453.1 101.1L452.8 102.8L451.8 104.1M455.3 92.5L455.3 91.5L455.4 90.5M453.1 91.8L455.3 92.5L457.3 92.8L459.0 93.5L460.4 93.9L462.5 94.3M457.8 86.8L460.4 89.0L461.9 88.8L463.0 88.9L465.1 89.2L466.7 89.6L468.3 89.9M463.2 93.7L463.5 94.6L464.4 96.1L464.7 97.9L465.0 99.6M461.5 84.3L462.7 87.0L462.7 88.6L463.2 89.9L463.3 91.0L463.6 92.6L463.2 93.7L462.2 95.2L461.6 96.8M465.1 80.1L467.0 83.0L467.5 84.5L468.5 85.4L469.5 85.7L471.6 85.7L473.6 86.1L475.5 85.5L476.6 84.8L478.8 84.2L480.5 83.3M471.9 79.1L471.5 80.1L471.1 81.0L470.1 82.1M472.9 80.2L472.4 81.6L471.9 82.8L471.2 83.8L470.3 84.7M474.5 81.3L474.3 83.1L474.2 84.2L473.6 85.8M469.6 77.2L471.9 79.1L472.9 80.2L474.5 81.3L475.7 81.8L476.9 81.9L478.0 81.5L479.3 81.7L481.1 81.5L482.5 81.9M476.4 77.2L477.8 78.0L479.1 78.7M476.7 83.5L477.5 85.1L477.6 86.0L477.4 87.1L477.4 88.1M475.6 74.7L476.4 77.2L477.1 78.7L477.0 79.7L477.2 80.8L477.2 82.4L476.7 83.5L476.2 85.5L475.4 87.2L474.5 88.7L473.4 90.4L472.3 91.0L471.2 92.6L469.5 93.7L467.9 93.9L466.5 94.6L465.4 95.1L464.1 96.6L463.5 97.7L463.6 98.8M481.4 74.6L481.0 76.1L480.2 77.5L479.4 78.7L479.2 79.8L479.1 80.7M480.3 72.1L481.4 74.6L481.4 75.7L481.1 77.4L480.9 79.1L479.7 80.9M484.3 78.5L485.2 79.2L486.0 79.5M485.2 68.8L484.3 73.0L484.1 74.8L484.0 76.2L484.0 77.3L484.3 78.5L484.9 80.1L486.3 81.3L487.5 82.9M492.7 69.2L493.1 71.7L493.5 72.9L493.8 74.2L493.4 76.1M498.6 67.7L500.7 71.1L501.6 72.5L502.3 74.4L503.4 75.3L504.0 77.0L504.3 78.0L504.2 79.2L504.4 80.9M408.5 241.4L408.1 239.9L407.8 238.7L407.9 237.1M411.2 243.1L408.5 241.4L406.7 241.4L405.4 240.9M404.8 247.3L405.5 244.5L406.5 243.1L407.6 241.4M397.5 248.8L394.8 245.5L393.0 244.4M392.0 251.9L390.9 250.2L391.6 248.3L392.1 247.2L392.1 246.2L392.2 245.1M386.8 255.8L385.7 253.2L385.2 251.9M379.9 258.5L378.7 255.8L378.6 254.7L378.4 252.8M375.0 261.9L372.9 259.4M365.6 263.0L366.8 262.0L367.5 261.1L368.5 260.4L370.0 260.0M367.8 265.9L366.5 264.1L365.6 263.0L364.9 262.1L364.5 260.5M357.2 268.3L359.0 265.8L360.8 265.5L362.1 265.8M349.1 263.7L350.1 263.4L351.0 262.9L352.3 262.1M349.7 262.5L350.6 262.5L352.3 262.9M348.2 265.4L349.1 263.7L349.7 262.5L350.2 260.8L351.2 259.1M344.4 261.3L344.7 260.3L345.4 259.6L346.2 259.0M342.4 263.0L344.4 261.3L345.5 261.0L346.8 260.7M336.7 260.0L337.4 257.0L337.5 255.5M330.3 255.8L331.9 253.3L332.9 252.0L333.2 250.5M323.4 249.7L327.1 250.8L328.2 252.0L329.2 253.1L330.6 254.3M317.4 240.8L321.4 239.9L322.9 239.4M317.6 236.4L320.4 235.8L321.5 236.0M315.7 228.4L318.8 228.2L320.0 228.0L321.8 228.7M315.2 224.8L316.3 223.3L316.1 222.2L316.1 220.1M311.4 219.3L315.1 218.5M309.1 212.0L310.5 210.3L311.2 208.6M306.7 206.5L309.9 206.0L311.4 206.4M309.9 196.1L311.6 197.3L313.0 198.4L313.9 198.8M308.2 189.6L311.5 189.4L312.9 189.5L314.0 189.2M310.9 182.5L313.9 184.8L316.0 184.5M316.7 178.6L316.1 182.3L314.6 183.2M321.8 176.9L323.3 180.4L325.3 181.3M328.8 174.6L330.3 176.9L331.5 177.4L332.8 178.0L334.3 178.6L335.2 179.3M335.4 170.6L337.6 173.3L339.3 174.6M346.3 170.6L345.3 171.0L344.3 171.1M344.0 167.6L345.8 169.2L346.3 170.6L347.0 171.5M350.9 163.3L352.0 165.9L352.3 167.7M362.0 162.6L363.4 161.6L363.9 160.8L364.7 159.9L365.5 159.1M359.2 158.6L360.6 161.5L362.0 162.6L363.0 163.1L364.3 163.7M366.5 160.0L367.7 159.5L368.9 159.6L370.3 160.2M364.2 155.4L365.4 158.7L366.5 160.0L367.4 161.6M370.6 149.8L370.6 153.3L370.9 154.3M376.5 151.4L376.5 155.1L376.2 156.7L376.1 158.6M383.0 154.9L383.7 155.8L384.6 157.1L385.6 157.7L386.8 158.4L387.7 159.3M383.6 151.6L383.0 154.9L382.8 156.5M392.3 147.7L393.3 149.9L393.6 151.7M398.3 142.9L400.6 144.8L400.8 145.8L401.5 147.0M403.5 139.3L404.1 141.7L404.6 143.0M407.4 133.1L410.8 133.7L412.2 133.9M412.9 128.4L413.9 131.6L415.0 133.3M420.6 132.3L422.3 132.7L423.5 133.1M419.5 129.8L420.6 132.3L421.3 133.3L422.5 134.0M424.3 125.9L425.2 128.9M429.4 121.5L432.3 122.9L433.4 122.5L434.3 121.9M435.0 117.4L436.9 119.9L437.8 120.8M433.9 112.6L435.8 111.8L437.9 111.2M440.7 102.3L442.6 104.9L444.3 106.2L446.1 107.3L447.3 107.8M444.5 98.0L446.4 100.9L447.0 101.9M450.0 94.7L450.4 97.6L450.3 99.6M455.3 88.8L456.9 92.1L458.0 93.1M460.6 85.9L461.9 87.7L462.5 89.8L462.9 91.6L463.9 93.5M469.2 81.3L470.3 81.5L471.7 81.7L472.7 82.0L473.7 82.9L475.0 83.6M467.5 78.1L469.2 81.3L469.1 82.4L469.5 83.6L470.6 85.1L471.6 86.6M474.9 74.3L475.3 78.0M479.0 72.7L479.0 75.8L479.0 77.5M486.3 74.1L488.0 74.0L488.9 74.2L490.1 74.8L491.7 75.6M483.4 70.7L485.4 72.7L486.3 74.1L488.0 75.5M491.7 69.2L491.4 71.4L490.1 72.9M501.8 70.2L501.4 71.3L501.3 72.5L500.9 73.3L500.3 74.3L499.1 75.6M500.1 67.0L501.8 70.2L502.9 70.8L504.7 71.1"/>
<ellipse cx="474.2" cy="74.5" rx="0.7" ry="0.7" transform="rotate(86 474.2 74.5)"/>
<ellipse cx="497.1" cy="66.6" rx="0.8" ry="0.9" transform="rotate(179 497.1 66.6)"/>
<ellipse cx="320.1" cy="244.0" rx="1.4" ry="0.9" transform="rotate(108 320.1 244.0)"/>
<ellipse cx="316.1" cy="179.9" rx="0.6" ry="0.8" transform="rotate(151 316.1 179.9)"/>
<ellipse cx="314.5" cy="227.1" rx="1.2" ry="0.5" transform="rotate(74 314.5 227.1)"/>
<ellipse cx="348.1" cy="162.7" rx="0.9" ry="0.4" transform="rotate(68 348.1 162.7)"/>
<ellipse cx="346.0" cy="165.3" rx="0.5" ry="0.8" transform="rotate(1 346.0 165.3)"/>
<ellipse cx="442.6" cy="99.6" rx="1.0" ry="0.4" transform="rotate(108 442.6 99.6)"/>
<ellipse cx="310.2" cy="194.9" rx="1.3" ry="0.5" transform="rotate(51 310.2 194.9)"/>
<ellipse cx="409.6" cy="128.6" rx="1.0" ry="0.4" transform="rotate(21 409.6 128.6)"/>
<ellipse cx="490.4" cy="68.8" rx="0.6" ry="0.5" transform="rotate(23 490.4 68.8)"/>
<ellipse cx="308.7" cy="183.2" rx="1.5" ry="0.4" transform="rotate(142 308.7 183.2)"/>
<ellipse cx="311.2" cy="180.1" rx="1.1" ry="0.4" transform="rotate(103 311.2 180.1)"/>
<ellipse cx="361.1" cy="156.1" rx="1.2" ry="0.8" transform="rotate(133 361.1 156.1)"/>
<ellipse cx="310.7" cy="216.4" rx="1.4" ry="0.6" transform="rotate(53 310.7 216.4)"/>
<ellipse cx="433.2" cy="104.2" rx="1.2" ry="0.6" transform="rotate(155 433.2 104.2)"/>
<ellipse cx="409.5" cy="128.5" rx="0.7" ry="0.5" transform="rotate(22 409.5 128.5)"/>
<ellipse cx="405.0" cy="138.4" rx="1.3" ry="0.4" transform="rotate(143 405.0 138.4)"/>
<ellipse cx="456.0" cy="86.3" rx="0.7" ry="0.8" transform="rotate(108 456.0 86.3)"/>
<ellipse cx="351.9" cy="160.6" rx="1.0" ry="0.9" transform="rotate(143 351.9 160.6)"/>
<ellipse cx="428.5" cy="122.5" rx="1.2" ry="0.8" transform="rotate(7 428.5 122.5)"/>
<ellipse cx="314.9" cy="235.2" rx="0.8" ry="0.5" transform="rotate(30 314.9 235.2)"/>
<ellipse cx="309.2" cy="185.4" rx="0.7" ry="0.6" transform="rotate(156 309.2 185.4)"/>
<ellipse cx="325.0" cy="253.3" rx="0.6" ry="0.7" transform="rotate(35 325.0 253.3)"/>
<ellipse cx="310.7" cy="217.9" rx="0.6" ry="0.6" transform="rotate(36 310.7 217.9)"/>
<ellipse cx="431.2" cy="113.7" rx="1.2" ry="0.5" transform="rotate(152 431.2 113.7)"/>
<ellipse cx="488.2" cy="66.5" rx="0.8" ry="0.5" transform="rotate(161 488.2 66.5)"/>
<ellipse cx="312.0" cy="224.4" rx="1.4" ry="0.5" transform="rotate(121 312.0 224.4)"/>
<ellipse cx="473.6" cy="73.7" rx="0.6" ry="0.7" transform="rotate(151 473.6 73.7)"/>
<ellipse cx="376.4" cy="149.2" rx="0.5" ry="0.9" transform="rotate(111 376.4 149.2)"/>
<ellipse cx="403.1" cy="137.8" rx="1.4" ry="0.4" transform="rotate(164 403.1 137.8)"/>
<ellipse cx="399.2" cy="141.5" rx="0.6" ry="0.4" transform="rotate(125 399.2 141.5)"/>
<ellipse cx="469.2" cy="74.6" rx="1.2" ry="0.7" transform="rotate(7 469.2 74.6)"/>
<ellipse cx="428.9" cy="121.4" rx="0.9" ry="0.9" transform="rotate(146 428.9 121.4)"/>
<ellipse cx="493.7" cy="68.9" rx="1.1" ry="0.7" transform="rotate(173 493.7 68.9)"/>
<ellipse cx="446.8" cy="97.4" rx="0.7" ry="0.7" transform="rotate(46 446.8 97.4)"/>
<ellipse cx="313.9" cy="224.7" rx="1.0" ry="0.7" transform="rotate(6 313.9 224.7)"/>
<ellipse cx="314.2" cy="231.7" rx="0.5" ry="0.9" transform="rotate(151 314.2 231.7)"/>
<ellipse cx="311.8" cy="178.3" rx="1.3" ry="0.5" transform="rotate(89 311.8 178.3)"/>
<ellipse cx="356.1" cy="160.8" rx="1.5" ry="0.5" transform="rotate(13 356.1 160.8)"/>
<ellipse cx="304.8" cy="202.8" rx="0.6" ry="0.5" transform="rotate(6 304.8 202.8)"/>
<ellipse cx="474.4" cy="74.7" rx="1.4" ry="0.4" transform="rotate(1 474.4 74.7)"/>
<ellipse cx="378.4" cy="150.6" rx="0.5" ry="0.5" transform="rotate(156 378.4 150.6)"/>
<ellipse cx="322.1" cy="247.3" rx="0.9" ry="0.8" transform="rotate(121 322.1 247.3)"/>
<ellipse cx="407.5" cy="132.8" rx="0.6" ry="0.5" transform="rotate(76 407.5 132.8)"/>
<ellipse cx="317.8" cy="245.6" rx="1.3" ry="0.9" transform="rotate(1 317.8 245.6)"/>
<ellipse cx="408.3" cy="136.4" rx="0.8" ry="0.5" transform="rotate(154 408.3 136.4)"/>
<ellipse cx="407.1" cy="133.7" rx="1.3" ry="0.6" transform="rotate(53 407.1 133.7)"/>
<ellipse cx="312.5" cy="222.8" rx="1.1" ry="0.7" transform="rotate(112 312.5 222.8)"/>
<ellipse cx="433.5" cy="116.8" rx="0.8" ry="0.5" transform="rotate(139 433.5 116.8)"/>
<ellipse cx="322.4" cy="251.2" rx="1.2" ry="0.5" transform="rotate(160 322.4 251.2)"/>
<ellipse cx="312.3" cy="222.1" rx="1.1" ry="0.8" transform="rotate(171 312.3 222.1)"/>
<ellipse cx="433.0" cy="116.7" rx="0.8" ry="0.4" transform="rotate(141 433.0 116.7)"/>
<ellipse cx="445.6" cy="94.7" rx="0.8" ry="0.8" transform="rotate(131 445.6 94.7)"/>
<ellipse cx="495.2" cy="66.4" rx="0.8" ry="0.7" transform="rotate(18 495.2 66.4)"/>
<ellipse cx="350.9" cy="160.6" rx="0.5" ry="0.5" transform="rotate(41 350.9 160.6)"/>
<ellipse cx="305.9" cy="210.8" rx="0.9" ry="0.8" transform="rotate(99 305.9 210.8)"/>
<ellipse cx="499.1" cy="66.7" rx="0.9" ry="0.9" transform="rotate(51 499.1 66.7)"/>
<ellipse cx="406.3" cy="130.5" rx="1.3" ry="0.8" transform="rotate(45 406.3 130.5)"/>
<ellipse cx="314.2" cy="178.1" rx="0.5" ry="0.6" transform="rotate(173 314.2 178.1)"/>
<ellipse cx="459.9" cy="82.7" rx="0.8" ry="0.5" transform="rotate(115 459.9 82.7)"/>
<ellipse cx="482.1" cy="70.7" rx="0.8" ry="0.8" transform="rotate(88 482.1 70.7)"/>
<ellipse cx="315.0" cy="238.2" rx="0.5" ry="0.5" transform="rotate(171 315.0 238.2)"/>
<ellipse cx="307.6" cy="210.8" rx="1.2" ry="0.5" transform="rotate(108 307.6 210.8)"/>
<ellipse cx="346.4" cy="163.2" rx="1.1" ry="0.4" transform="rotate(142 346.4 163.2)"/>
<ellipse cx="315.2" cy="235.2" rx="1.0" ry="0.4" transform="rotate(102 315.2 235.2)"/>
<ellipse cx="472.2" cy="73.7" rx="0.7" ry="0.4" transform="rotate(42 472.2 73.7)"/>
<ellipse cx="310.1" cy="216.4" rx="0.7" ry="0.6" transform="rotate(134 310.1 216.4)"/>
<ellipse cx="330.5" cy="174.3" rx="1.2" ry="0.6" transform="rotate(57 330.5 174.3)"/>
<ellipse cx="322.2" cy="175.7" rx="1.1" ry="0.9" transform="rotate(168 322.2 175.7)"/>
<ellipse cx="412.3" cy="128.8" rx="0.8" ry="0.4" transform="rotate(103 412.3 128.8)"/>
<ellipse cx="362.6" cy="152.7" rx="0.5" ry="0.5" transform="rotate(36 362.6 152.7)"/>
<ellipse cx="337.9" cy="167.6" rx="1.4" ry="0.6" transform="rotate(128 337.9 167.6)"/>
<ellipse cx="313.4" cy="181.4" rx="1.5" ry="0.5" transform="rotate(106 313.4 181.4)"/>
<ellipse cx="481.7" cy="68.5" rx="1.2" ry="0.7" transform="rotate(131 481.7 68.5)"/>
<ellipse cx="490.2" cy="68.6" rx="1.1" ry="0.9" transform="rotate(88 490.2 68.6)"/>
<ellipse cx="324.0" cy="254.3" rx="1.1" ry="0.6" transform="rotate(26 324.0 254.3)"/>
<ellipse cx="350.8" cy="163.5" rx="1.2" ry="0.5" transform="rotate(75 350.8 163.5)"/>
<ellipse cx="351.3" cy="161.3" rx="0.9" ry="0.5" transform="rotate(163 351.3 161.3)"/>
<ellipse cx="420.0" cy="125.6" rx="1.1" ry="0.4" transform="rotate(53 420.0 125.6)"/>
<ellipse cx="315.0" cy="224.3" rx="1.3" ry="0.8" transform="rotate(91 315.0 224.3)"/>
<ellipse cx="422.7" cy="124.8" rx="0.6" ry="0.8" transform="rotate(109 422.7 124.8)"/>
<ellipse cx="322.7" cy="176.0" rx="1.0" ry="0.8" transform="rotate(93 322.7 176.0)"/>
<ellipse cx="341.1" cy="167.7" rx="1.0" ry="0.8" transform="rotate(8 341.1 167.7)"/>
<ellipse cx="322.7" cy="177.0" rx="1.0" ry="0.5" transform="rotate(136 322.7 177.0)"/>
<ellipse cx="459.8" cy="85.7" rx="1.4" ry="0.8" transform="rotate(174 459.8 85.7)"/>
<ellipse cx="355.3" cy="160.3" rx="0.9" ry="0.9" transform="rotate(104 355.3 160.3)"/>
<ellipse cx="499.6" cy="67.8" rx="1.1" ry="0.8" transform="rotate(164 499.6 67.8)"/>
<ellipse cx="408.2" cy="134.2" rx="0.9" ry="0.6" transform="rotate(49 408.2 134.2)"/>
<ellipse cx="478.7" cy="73.2" rx="0.8" ry="0.4" transform="rotate(30 478.7 73.2)"/>
<ellipse cx="330.1" cy="257.8" rx="0.9" ry="0.5" transform="rotate(47 330.1 257.8)"/>
<ellipse cx="314.1" cy="229.7" rx="0.6" ry="0.8" transform="rotate(46 314.1 229.7)"/>
<ellipse cx="335.4" cy="170.8" rx="1.2" ry="0.8" transform="rotate(129 335.4 170.8)"/>
<ellipse cx="406.5" cy="130.1" rx="1.4" ry="0.4" transform="rotate(136 406.5 130.1)"/>
<ellipse cx="483.4" cy="70.6" rx="1.3" ry="0.8" transform="rotate(86 483.4 70.6)"/>
<ellipse cx="315.2" cy="226.7" rx="1.5" ry="0.7" transform="rotate(165 315.2 226.7)"/>
<ellipse cx="491.8" cy="67.4" rx="1.4" ry="0.7" transform="rotate(3 491.8 67.4)"/>
<ellipse cx="392.2" cy="145.1" rx="1.4" ry="0.7" transform="rotate(67 392.2 145.1)"/>
<ellipse cx="316.3" cy="176.9" rx="0.8" ry="0.8" transform="rotate(132 316.3 176.9)"/>
<ellipse cx="430.2" cy="121.5" rx="1.2" ry="0.6" transform="rotate(81 430.2 121.5)"/>
<ellipse cx="414.5" cy="126.5" rx="0.8" ry="0.7" transform="rotate(24 414.5 126.5)"/>
<ellipse cx="373.3" cy="151.6" rx="0.9" ry="0.6" transform="rotate(78 373.3 151.6)"/>
<ellipse cx="444.5" cy="98.3" rx="0.9" ry="0.7" transform="rotate(53 444.5 98.3)"/>
<ellipse cx="321.0" cy="175.5" rx="1.1" ry="0.4" transform="rotate(169 321.0 175.5)"/>
<ellipse cx="387.3" cy="147.5" rx="1.3" ry="0.6" transform="rotate(43 387.3 147.5)"/>
<ellipse cx="321.6" cy="177.5" rx="1.5" ry="0.5" transform="rotate(40 321.6 177.5)"/>
<ellipse cx="376.7" cy="151.7" rx="0.7" ry="0.7" transform="rotate(172 376.7 151.7)"/>
<ellipse cx="336.8" cy="169.1" rx="0.9" ry="0.8" transform="rotate(68 336.8 169.1)"/>
<ellipse cx="470.8" cy="74.5" rx="0.8" ry="0.9" transform="rotate(47 470.8 74.5)"/>
<ellipse cx="323.0" cy="248.9" rx="1.0" ry="0.5" transform="rotate(27 323.0 248.9)"/>
</g>
</svg></div>
<svg class="abs" style="left:0;top:0" width="1016" height="1017" viewBox="0 0 1016 1017">
<rect x="19.3" y="77.7" width="229.7" height="326" fill="#ebebeb"/>
<rect x="32.1" y="175.2" width="20.1" height="11.6" fill="#EBBF36"/>
<rect x="32.1" y="197.2" width="20.1" height="11.6" fill="#F6D878"/>
<rect x="29.1" y="339.6" width="71.8" height="16.5" fill="#3ba4e4"/>
<rect x="514.5" y="269.2" width="115.4" height="70.7" fill="#fff"/>
<rect x="629.8" y="368.3" width="115.4" height="70.7" fill="#fff"/>
<rect x="347.7" y="468.4" width="115.4" height="70.7" fill="#fff"/>
<rect x="657.5" y="459.2" width="115.4" height="70.7" fill="#fff"/>
<rect x="733.0" y="466.7" width="14.4" height="14.3" fill="#3ba4e4"/>
<rect x="782.0" y="587.9" width="115.4" height="70.7" fill="#fff"/>
<rect x="541.1" y="704.1" width="115.4" height="70.7" fill="#fff"/>
<rect x="612.1" y="711.4" width="14.4" height="14.3" fill="#3ba4e4"/>
<rect x="773.1" y="813.3" width="115.4" height="70.7" fill="#fff"/>
<rect x="195.9" y="638.1" width="115.4" height="70.7" fill="#fff"/>
<rect x="255.1" y="645.0" width="14.4" height="14.3" fill="#3ba4e4"/>
<rect x="36.6" y="761.2" width="115.4" height="70.7" fill="#fff"/>
</svg>
<div class="badge" style="left:733.0px;top:466.7px">1</div>
<div class="badge" style="left:612.1px;top:711.4px">2</div>
<div class="badge" style="left:255.1px;top:645.0px">3</div>
<svg class="abs" style="left:0;top:0" width="1016" height="1017" viewBox="0 0 1016 1017">
<circle cx="44.5" cy="246" r="10.0" fill="none" stroke="#888" stroke-width="1.05" stroke-dasharray="3.2 1.6"/>
<circle cx="84.4" cy="246" r="22.3" fill="none" stroke="#888" stroke-width="1.05" stroke-dasharray="3.2 1.6"/>
<circle cx="146.9" cy="246" r="31.3" fill="none" stroke="#888" stroke-width="1.05" stroke-dasharray="3.2 1.6"/>
<circle cx="663.7" cy="129.1" r="10.7" fill="#F6D878" fill-opacity="0.82"/><circle cx="663.7" cy="129.1" r="3.8" fill="#EBBF36"/>
<circle cx="524.2" cy="172.2" r="12.6" fill="#F6D878" fill-opacity="0.82"/><circle cx="524.2" cy="172.2" r="5.6" fill="#EBBF36"/>
<circle cx="400.1" cy="312.1" r="28.7" fill="#F6D878" fill-opacity="0.82"/><circle cx="400.1" cy="312.1" r="15.7" fill="#EBBF36"/>
<circle cx="331.1" cy="390.4" r="36.1" fill="#F6D878" fill-opacity="0.82"/><circle cx="331.1" cy="390.4" r="18.2" fill="#EBBF36"/>
<circle cx="310.9" cy="439.1" r="30.0" fill="#F6D878" fill-opacity="0.82"/><circle cx="310.9" cy="439.1" r="18.2" fill="#EBBF36"/>
<circle cx="427.6" cy="426.1" r="33.1" fill="#F6D878" fill-opacity="0.82"/><circle cx="427.6" cy="426.1" r="23.7" fill="#EBBF36"/>
<circle cx="673.7" cy="328.2" r="37.9" fill="#F6D878" fill-opacity="0.82"/><circle cx="673.7" cy="328.2" r="14.4" fill="#EBBF36"/>
<circle cx="598.9" cy="402.7" r="26.0" fill="#F6D878" fill-opacity="0.82"/><circle cx="598.9" cy="402.7" r="5.7" fill="#EBBF36"/>
<circle cx="539.2" cy="460.2" r="20.0" fill="#F6D878" fill-opacity="0.82"/><circle cx="539.2" cy="460.2" r="14.4" fill="#EBBF36"/>
<circle cx="499.3" cy="510.9" r="29.3" fill="#F6D878" fill-opacity="0.82"/><circle cx="499.3" cy="510.9" r="13.4" fill="#EBBF36"/>
<circle cx="536.8" cy="544.2" r="24.0" fill="#F6D878" fill-opacity="0.82"/><circle cx="536.8" cy="544.2" r="12.0" fill="#EBBF36"/>
<circle cx="612.1" cy="529.0" r="43.3" fill="#F6D878" fill-opacity="0.82"/><circle cx="612.1" cy="529.0" r="18.1" fill="#EBBF36"/>
<circle cx="728.8" cy="557.0" r="24.3" fill="#F6D878" fill-opacity="0.82"/><circle cx="728.8" cy="557.0" r="15.2" fill="#EBBF36"/>
<circle cx="741.1" cy="635.9" r="32.9" fill="#F6D878" fill-opacity="0.82"/><circle cx="741.1" cy="635.9" r="15.5" fill="#EBBF36"/>
<circle cx="706.7" cy="728.3" r="40.2" fill="#F6D878" fill-opacity="0.82"/><circle cx="706.7" cy="728.3" r="26.4" fill="#EBBF36"/>
<circle cx="935.0" cy="848.0" r="39.1" fill="#F6D878" fill-opacity="0.82"/><circle cx="935.0" cy="848.0" r="18.0" fill="#EBBF36"/>
<circle cx="269.7" cy="536.2" r="18.0" fill="#F6D878" fill-opacity="0.82"/><circle cx="269.7" cy="536.2" r="13.0" fill="#EBBF36"/>
<circle cx="486.0" cy="631.7" r="31.7" fill="#F6D878" fill-opacity="0.82"/><circle cx="486.0" cy="631.7" r="24.7" fill="#EBBF36"/>
<circle cx="150.6" cy="701.9" r="40.0" fill="#F6D878" fill-opacity="0.82"/><circle cx="150.6" cy="701.9" r="20.2" fill="#EBBF36"/>
<circle cx="61.2" cy="721.1" r="33.0" fill="#F6D878" fill-opacity="0.82"/><circle cx="61.2" cy="721.1" r="14.0" fill="#EBBF36"/>
<polygon points="630.2,312.95000000000005 638.2,317.1 630.2,321.25" fill="#333"/>
<polygon points="629.8,379.15000000000003 621.8,383.3 629.8,387.45" fill="#333"/>
<polygon points="463.2,495.15000000000003 471.2,499.3 463.2,503.45" fill="#333"/>
<polygon points="657.4,503.35 649.4,507.5 657.4,511.65" fill="#333"/>
<polygon points="782.0,631.65 774.0,635.8 782.0,639.9499999999999" fill="#333"/>
<polygon points="657.0,719.65 665.0,723.8 657.0,727.9499999999999" fill="#333"/>
<polygon points="888.6,856.95 896.6,861.1 888.6,865.25" fill="#333"/>
<polygon points="195.8,682.0500000000001 187.8,686.2 195.8,690.35" fill="#333"/>
<polygon points="47.35,761.3 51.5,753.3 55.65,761.3" fill="#333"/>
</svg>
<div class="t" style="left:9.7px;top:7.57px;font-size:28.5px;transform:scaleX(1.0796);color:#333;-webkit-text-stroke:0.4px #333;">Solar power is growing in every EU country</div>
<div class="t" style="left:31.7px;top:87.69px;font-size:20.8px;transform:scaleX(1.1953);color:#333;-webkit-text-stroke:0.4px #333;">Share of electricity</div>
<div class="t" style="left:31.7px;top:114.19px;font-size:20.8px;transform:scaleX(1.2004);color:#333;-webkit-text-stroke:0.4px #333;">generation</div>
<div class="t" style="left:31.7px;top:140.29px;font-size:20.8px;transform:scaleX(1.1655);color:#333;-webkit-text-stroke:0.4px #333;">from solar (%)</div>
<div class="t" style="left:66.2px;top:174.01px;font-size:15.7px;transform:scaleX(1.0828);color:#444;">2019</div>
<div class="t" style="left:66.2px;top:196.11px;font-size:15.7px;transform:scaleX(1.1515);color:#444;">2024</div>
<div class="t" style="left:32.0px;top:286.46px;font-size:16px;transform:scaleX(1.0320);color:#444;">1%</div>
<div class="t" style="left:70.1px;top:286.46px;font-size:16px;transform:scaleX(1.1223);color:#444;">5%</div>
<div class="t" style="left:130.4px;top:286.46px;font-size:16px;transform:scaleX(1.1006);color:#444;">10%</div>
<div class="t" style="left:29.9px;top:320.76px;font-size:15.4px;transform:scaleX(1.1219);color:#555;">High-growth countries and</div>
<div class="t" style="left:31.0px;top:338.66px;font-size:15.4px;transform:scaleX(1.1231);color:#fff;">top three</div>
<div class="t" style="left:103.1px;top:338.66px;font-size:15.4px;transform:scaleX(1.0867);color:#555;">ranked countries</div>
<div class="t" style="left:31.0px;top:356.46px;font-size:15.4px;transform:scaleX(1.0564);color:#555;">by solar share in 2024 are</div>
<div class="t" style="left:29.9px;top:374.26px;font-size:15.4px;transform:scaleX(1.1087);color:#555;">labelled</div>
<div class="t" style="left:648.7px;top:104.52px;font-size:12.5px;transform:scaleX(1.0387);color:#555;text-shadow:0 0 1px #f0f0f0,0 0 1px #f0f0f0;">Finland</div>
<div class="t" style="left:489.1px;top:146.12px;font-size:12.5px;transform:scaleX(1.0814);color:#555;text-shadow:0 0 1px #f0f0f0,0 0 1px #f0f0f0;">Sweden</div>
<div class="t" style="left:316.2px;top:296.42px;font-size:12.5px;transform:scaleX(1.0464);color:#555;text-shadow:0 0 1px #f0f0f0,0 0 1px #f0f0f0;">Denmark</div>
<div class="t" style="left:277.6px;top:341.12px;font-size:12.5px;transform:scaleX(1.0960);color:#555;text-shadow:0 0 1px #f0f0f0,0 0 1px #f0f0f0;">Netherlands</div>
<div class="t" style="left:399.0px;top:380.82px;font-size:12.5px;transform:scaleX(1.0604);color:#555;text-shadow:0 0 1px #f0f0f0,0 0 1px #f0f0f0;">Germany</div>
<div class="t" style="left:236.2px;top:407.12px;font-size:12.5px;transform:scaleX(1.1040);color:#555;text-shadow:0 0 1px #f0f0f0,0 0 1px #f0f0f0;">Belgium</div>
<div class="t" style="left:470.0px;top:445.32px;font-size:12.5px;transform:scaleX(1.0617);color:#555;text-shadow:0 0 1px #f0f0f0,0 0 1px #f0f0f0;">Czechia</div>
<div class="t" style="left:460.6px;top:543.42px;font-size:12.5px;transform:scaleX(1.0458);color:#555;text-shadow:0 0 1px #f0f0f0,0 0 1px #f0f0f0;">Slovenia</div>
<div class="t" style="left:705.2px;top:584.02px;font-size:12.5px;transform:scaleX(1.0393);color:#555;text-shadow:0 0 1px #f0f0f0,0 0 1px #f0f0f0;">Romania</div>
<div class="t" style="left:244.9px;top:502.12px;font-size:12.5px;transform:scaleX(1.0619);color:#555;text-shadow:0 0 1px #f0f0f0,0 0 1px #f0f0f0;">France</div>
<div class="t" style="left:505.7px;top:661.52px;font-size:12.5px;transform:scaleX(1.0278);color:#555;text-shadow:0 0 1px #f0f0f0,0 0 1px #f0f0f0;">Italy</div>
<div class="t" style="left:522.7px;top:274.74px;font-size:15.55px;transform:scaleX(1.0599);color:#333;-webkit-text-stroke:0.2px #333;">Lithuania</div>
<div class="t" style="left:523.9px;top:297.21px;font-size:15.7px;transform:scaleX(1.0038);color:#444;">2019</div>
<div class="t" style="left:523.9px;top:313.51px;font-size:15.7px;transform:scaleX(1.0520);color:#444;">2024</div>
<div class="t" style="left:574.4px;top:297.21px;font-size:15.7px;transform:scaleX(1.0387);color:#2e2e2e;-webkit-text-stroke:0.35px #2e2e2e;">3%</div>
<div class="t" style="left:572.1px;top:313.51px;font-size:15.7px;transform:scaleX(1.0181);color:#2e2e2e;-webkit-text-stroke:0.35px #2e2e2e;">19%</div>
<div class="t" style="left:638.2px;top:374.24px;font-size:15.55px;transform:scaleX(1.0565);color:#333;-webkit-text-stroke:0.2px #333;">Poland</div>
<div class="t" style="left:639.2px;top:397.01px;font-size:15.7px;transform:scaleX(1.0038);color:#444;">2019</div>
<div class="t" style="left:639.2px;top:413.21px;font-size:15.7px;transform:scaleX(1.0520);color:#444;">2024</div>
<div class="t" style="left:690.0px;top:397.01px;font-size:15.7px;transform:scaleX(1.1092);color:#2e2e2e;-webkit-text-stroke:0.35px #2e2e2e;">0%</div>
<div class="t" style="left:688.7px;top:413.21px;font-size:15.7px;transform:scaleX(1.0651);color:#2e2e2e;-webkit-text-stroke:0.35px #2e2e2e;">9%</div>
<div class="t" style="left:357.0px;top:473.44px;font-size:15.55px;transform:scaleX(1.0566);color:#333;-webkit-text-stroke:0.2px #333;">Austria</div>
<div class="t" style="left:357.1px;top:496.21px;font-size:15.7px;transform:scaleX(1.0038);color:#444;">2019</div>
<div class="t" style="left:357.1px;top:512.21px;font-size:15.7px;transform:scaleX(1.0520);color:#444;">2024</div>
<div class="t" style="left:407.6px;top:496.21px;font-size:15.7px;transform:scaleX(1.0299);color:#2e2e2e;-webkit-text-stroke:0.35px #2e2e2e;">2%</div>
<div class="t" style="left:405.1px;top:512.21px;font-size:15.7px;transform:scaleX(0.9918);color:#2e2e2e;-webkit-text-stroke:0.35px #2e2e2e;">12%</div>
<div class="t" style="left:666.0px;top:466.04px;font-size:15.55px;transform:scaleX(1.0623);color:#333;-webkit-text-stroke:0.2px #333;">Hungary</div>
<div class="t" style="left:666.9px;top:488.21px;font-size:15.7px;transform:scaleX(1.0038);color:#444;">2019</div>
<div class="t" style="left:666.9px;top:504.41px;font-size:15.7px;transform:scaleX(1.0520);color:#444;">2024</div>
<div class="t" style="left:717.5px;top:488.21px;font-size:15.7px;transform:scaleX(1.0651);color:#2e2e2e;-webkit-text-stroke:0.35px #2e2e2e;">4%</div>
<div class="t" style="left:716.6px;top:504.41px;font-size:15.7px;transform:scaleX(1.0620);color:#2e2e2e;-webkit-text-stroke:0.35px #2e2e2e;">25%</div>
<div class="t" style="left:790.5px;top:596.44px;font-size:15.55px;transform:scaleX(1.0552);color:#333;-webkit-text-stroke:0.2px #333;">Bulgaria</div>
<div class="t" style="left:791.4px;top:619.01px;font-size:15.7px;transform:scaleX(1.0038);color:#444;">2019</div>
<div class="t" style="left:791.4px;top:635.31px;font-size:15.7px;transform:scaleX(1.0520);color:#444;">2024</div>
<div class="t" style="left:842.2px;top:619.01px;font-size:15.7px;transform:scaleX(1.0343);color:#2e2e2e;-webkit-text-stroke:0.35px #2e2e2e;">3%</div>
<div class="t" style="left:839.9px;top:635.31px;font-size:15.7px;transform:scaleX(0.9951);color:#2e2e2e;-webkit-text-stroke:0.35px #2e2e2e;">14%</div>
<div class="t" style="left:551.0px;top:710.74px;font-size:15.55px;transform:scaleX(1.0946);color:#333;-webkit-text-stroke:0.2px #333;">Greece</div>
<div class="t" style="left:550.5px;top:733.51px;font-size:15.7px;transform:scaleX(1.0038);color:#444;">2019</div>
<div class="t" style="left:550.5px;top:749.41px;font-size:15.7px;transform:scaleX(1.0520);color:#444;">2024</div>
<div class="t" style="left:601.6px;top:733.51px;font-size:15.7px;transform:scaleX(1.0563);color:#2e2e2e;-webkit-text-stroke:0.35px #2e2e2e;">9%</div>
<div class="t" style="left:600.6px;top:749.41px;font-size:15.7px;transform:scaleX(1.0461);color:#2e2e2e;-webkit-text-stroke:0.35px #2e2e2e;">22%</div>
<div class="t" style="left:782.3px;top:818.34px;font-size:15.55px;transform:scaleX(1.0693);color:#333;-webkit-text-stroke:0.2px #333;">Cyprus</div>
<div class="t" style="left:782.5px;top:841.11px;font-size:15.7px;transform:scaleX(1.0038);color:#444;">2019</div>
<div class="t" style="left:782.5px;top:857.11px;font-size:15.7px;transform:scaleX(1.0520);color:#444;">2024</div>
<div class="t" style="left:833.0px;top:841.11px;font-size:15.7px;transform:scaleX(1.0475);color:#2e2e2e;-webkit-text-stroke:0.35px #2e2e2e;">4%</div>
<div class="t" style="left:832.0px;top:857.11px;font-size:15.7px;transform:scaleX(1.1065);color:#2e2e2e;-webkit-text-stroke:0.35px #2e2e2e;">20%</div>
<div class="t" style="left:205.1px;top:644.04px;font-size:15.55px;transform:scaleX(1.0429);color:#333;-webkit-text-stroke:0.2px #333;">Spain</div>
<div class="t" style="left:205.3px;top:667.11px;font-size:15.7px;transform:scaleX(1.0038);color:#444;">2019</div>
<div class="t" style="left:205.3px;top:683.11px;font-size:15.7px;transform:scaleX(1.0520);color:#444;">2024</div>
<div class="t" style="left:255.8px;top:667.11px;font-size:15.7px;transform:scaleX(1.0695);color:#2e2e2e;-webkit-text-stroke:0.35px #2e2e2e;">6%</div>
<div class="t" style="left:254.8px;top:683.11px;font-size:15.7px;transform:scaleX(0.9539);color:#2e2e2e;-webkit-text-stroke:0.35px #2e2e2e;">21%</div>
<div class="t" style="left:45.2px;top:767.84px;font-size:15.55px;transform:scaleX(1.0930);color:#333;-webkit-text-stroke:0.2px #333;">Portugal</div>
<div class="t" style="left:46.0px;top:790.21px;font-size:15.7px;transform:scaleX(1.0038);color:#444;">2019</div>
<div class="t" style="left:46.0px;top:806.41px;font-size:15.7px;transform:scaleX(1.0520);color:#444;">2024</div>
<div class="t" style="left:96.9px;top:790.21px;font-size:15.7px;transform:scaleX(1.0387);color:#2e2e2e;-webkit-text-stroke:0.35px #2e2e2e;">3%</div>
<div class="t" style="left:94.6px;top:806.41px;font-size:15.7px;transform:scaleX(1.0049);color:#2e2e2e;-webkit-text-stroke:0.35px #2e2e2e;">14%</div>
<div class="t" style="left:10.2px;top:951.36px;font-size:16px;transform:scaleX(1.0837);color:#999;">Source: Yearly electricity data, Ember</div>
<div class="t" style="left:10.2px;top:967.06px;font-size:16px;transform:scaleX(1.0865);color:#999;">Countries with solar generation below 1 TWh were excluded from this graphic (Croatia, Ireland, Estonia,</div>
<div class="t" style="left:9.1px;top:982.66px;font-size:16px;transform:scaleX(1.0631);color:#999;">Latvia, Luxembourg, Malta, Slovakia). Natural Earth Boundaries, Centroids by Gavin Rehkemper.</div>
<svg class="abs" style="left:866px;top:972.8px" width="118" height="24" viewBox="0 0 118 24">
<g fill="#333"><path d="M0 0H16.6V4.6H5V9.6H15.4V14.2H5V19.4H16.6V24H0Z"/>
<path d="M21.3 0H26.3L33.8 12.2L41.3 0H46.3V24H41.4V8.6L34.6 19.4H33L26.2 8.6V24H21.3Z"/>
<path d="M51.6 0H62.6C66.9 0 69.6 2.5 69.6 6.3C69.6 8.7 68.4 10.5 66.6 11.4C69.2 12.2 71 14.2 71 17.2C71 21.3 68 24 63.4 24H51.6ZM56.5 4.3V9.7H61.6C63.5 9.7 64.6 8.6 64.6 7C64.6 5.3 63.5 4.3 61.6 4.3ZM56.5 13.7V19.7H62.4C64.6 19.7 65.9 18.5 65.9 16.7C65.9 14.8 64.6 13.7 62.4 13.7Z" fill-rule="evenodd"/>
<path d="M98.1 0H108.6C113.6 0 116.7 3 116.7 7.6C116.7 11.2 114.8 13.8 111.6 14.8L117.8 24H112L106.4 15.3H103V24H98.1ZM103 4.4V11H108.1C110.4 11 111.7 9.7 111.7 7.7C111.7 5.7 110.4 4.4 108.1 4.4Z" fill-rule="evenodd"/></g>
<g fill="#17cd74"><rect x="76" y="0" width="16.6" height="4.6"/><rect x="76" y="9.7" width="16.6" height="4.7"/><rect x="76" y="19.4" width="16.6" height="4.6"/></g>
</svg>
</div></body></html>
